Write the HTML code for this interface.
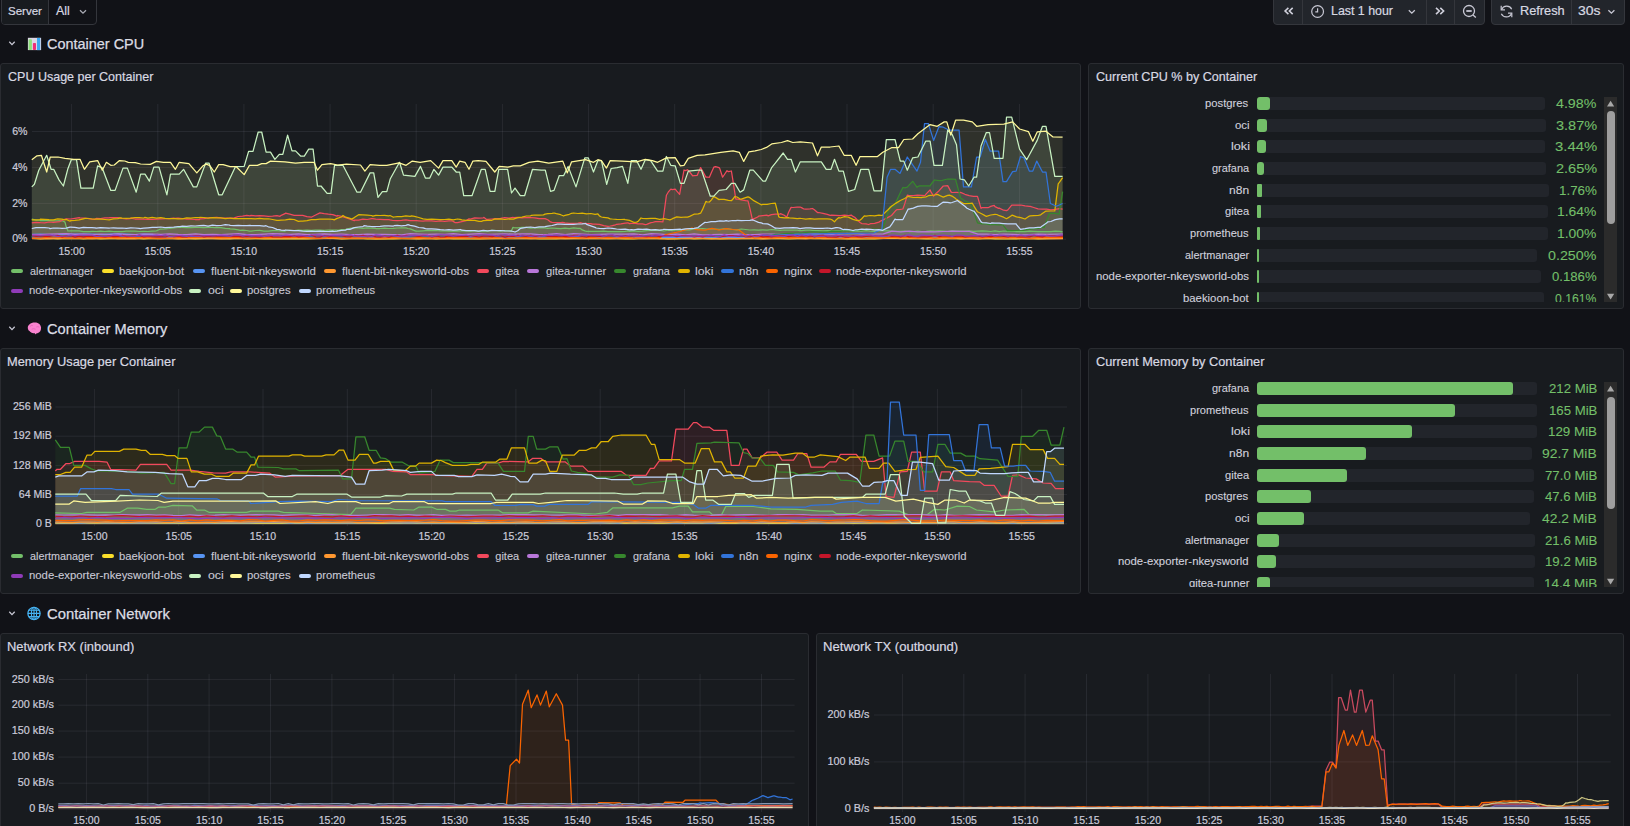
<!DOCTYPE html><html><head><meta charset="utf-8"><style>
*{box-sizing:border-box}
html,body{margin:0;padding:0;background:#111217;width:1630px;height:826px;overflow:hidden;font-family:"Liberation Sans", sans-serif;color:#ccccdc}
.abs{position:absolute}
.panel{position:absolute;background:#181b1f;border:1px solid #2a2c31;border-radius:3px}
.ptitle{position:absolute;left:7px;top:5.5px;font-size:12.85px;color:#d8d9e2;white-space:nowrap;-webkit-text-stroke:0.2px #d8d9e2}
.rowh{position:absolute;left:0;height:20px;font-size:14.7px;color:#dcdde4;white-space:nowrap;-webkit-text-stroke:0.2px #dcdde4}
svg{position:absolute;overflow:visible}
svg text{font-family:"Liberation Sans", sans-serif;stroke:#c8c8d4;stroke-width:0.2px}
.leg{position:absolute;left:11px;display:flex;align-items:center;font-size:10.9px;color:#c8c8d4;white-space:nowrap;-webkit-text-stroke:0.15px #c8c8d4}
.leg span.sw{display:inline-block;width:13px;height:4px;border-radius:2px;margin-right:6.5px}
.leg span.lb{margin-right:9px}
.bg{position:absolute}
.bg .row{position:absolute;left:0;height:14px}
.btn{position:absolute;border:1px solid #2f3137;background:#22252b}
</style></head><body><div class="abs" style="left:1px;top:-9px;width:96px;height:34px;border:1px solid #34363c;border-radius:4px;overflow:hidden;background:#111217"><div class="abs" style="left:0;top:0;width:47px;height:32px;background:#181b1f;border-right:1px solid #34363c"></div></div><div style="position:absolute;left:7.91px;top:5.20px;line-height:1;font-size:11.6px;color:#d8d9e2;white-space:nowrap;transform:scaleX(0.9939);transform-origin:0 0;-webkit-text-stroke:0.2px #d8d9e2">Server</div><div style="position:absolute;left:55.80px;top:5.20px;line-height:1;font-size:12.6px;color:#d8d9e2;white-space:nowrap;transform:scaleX(0.9857);transform-origin:0 0;-webkit-text-stroke:0.2px #d8d9e2">All</div><svg style="left:0;top:0" width="1630" height="30" viewBox="0 0 1630 30"><path d="M80,10.2 L83,13.2 L86,10.2" fill="none" stroke="#a9aab4" stroke-width="1.3"/></svg><div class="abs" style="left:1273px;top:-9px;width:212px;height:34px;border:1px solid #34363c;border-radius:4px;background:#22252b;overflow:hidden"><div class="abs" style="left:28px;top:0;width:1px;height:34px;background:#34363c"></div><div class="abs" style="left:152px;top:0;width:1px;height:34px;background:#34363c"></div><div class="abs" style="left:180px;top:0;width:1px;height:34px;background:#34363c"></div></div><div style="position:absolute;left:1330.62px;top:5.20px;line-height:1;font-size:12.6px;color:#d8d9e2;white-space:nowrap;transform:scaleX(0.9839);transform-origin:0 0;-webkit-text-stroke:0.2px #d8d9e2">Last 1 hour</div><div class="abs" style="left:1491px;top:-9px;width:134px;height:34px;border:1px solid #34363c;border-radius:4px;background:#22252b;overflow:hidden"><div class="abs" style="left:79px;top:0;width:1px;height:34px;background:#34363c"></div></div><div style="position:absolute;left:1519.59px;top:5.20px;line-height:1;font-size:12.6px;color:#d8d9e2;white-space:nowrap;transform:scaleX(1.0140);transform-origin:0 0;-webkit-text-stroke:0.2px #d8d9e2">Refresh</div><div style="position:absolute;left:1577.89px;top:5.20px;line-height:1;font-size:12.6px;color:#d8d9e2;white-space:nowrap;transform:scaleX(1.1053);transform-origin:0 0;-webkit-text-stroke:0.2px #d8d9e2">30s</div><svg style="left:0;top:0" width="1630" height="30" viewBox="0 0 1630 30"><path d="M1288.4,7.9 L1285.1,11 L1288.4,14.1 M1292.7,7.9 L1289.4,11 L1292.7,14.1" fill="none" stroke="#d0d0dc" stroke-width="1.6"/><circle cx="1317.6" cy="11.5" r="5.9" fill="none" stroke="#c8c8d4" stroke-width="1.2"/><path d="M1317.6,8.3 L1317.6,11.8 L1315.3,11.8" fill="none" stroke="#c8c8d4" stroke-width="1.2"/><path d="M1408.8,10.2 L1411.8,13.2 L1414.8,10.2" fill="none" stroke="#c8c8d4" stroke-width="1.3"/><path d="M1436,7.9 L1439.3,11 L1436,14.1 M1440.3,7.9 L1443.6,11 L1440.3,14.1" fill="none" stroke="#d0d0dc" stroke-width="1.6"/><circle cx="1469" cy="11" r="5.5" fill="none" stroke="#c8c8d4" stroke-width="1.3"/><path d="M1466.3,11 L1471.7,11" stroke="#c8c8d4" stroke-width="1.8"/><path d="M1473,15 L1475.8,17.6" stroke="#c8c8d4" stroke-width="1.3"/><path d="M1511.7,9.2 A5.6,5.6 0 0 0 1501.6,9.6 M1501.3,13.8 A5.6,5.6 0 0 0 1511.5,13.4" fill="none" stroke="#c8c8d4" stroke-width="1.2"/><path d="M1501.2,5.8 L1501.2,9.8 L1505,9.8 M1511.8,17.3 L1511.8,13.2 L1508,13.2" fill="none" stroke="#c8c8d4" stroke-width="1.2"/><path d="M1608.4,10.2 L1611.4,13.2 L1614.4,10.2" fill="none" stroke="#c8c8d4" stroke-width="1.3"/></svg><svg style="left:0;top:31px" width="60" height="24" viewBox="0 31 60 24"><path d="M9.3,41.8 L12,44.6 L14.7,41.8" fill="none" stroke="#c8c8d4" stroke-width="1.3"/><rect x="27.9" y="37.8" width="13.2" height="12.3" fill="#dcd6e6"/><rect x="28.6" y="39.3" width="3.3" height="10.8" rx="0.8" fill="#8ee07a"/><rect x="32.9" y="43" width="3.1" height="7.1" rx="0.8" fill="#ee2f78"/><rect x="37" y="37.9" width="3.2" height="12.2" fill="#3aa8f2"/></svg><div style="position:absolute;left:46.99px;top:36.90px;line-height:1;font-size:14.3px;color:#dcdde4;white-space:nowrap;transform:scaleX(1.0106);transform-origin:0 0;-webkit-text-stroke:0.25px #dcdde4">Container CPU</div><svg style="left:0;top:316px" width="60" height="24" viewBox="0 316 60 24"><path d="M9.3,326.8 L12,329.6 L14.7,326.8" fill="none" stroke="#c8c8d4" stroke-width="1.3"/><path d="M29.5,331 C27.2,329.5 27.3,325.6 29.6,324.2 C31.2,322.4 35.5,322.2 37.6,323 C40.5,324 41.6,327 40.9,329.6 C40.3,332.3 38.2,333.6 36.2,333.4 L35.6,334.6 L34.8,333.3 C33.3,333.4 31.8,333 30.9,332.2 C30.3,331.9 29.9,331.5 29.5,331 Z" fill="#f983cf"/><path d="M31.6,329.2 q2,-1 4,0 M36.3,327 q1.8,-0.8 3,0.2 M30,326.4 q1.2,-1.4 2.8,-0.8" fill="none" stroke="#e25cb6" stroke-width="0.7"/></svg><div style="position:absolute;left:46.98px;top:321.90px;line-height:1;font-size:14.3px;color:#dcdde4;white-space:nowrap;transform:scaleX(1.0239);transform-origin:0 0;-webkit-text-stroke:0.25px #dcdde4">Container Memory</div><svg style="left:0;top:601px" width="60" height="24" viewBox="0 601 60 24"><path d="M9.3,611.8 L12,614.6 L14.7,611.8" fill="none" stroke="#c8c8d4" stroke-width="1.3"/><circle cx="34" cy="613.4" r="6.1" fill="none" stroke="#45b2f2" stroke-width="1.3"/><ellipse cx="34" cy="613.4" rx="2.6" ry="6.1" fill="none" stroke="#45b2f2" stroke-width="1.1"/><path d="M34,607.3 L34,619.5 M28,610.2 L40,610.2 M27.9,613.4 L40.1,613.4 M28.4,616.6 L39.6,616.6" stroke="#45b2f2" stroke-width="1.1"/></svg><div style="position:absolute;left:46.96px;top:606.90px;line-height:1;font-size:14.3px;color:#dcdde4;white-space:nowrap;transform:scaleX(1.0385);transform-origin:0 0;-webkit-text-stroke:0.25px #dcdde4">Container Network</div><div class="panel" style="left:0px;top:63px;width:1081px;height:246px"></div><div style="position:absolute;left:8.30px;top:71.30px;line-height:1;font-size:12.6px;color:#d8d9e2;white-space:nowrap;transform:scaleX(0.9932);transform-origin:0 0;-webkit-text-stroke:0.2px #d8d9e2">CPU Usage per Container</div><div class="panel" style="left:1088px;top:63px;width:536px;height:246px"></div><div style="position:absolute;left:1096.30px;top:71.30px;line-height:1;font-size:12.6px;color:#d8d9e2;white-space:nowrap;transform:scaleX(0.9969);transform-origin:0 0;-webkit-text-stroke:0.2px #d8d9e2">Current CPU % by Container</div><div class="panel" style="left:0px;top:348px;width:1081px;height:246px"></div><div style="position:absolute;left:7.28px;top:356.30px;line-height:1;font-size:12.6px;color:#d8d9e2;white-space:nowrap;transform:scaleX(1.0195);transform-origin:0 0;-webkit-text-stroke:0.2px #d8d9e2">Memory Usage per Container</div><div class="panel" style="left:1088px;top:348px;width:536px;height:246px"></div><div style="position:absolute;left:1096.30px;top:356.30px;line-height:1;font-size:12.6px;color:#d8d9e2;white-space:nowrap;transform:scaleX(1.0157);transform-origin:0 0;-webkit-text-stroke:0.2px #d8d9e2">Current Memory by Container</div><div class="panel" style="left:0px;top:633px;width:809px;height:268px"></div><div style="position:absolute;left:7.27px;top:641.30px;line-height:1;font-size:12.6px;color:#d8d9e2;white-space:nowrap;transform:scaleX(1.0270);transform-origin:0 0;-webkit-text-stroke:0.2px #d8d9e2">Network RX (inbound)</div><div class="panel" style="left:816px;top:633px;width:808px;height:268px"></div><div style="position:absolute;left:823.26px;top:641.30px;line-height:1;font-size:12.6px;color:#d8d9e2;white-space:nowrap;transform:scaleX(1.0398);transform-origin:0 0;-webkit-text-stroke:0.2px #d8d9e2">Network TX (outbound)</div><svg style="left:0;top:0" width="1630" height="826" viewBox="0 0 1630 826"><line x1="71.6" y1="104" x2="71.6" y2="241.3" stroke="rgba(204,204,220,0.09)" stroke-width="1"/><line x1="157.8" y1="104" x2="157.8" y2="241.3" stroke="rgba(204,204,220,0.09)" stroke-width="1"/><line x1="243.9" y1="104" x2="243.9" y2="241.3" stroke="rgba(204,204,220,0.09)" stroke-width="1"/><line x1="330.1" y1="104" x2="330.1" y2="241.3" stroke="rgba(204,204,220,0.09)" stroke-width="1"/><line x1="416.2" y1="104" x2="416.2" y2="241.3" stroke="rgba(204,204,220,0.09)" stroke-width="1"/><line x1="502.4" y1="104" x2="502.4" y2="241.3" stroke="rgba(204,204,220,0.09)" stroke-width="1"/><line x1="588.6" y1="104" x2="588.6" y2="241.3" stroke="rgba(204,204,220,0.09)" stroke-width="1"/><line x1="674.7" y1="104" x2="674.7" y2="241.3" stroke="rgba(204,204,220,0.09)" stroke-width="1"/><line x1="760.9" y1="104" x2="760.9" y2="241.3" stroke="rgba(204,204,220,0.09)" stroke-width="1"/><line x1="847.0" y1="104" x2="847.0" y2="241.3" stroke="rgba(204,204,220,0.09)" stroke-width="1"/><line x1="933.2" y1="104" x2="933.2" y2="241.3" stroke="rgba(204,204,220,0.09)" stroke-width="1"/><line x1="1019.4" y1="104" x2="1019.4" y2="241.3" stroke="rgba(204,204,220,0.09)" stroke-width="1"/><line x1="32" y1="131.5" x2="1066" y2="131.5" stroke="rgba(204,204,220,0.09)" stroke-width="1"/><line x1="32" y1="167.4" x2="1066" y2="167.4" stroke="rgba(204,204,220,0.09)" stroke-width="1"/><line x1="32" y1="203.4" x2="1066" y2="203.4" stroke="rgba(204,204,220,0.09)" stroke-width="1"/><line x1="32" y1="239.2" x2="1066" y2="239.2" stroke="rgba(204,204,220,0.09)" stroke-width="1"/><path d="M31.8,239.3 L31.8,219.1 L36.1,220.1 L40.0,220.2 L40.4,220.7 L44.7,220.7 L49.0,220.6 L53.3,220.9 L57.6,220.9 L61.9,220.6 L63.0,221.0 L65.0,222.1 L66.2,226.8 L68.0,231.0 L70.5,230.8 L74.8,230.8 L79.1,230.8 L83.4,231.6 L87.7,231.6 L90.0,231.6 L92.0,231.4 L96.3,231.5 L100.6,231.2 L104.9,231.5 L109.2,231.1 L113.5,231.5 L117.8,231.5 L122.1,231.6 L126.4,231.2 L130.7,231.0 L135.0,231.2 L139.3,231.5 L143.6,231.3 L147.9,231.5 L152.2,231.2 L152.9,231.2 L156.5,230.8 L160.0,229.2 L160.8,229.1 L165.1,229.0 L169.4,228.5 L173.7,227.9 L178.0,227.5 L179.2,227.2 L182.3,227.5 L186.6,227.6 L190.9,227.6 L195.2,227.4 L199.5,227.3 L203.8,227.7 L208.1,227.3 L212.4,227.4 L215.0,227.6 L216.7,227.6 L221.0,227.7 L225.3,228.3 L229.6,228.6 L230.0,228.9 L233.9,229.2 L238.2,229.8 L240.0,230.4 L242.5,230.2 L246.8,230.5 L249.5,231.2 L251.1,231.2 L255.4,230.5 L259.7,230.4 L264.0,231.1 L268.3,231.1 L272.6,230.7 L276.9,230.6 L281.2,231.0 L285.0,231.2 L285.5,230.5 L289.8,230.3 L294.1,230.5 L298.4,230.1 L302.7,230.3 L307.0,230.1 L311.3,230.4 L315.6,230.2 L319.9,230.0 L324.2,230.3 L328.5,230.1 L332.8,230.1 L337.1,230.2 L337.7,230.4 L341.4,229.7 L345.7,229.4 L350.0,228.4 L351.7,228.0 L354.3,227.9 L358.6,228.0 L362.9,228.4 L367.2,227.9 L371.5,228.2 L375.8,228.5 L380.1,228.5 L384.4,228.2 L388.7,228.5 L393.0,228.3 L397.3,228.0 L401.6,227.8 L405.9,227.9 L408.0,228.5 L410.2,228.8 L414.5,230.6 L416.0,231.2 L418.8,231.2 L423.1,230.8 L427.4,230.4 L431.7,230.6 L436.0,230.5 L440.3,230.9 L444.6,231.0 L448.9,231.2 L453.2,231.0 L457.5,231.2 L461.8,230.9 L466.1,230.8 L470.4,231.1 L474.7,230.6 L479.0,231.1 L483.3,231.0 L487.6,231.1 L491.9,230.4 L496.2,230.5 L500.5,231.2 L504.8,230.5 L509.1,230.8 L511.3,230.9 L513.0,227.3 L513.4,227.7 L517.7,227.8 L522.0,227.4 L526.3,227.3 L530.6,228.2 L534.9,227.9 L539.2,227.8 L543.5,227.8 L545.0,227.8 L547.8,228.3 L552.1,228.0 L556.4,228.3 L560.7,228.6 L565.0,228.2 L569.3,228.6 L573.6,227.8 L577.9,228.4 L580.4,228.4 L582.2,229.9 L584.8,230.9 L586.5,231.3 L590.8,231.4 L595.1,231.4 L599.4,231.3 L603.7,231.1 L608.0,231.7 L612.3,231.6 L616.6,231.5 L620.9,231.7 L625.2,231.3 L627.8,230.9 L629.5,231.4 L633.8,230.8 L638.1,231.3 L642.4,231.1 L646.7,230.7 L651.0,230.5 L655.3,230.4 L659.6,230.4 L663.9,231.0 L668.2,230.2 L672.5,230.7 L676.8,230.0 L681.1,230.0 L685.4,229.6 L689.7,229.8 L694.0,228.9 L698.0,228.8 L702.6,228.5 L706.9,229.1 L711.2,228.8 L715.5,229.0 L719.8,229.3 L724.1,228.8 L728.4,228.8 L732.7,229.5 L737.0,229.8 L741.3,229.0 L745.6,229.5 L749.9,230.0 L754.2,229.9 L758.5,230.1 L762.8,229.8 L767.1,230.2 L771.4,229.5 L775.7,229.9 L780.0,230.3 L784.3,230.0 L788.6,230.1 L792.9,230.1 L797.2,230.2 L800.0,230.6 L801.5,230.7 L805.8,230.1 L810.1,230.2 L814.4,230.7 L818.7,230.7 L823.0,230.8 L827.3,230.7 L831.6,230.9 L835.9,230.9 L840.2,230.8 L844.5,230.5 L848.8,230.3 L853.1,231.1 L857.4,231.1 L861.7,231.2 L866.0,230.6 L870.3,231.1 L874.6,231.3 L878.9,230.7 L882.8,230.6 L883.2,230.7 L887.5,230.8 L891.8,231.2 L896.1,231.3 L900.4,231.3 L904.7,231.2 L909.0,231.5 L913.3,231.5 L917.6,231.0 L921.9,231.5 L926.2,231.3 L930.5,230.9 L934.8,231.2 L939.1,230.9 L943.4,231.1 L947.7,231.5 L952.0,230.8 L956.3,231.2 L960.6,231.2 L964.9,231.0 L969.2,230.8 L973.5,231.3 L977.8,231.1 L982.1,230.9 L986.4,231.2 L990.7,231.5 L995.0,230.9 L999.3,231.6 L1003.6,231.0 L1007.9,231.3 L1012.2,231.2 L1016.5,231.7 L1020.8,231.7 L1025.1,231.6 L1029.4,231.2 L1033.7,231.3 L1038.0,231.7 L1042.3,231.5 L1046.6,231.6 L1050.9,231.7 L1055.2,231.2 L1059.5,231.4 L1062.6,231.9 L1062.6,239.3 Z" fill="#73BF69" fill-opacity="0.1"/><path d="M32.0,239.3 L32.0,238.5 L40.6,239.0 L49.2,238.5 L57.8,238.8 L66.4,238.5 L75.0,238.5 L83.6,239.0 L92.2,238.5 L100.8,238.8 L109.4,238.7 L118.0,238.7 L126.6,238.7 L135.2,238.5 L143.8,238.9 L152.4,238.5 L161.0,238.5 L169.6,238.4 L178.2,238.6 L186.8,238.6 L195.4,238.9 L204.0,238.6 L212.6,238.5 L221.2,238.6 L229.8,239.0 L238.4,238.4 L247.0,238.8 L255.6,238.6 L264.2,238.8 L272.8,238.6 L281.4,238.8 L290.0,238.7 L298.6,238.8 L307.2,238.9 L315.8,238.7 L324.4,238.5 L333.0,238.4 L341.6,239.0 L350.2,238.7 L358.8,238.5 L367.4,239.0 L376.0,238.7 L384.6,238.8 L393.2,238.9 L401.8,238.6 L410.4,238.6 L419.0,238.9 L427.6,238.5 L436.2,238.9 L444.8,238.5 L453.4,238.8 L462.0,238.8 L470.6,239.0 L479.2,238.9 L487.8,238.7 L496.4,238.5 L505.0,238.5 L513.6,238.7 L522.2,238.7 L530.8,238.4 L539.4,238.9 L548.0,238.7 L556.6,238.8 L565.2,238.5 L573.8,238.5 L582.4,238.4 L591.0,238.6 L599.6,238.6 L608.2,238.7 L616.8,238.6 L625.4,238.9 L634.0,238.9 L642.6,238.5 L651.2,238.6 L659.8,238.5 L668.4,238.8 L677.0,239.0 L685.6,238.5 L694.2,238.9 L702.8,238.6 L711.4,238.4 L720.0,238.9 L728.6,238.6 L737.2,238.5 L745.8,238.7 L754.4,238.5 L763.0,238.6 L771.6,238.7 L780.2,238.7 L788.8,238.8 L797.4,238.6 L806.0,238.5 L814.6,238.5 L823.2,238.5 L831.8,238.7 L840.4,238.6 L849.0,238.9 L857.6,238.7 L866.2,238.8 L874.8,239.0 L883.4,238.4 L892.0,238.4 L900.6,238.5 L909.2,238.6 L917.8,238.7 L926.4,238.8 L935.0,238.6 L943.6,239.0 L952.2,238.4 L960.8,238.9 L969.4,238.5 L978.0,238.9 L986.6,238.4 L995.2,239.0 L1003.8,238.9 L1012.4,239.0 L1021.0,238.7 L1029.6,238.5 L1038.2,239.0 L1046.8,238.7 L1063.0,238.5 L1063.0,239.3 Z" fill="#FADE2A" fill-opacity="0.1"/><path d="M32.0,239.3 L32.0,234.4 L40.6,234.1 L49.2,234.6 L57.8,234.6 L66.4,234.2 L75.0,234.1 L83.6,234.2 L92.2,234.1 L100.8,234.6 L109.4,234.1 L118.0,233.9 L126.6,234.2 L135.2,234.5 L143.8,234.2 L152.4,234.4 L161.0,237.2 L169.6,237.7 L178.2,237.2 L186.8,237.7 L195.4,237.1 L204.0,237.5 L212.6,237.9 L221.2,237.5 L229.8,237.4 L238.4,237.9 L247.0,237.7 L255.6,237.3 L264.2,237.1 L272.8,237.8 L281.4,237.5 L290.0,237.8 L298.6,237.1 L307.2,237.6 L315.8,237.5 L324.4,237.8 L333.0,237.2 L341.6,237.5 L350.2,237.2 L358.8,237.7 L367.4,237.2 L376.0,237.5 L384.6,237.6 L393.2,237.8 L401.8,237.4 L410.4,237.7 L419.0,237.5 L427.6,237.6 L436.2,237.2 L444.8,237.3 L453.4,237.2 L462.0,237.3 L470.6,237.9 L479.2,237.6 L487.8,237.7 L496.4,237.6 L505.0,237.6 L513.6,237.9 L522.2,237.9 L530.8,237.2 L539.4,237.6 L548.0,237.5 L556.6,237.6 L565.2,237.2 L573.8,237.7 L582.4,237.8 L591.0,237.4 L599.6,237.2 L608.2,237.3 L616.8,237.4 L625.4,237.9 L634.0,237.7 L642.6,237.8 L651.2,237.6 L659.8,237.7 L668.4,237.5 L677.0,237.5 L685.6,237.4 L694.2,237.4 L702.8,237.1 L711.4,237.2 L720.0,237.2 L728.6,237.4 L737.2,237.4 L745.8,237.4 L754.4,237.1 L763.0,237.2 L771.6,237.5 L780.2,237.5 L788.8,237.7 L797.4,237.5 L806.0,237.2 L814.6,237.4 L823.2,237.3 L831.8,237.4 L840.4,237.1 L849.0,237.8 L857.6,237.6 L866.2,237.4 L874.8,237.2 L883.4,237.2 L892.0,237.1 L900.6,237.6 L909.2,237.1 L917.8,237.1 L926.4,237.7 L935.0,237.4 L943.6,237.5 L952.2,237.5 L960.8,237.3 L969.4,237.8 L978.0,237.6 L986.6,237.2 L995.2,237.7 L1003.8,237.5 L1012.4,237.5 L1021.0,237.1 L1029.6,237.8 L1038.2,237.9 L1046.8,237.1 L1055.4,237.3 L1055.4,239.3 Z" fill="#5794F2" fill-opacity="0.1"/><path d="M32.0,239.3 L32.0,238.1 L40.6,238.7 L49.2,238.6 L57.8,238.2 L66.4,238.4 L75.0,238.4 L83.6,238.5 L92.2,238.6 L100.8,238.1 L109.4,238.0 L118.0,238.7 L126.6,238.3 L135.2,238.6 L143.8,238.0 L152.4,238.4 L161.0,238.6 L169.6,238.2 L178.2,238.8 L186.8,238.7 L195.4,238.0 L204.0,238.0 L212.6,238.4 L221.2,238.8 L229.8,238.3 L238.4,238.2 L247.0,238.3 L255.6,238.0 L264.2,238.2 L272.8,238.4 L281.4,238.4 L290.0,238.2 L298.6,238.2 L307.2,238.2 L315.8,238.4 L324.4,238.2 L333.0,238.0 L341.6,238.7 L350.2,238.4 L358.8,238.5 L367.4,238.1 L376.0,238.8 L384.6,238.7 L393.2,238.1 L401.8,238.3 L410.4,238.6 L419.0,238.6 L427.6,238.7 L436.2,238.3 L444.8,238.7 L453.4,238.5 L462.0,238.2 L470.6,238.5 L479.2,238.7 L487.8,238.7 L496.4,238.4 L505.0,238.5 L513.6,238.0 L522.2,238.2 L530.8,238.6 L539.4,238.3 L548.0,238.1 L556.6,238.4 L565.2,238.6 L573.8,238.5 L582.4,238.3 L591.0,238.4 L599.6,238.4 L608.2,238.6 L616.8,238.4 L625.4,238.3 L634.0,238.4 L642.6,238.0 L651.2,238.0 L659.8,238.6 L668.4,238.8 L677.0,238.5 L685.6,238.3 L694.2,238.1 L702.8,238.4 L711.4,238.8 L720.0,238.6 L728.6,238.4 L737.2,238.7 L745.8,238.2 L754.4,238.4 L763.0,238.8 L771.6,238.5 L780.2,238.4 L788.8,238.2 L797.4,238.4 L806.0,238.8 L814.6,238.0 L823.2,238.6 L831.8,238.7 L840.4,238.7 L849.0,238.6 L857.6,238.6 L866.2,238.4 L874.8,238.4 L883.4,238.3 L892.0,238.0 L900.6,238.7 L909.2,238.5 L917.8,238.2 L926.4,238.4 L935.0,238.4 L943.6,238.3 L952.2,238.3 L960.8,238.4 L969.4,238.5 L978.0,238.5 L986.6,238.4 L995.2,238.0 L1003.8,238.2 L1012.4,238.1 L1021.0,238.5 L1029.6,238.7 L1038.2,238.6 L1046.8,238.6 L1063.0,238.7 L1063.0,239.3 Z" fill="#FF9830" fill-opacity="0.1"/><path d="M31.8,239.3 L31.8,222.9 L36.1,222.3 L40.4,222.7 L44.7,222.8 L49.0,222.0 L53.3,222.4 L57.6,221.9 L60.0,221.6 L61.9,220.2 L63.0,219.8 L66.2,218.8 L70.5,219.0 L74.8,218.3 L79.1,217.7 L80.0,217.9 L83.4,218.1 L87.7,218.4 L92.0,219.1 L95.0,219.3 L96.3,218.4 L100.6,218.7 L104.9,217.9 L109.2,217.8 L110.0,217.5 L113.5,217.5 L117.8,217.5 L122.1,218.5 L126.4,218.9 L130.0,218.7 L130.7,218.2 L135.0,219.0 L139.3,219.0 L143.6,219.2 L147.9,219.4 L152.2,219.4 L156.5,219.2 L160.0,218.9 L160.8,219.0 L165.1,218.7 L169.4,218.7 L173.7,218.2 L175.0,218.4 L178.0,218.2 L182.3,218.5 L186.6,219.1 L190.9,219.1 L195.2,219.5 L199.5,219.5 L200.0,218.9 L203.8,218.7 L208.1,218.0 L210.0,217.7 L212.4,217.5 L216.7,217.4 L221.0,217.8 L225.3,218.0 L229.6,218.0 L233.9,218.0 L235.0,217.6 L238.2,216.5 L242.5,216.2 L246.8,215.4 L250.0,215.9 L251.1,215.3 L255.4,215.9 L259.7,215.7 L264.0,215.9 L268.3,216.3 L272.6,216.2 L276.9,215.7 L280.0,216.3 L281.2,215.3 L285.0,213.7 L285.5,213.1 L289.8,214.2 L294.1,215.4 L298.4,215.3 L302.7,215.4 L307.0,216.6 L311.3,217.2 L315.6,215.0 L319.9,212.9 L324.2,213.6 L328.5,214.2 L332.8,214.6 L337.1,216.1 L337.7,215.5 L341.4,216.3 L345.7,217.7 L350.0,219.2 L354.3,220.7 L355.0,220.0 L358.6,220.1 L362.9,219.2 L367.2,219.5 L371.5,218.6 L372.8,218.7 L375.8,219.2 L380.1,219.3 L384.4,219.7 L388.7,219.6 L390.0,219.9 L393.0,220.5 L397.3,220.6 L401.6,220.4 L405.9,219.8 L410.2,220.6 L414.5,220.7 L416.7,220.7 L418.8,220.8 L423.1,221.1 L425.0,220.9 L427.4,220.9 L431.7,220.8 L436.0,221.3 L440.3,220.9 L444.6,221.4 L448.9,220.8 L451.8,220.8 L453.2,221.4 L455.3,222.7 L457.5,222.6 L461.8,221.6 L466.1,220.6 L469.0,218.9 L470.4,219.2 L474.7,217.8 L479.0,218.1 L483.3,217.8 L484.0,217.4 L487.0,219.8 L487.6,219.3 L491.9,219.0 L496.2,218.7 L500.5,218.4 L504.8,217.6 L509.1,218.2 L513.0,217.4 L513.4,217.6 L517.7,217.4 L522.0,217.9 L526.3,217.5 L530.6,217.5 L534.9,217.8 L539.2,218.7 L543.5,218.6 L545.0,218.6 L547.8,219.8 L550.5,221.9 L552.1,222.4 L556.4,222.7 L560.7,222.7 L562.8,222.4 L565.0,222.8 L569.3,223.4 L573.6,223.3 L577.9,223.0 L580.4,222.7 L582.2,223.1 L586.5,223.4 L590.8,223.6 L592.7,224.2 L595.1,224.2 L599.4,224.4 L603.7,225.7 L608.0,226.3 L610.2,226.0 L612.3,225.6 L615.5,224.8 L616.6,224.3 L620.9,223.9 L625.2,223.2 L627.8,222.8 L629.5,223.6 L633.8,223.2 L638.1,223.9 L642.4,223.9 L645.3,224.6 L646.7,224.3 L651.0,222.7 L652.4,222.5 L655.3,221.7 L659.6,221.7 L662.9,221.8 L663.9,214.0 L666.4,195.3 L668.2,192.2 L670.8,189.2 L672.5,189.7 L675.2,189.1 L676.8,191.1 L679.6,194.4 L681.1,186.0 L684.0,170.0 L685.4,170.6 L687.5,169.7 L689.7,172.0 L692.7,175.8 L694.0,175.7 L697.1,175.4 L698.3,172.8 L700.6,167.6 L702.6,171.0 L705.9,177.1 L706.9,177.0 L709.4,177.3 L711.2,172.9 L713.8,167.2 L715.5,166.6 L719.1,167.6 L719.8,168.6 L722.6,177.2 L724.1,175.0 L727.0,170.7 L728.4,171.6 L731.4,171.0 L732.7,179.1 L735.8,199.0 L737.0,199.0 L741.3,199.8 L745.6,200.7 L748.0,200.9 L749.9,208.3 L752.4,219.6 L754.2,218.6 L757.7,217.0 L758.5,216.2 L762.8,215.6 L767.1,215.2 L768.2,215.9 L771.4,214.6 L775.7,214.1 L780.0,214.1 L780.5,213.6 L784.3,215.3 L786.7,217.2 L788.6,212.2 L791.1,207.4 L792.9,207.5 L797.2,207.1 L800.0,207.0 L801.5,207.6 L803.8,209.0 L805.8,209.1 L810.1,208.8 L812.5,208.5 L814.4,209.7 L817.8,212.7 L818.7,212.5 L823.0,213.3 L827.3,214.4 L830.1,215.4 L831.6,215.2 L835.9,215.4 L840.2,215.6 L844.5,215.2 L848.8,215.7 L851.2,215.1 L853.1,216.4 L854.7,217.2 L857.4,220.0 L860.0,222.5 L861.7,223.6 L866.0,223.9 L868.7,224.5 L870.3,223.7 L874.6,223.3 L878.9,222.1 L881.0,220.8 L883.2,219.9 L887.5,217.6 L891.5,215.5 L896.1,210.2 L896.8,209.7 L900.4,209.4 L902.9,209.0 L904.7,203.9 L907.3,195.2 L909.0,195.7 L913.3,195.6 L917.6,195.1 L921.9,195.4 L924.9,195.6 L926.2,193.9 L930.1,189.9 L930.5,191.1 L933.6,196.1 L934.8,194.5 L939.1,190.7 L943.3,186.0 L947.7,185.6 L951.2,192.1 L952.0,192.5 L956.3,192.4 L960.0,192.6 L960.6,192.4 L964.9,194.3 L969.2,195.7 L970.5,195.8 L973.5,196.4 L977.5,196.3 L981.0,208.3 L982.1,207.6 L986.4,207.5 L988.1,207.7 L990.7,206.4 L994.2,205.4 L995.0,206.6 L998.6,208.4 L999.3,208.1 L1003.6,210.2 L1006.5,210.6 L1007.9,209.9 L1011.7,205.1 L1012.2,205.2 L1016.5,205.1 L1020.8,205.0 L1025.1,205.9 L1029.4,206.3 L1030.2,206.4 L1033.7,207.5 L1038.0,208.9 L1042.3,209.1 L1046.6,209.1 L1050.9,209.9 L1055.2,209.4 L1059.5,208.7 L1062.6,209.1 L1062.6,239.3 Z" fill="#F2495C" fill-opacity="0.1"/><path d="M32.0,239.3 L32.0,234.6 L40.6,234.6 L49.2,234.2 L57.8,233.9 L66.4,233.6 L75.0,234.4 L83.6,234.2 L92.2,234.5 L100.8,234.0 L109.4,234.5 L118.0,233.9 L126.6,234.6 L135.2,234.5 L143.8,234.1 L152.4,234.2 L161.0,234.4 L169.6,233.8 L178.2,234.3 L186.8,234.6 L195.4,233.9 L204.0,234.6 L212.6,234.4 L221.2,234.6 L229.8,234.0 L238.4,233.7 L247.0,234.6 L255.6,234.6 L264.2,234.1 L272.8,233.7 L281.4,233.8 L290.0,234.4 L298.6,233.9 L307.2,234.7 L315.8,234.3 L324.4,233.8 L333.0,234.4 L341.6,234.0 L350.2,234.7 L358.8,234.7 L367.4,234.2 L376.0,234.4 L384.6,234.4 L393.2,234.6 L401.8,234.8 L410.4,233.6 L419.0,234.0 L427.6,234.3 L436.2,234.0 L444.8,234.3 L453.4,233.7 L462.0,234.7 L470.6,234.2 L479.2,233.7 L487.8,234.4 L496.4,234.0 L505.0,233.8 L513.6,234.2 L522.2,233.8 L530.8,233.9 L539.4,234.6 L548.0,234.4 L556.6,233.6 L565.2,234.5 L573.8,233.6 L582.4,234.0 L591.0,234.7 L599.6,234.3 L608.2,234.0 L616.8,234.1 L625.4,234.1 L634.0,233.8 L642.6,234.8 L651.2,233.7 L659.8,234.1 L668.4,234.5 L677.0,234.1 L685.6,234.8 L694.2,233.9 L702.8,234.8 L711.4,234.7 L720.0,234.4 L728.6,234.7 L737.2,234.1 L745.8,234.6 L754.4,234.6 L763.0,234.2 L771.6,234.2 L780.2,234.4 L788.8,234.1 L797.4,233.7 L806.0,234.5 L814.6,233.9 L823.2,234.2 L831.8,234.5 L840.4,233.8 L849.0,233.6 L857.6,233.7 L866.2,234.3 L874.8,234.0 L883.4,233.9 L892.0,231.2 L900.6,231.9 L909.2,231.2 L917.8,231.9 L926.4,231.6 L935.0,231.8 L943.6,231.5 L952.2,231.1 L960.8,231.4 L969.4,231.4 L978.0,234.1 L986.6,234.0 L995.2,234.6 L1003.8,234.0 L1012.4,234.4 L1021.0,234.8 L1029.6,234.7 L1038.2,234.1 L1046.8,234.3 L1063.0,234.0 L1063.0,239.3 Z" fill="#B877D9" fill-opacity="0.1"/><path d="M31.8,239.3 L31.8,236.4 L36.1,236.1 L40.4,236.7 L44.7,236.6 L49.0,236.3 L53.3,236.4 L57.6,236.1 L61.9,236.1 L66.2,236.2 L70.5,236.5 L74.8,236.1 L79.1,236.7 L83.4,236.0 L87.7,236.1 L92.0,236.0 L96.3,236.6 L100.6,236.2 L104.9,236.3 L109.2,236.2 L113.5,236.5 L117.8,236.3 L122.1,236.1 L126.4,236.3 L130.7,236.2 L135.0,236.1 L139.3,236.6 L143.6,236.5 L147.9,236.5 L152.2,236.7 L156.5,236.3 L160.8,236.3 L165.1,236.3 L169.4,236.3 L173.7,236.5 L178.0,236.0 L182.3,236.4 L186.6,236.4 L190.9,236.3 L195.2,236.0 L199.5,236.6 L203.8,236.0 L208.1,236.5 L212.4,236.2 L216.7,236.1 L221.0,236.2 L225.3,236.1 L229.6,236.2 L233.9,236.6 L238.2,236.6 L242.5,236.3 L246.8,236.6 L251.1,236.4 L255.4,236.5 L259.7,236.8 L264.0,236.3 L268.3,236.8 L272.6,236.6 L276.9,236.6 L281.2,236.1 L285.5,236.2 L289.8,236.1 L294.1,236.4 L298.4,236.9 L300.0,236.8 L302.7,236.8 L307.0,236.2 L311.3,236.7 L315.6,236.7 L319.9,236.7 L324.2,236.7 L328.5,236.2 L332.8,236.2 L337.1,236.7 L341.4,236.6 L345.7,236.8 L350.0,236.4 L354.3,236.8 L358.6,236.2 L362.9,236.8 L367.2,236.7 L371.5,236.3 L375.8,236.1 L380.1,236.5 L384.4,236.6 L388.7,236.3 L393.0,236.1 L397.3,236.2 L401.6,236.7 L405.9,236.1 L410.2,236.7 L414.5,236.2 L418.8,236.1 L423.1,236.1 L427.4,236.8 L431.7,236.7 L436.0,236.2 L440.3,236.0 L444.6,236.5 L448.9,236.7 L453.2,236.0 L457.5,236.4 L461.8,236.6 L466.1,236.3 L470.4,236.4 L474.7,236.6 L479.0,236.1 L483.3,236.1 L487.6,236.4 L491.9,236.3 L496.2,236.3 L500.5,236.2 L504.8,236.6 L509.1,236.1 L513.4,236.4 L517.7,236.6 L522.0,236.2 L526.3,235.9 L530.6,236.0 L534.9,235.9 L539.2,236.0 L543.5,236.0 L547.8,236.1 L552.1,236.1 L556.4,236.2 L560.7,236.4 L565.0,236.4 L569.3,236.4 L573.6,236.1 L577.9,236.4 L582.2,236.3 L586.5,235.9 L590.8,236.2 L595.1,236.1 L599.4,236.3 L600.0,236.4 L603.7,236.0 L608.0,236.1 L612.3,236.1 L616.6,236.0 L620.9,235.8 L625.2,235.8 L629.5,236.6 L633.8,236.3 L638.1,236.1 L642.4,236.3 L646.7,236.0 L651.0,236.3 L655.3,236.5 L659.6,236.3 L663.9,236.1 L668.2,236.5 L672.5,236.4 L676.8,235.8 L681.1,236.0 L685.4,236.1 L689.7,235.9 L694.0,236.2 L698.3,235.8 L702.6,236.3 L706.9,236.4 L711.2,235.7 L715.5,236.2 L719.8,235.9 L724.1,236.2 L728.4,236.2 L732.7,236.4 L737.0,236.3 L741.3,235.9 L745.6,236.2 L749.9,235.7 L754.2,236.2 L758.5,235.9 L760.0,235.8 L762.8,235.6 L767.1,235.2 L771.4,235.3 L775.7,234.3 L780.0,234.1 L784.3,233.7 L788.6,233.3 L792.9,233.4 L795.0,233.1 L797.2,233.0 L801.5,233.0 L805.8,232.5 L810.1,232.0 L814.4,231.9 L818.7,232.0 L823.0,232.0 L827.3,232.0 L830.0,231.5 L831.6,231.2 L835.9,231.3 L840.2,231.4 L844.5,230.7 L848.8,231.0 L853.1,230.7 L857.4,230.3 L861.7,230.0 L866.0,229.5 L870.3,229.3 L874.6,229.0 L878.9,229.3 L882.8,229.2 L883.2,228.1 L887.5,213.8 L889.8,206.6 L891.8,206.1 L894.2,205.9 L896.1,201.7 L900.4,192.6 L902.9,187.4 L904.7,187.8 L907.3,187.2 L909.0,185.2 L912.6,181.3 L913.3,182.0 L917.0,187.4 L917.6,186.7 L919.6,185.9 L921.9,185.9 L926.2,185.8 L930.1,185.9 L930.5,185.0 L934.5,180.0 L939.1,180.7 L942.4,180.4 L943.4,180.0 L947.7,179.0 L952.0,179.0 L955.6,179.3 L956.3,182.2 L960.6,197.9 L964.9,200.7 L969.2,202.6 L970.5,203.7 L973.5,211.6 L977.5,222.9 L982.1,223.8 L986.4,223.8 L988.1,224.4 L990.7,224.6 L995.0,224.7 L999.3,225.0 L1003.0,224.9 L1003.6,225.9 L1007.4,230.6 L1007.9,230.3 L1012.2,230.6 L1016.5,230.5 L1020.8,229.8 L1023.2,230.3 L1025.1,229.6 L1029.4,229.4 L1033.7,228.6 L1038.0,228.4 L1042.3,227.1 L1044.2,227.6 L1046.6,220.7 L1049.5,213.3 L1050.9,213.3 L1055.2,213.4 L1059.1,214.1 L1059.5,211.4 L1062.6,191.6 L1062.6,239.3 Z" fill="#37872D" fill-opacity="0.1"/><path d="M31.8,239.3 L31.8,219.9 L36.1,219.8 L40.0,219.7 L40.4,219.2 L44.7,219.3 L49.0,219.7 L53.3,219.8 L57.6,218.9 L61.9,219.1 L65.0,219.8 L66.2,219.4 L70.0,221.2 L70.5,220.7 L74.8,220.3 L79.1,219.8 L83.4,218.8 L85.0,218.4 L87.7,218.5 L92.0,219.0 L96.3,219.2 L100.6,219.2 L104.9,219.5 L109.2,219.8 L110.0,219.6 L113.5,218.9 L117.8,218.6 L120.0,217.8 L122.1,218.2 L126.4,218.3 L130.7,218.2 L135.0,217.5 L139.3,217.6 L143.6,218.0 L145.0,217.3 L147.9,218.1 L152.2,217.4 L156.5,218.2 L160.8,217.6 L165.1,218.3 L169.4,218.6 L173.7,218.5 L175.0,218.6 L178.0,218.8 L182.3,218.8 L186.6,217.9 L190.9,218.1 L195.2,217.5 L199.5,217.7 L200.0,217.4 L203.8,217.5 L208.1,218.1 L212.4,217.7 L216.7,217.8 L221.0,217.8 L225.3,218.7 L229.6,218.2 L230.0,218.1 L233.9,218.6 L238.2,218.7 L242.5,218.7 L246.8,218.6 L251.1,218.6 L255.4,218.8 L259.7,218.4 L264.0,218.9 L268.3,218.8 L270.0,219.0 L272.6,219.5 L276.9,220.3 L279.0,220.4 L281.2,220.1 L285.5,219.8 L289.8,219.1 L294.1,219.5 L298.4,221.4 L300.8,221.2 L302.7,221.2 L307.0,220.6 L311.3,219.7 L315.6,219.7 L319.9,219.1 L324.2,219.2 L328.5,219.0 L332.8,219.4 L334.2,219.9 L337.1,218.4 L341.4,217.0 L343.0,215.5 L345.7,217.2 L350.0,218.4 L351.7,219.1 L354.3,217.6 L358.6,214.7 L362.9,214.9 L367.2,215.2 L371.5,215.5 L372.8,216.1 L375.8,215.4 L380.1,215.5 L384.4,215.4 L388.7,215.8 L390.0,215.5 L393.0,217.0 L394.0,217.0 L397.3,216.7 L401.6,216.6 L405.9,215.9 L410.2,216.3 L411.5,215.9 L414.5,216.4 L418.8,217.5 L423.1,218.9 L427.0,219.4 L427.4,219.3 L431.7,219.1 L436.0,219.3 L440.3,219.7 L444.6,219.5 L448.9,219.2 L453.2,219.8 L457.5,219.0 L460.0,219.3 L461.8,219.9 L466.1,220.4 L470.4,220.4 L474.7,220.3 L479.0,221.3 L481.5,221.4 L483.3,220.7 L487.6,220.4 L491.9,220.3 L495.0,218.9 L496.2,219.1 L500.5,218.9 L504.8,219.5 L509.1,218.9 L513.0,219.2 L513.4,219.1 L517.7,217.6 L522.0,217.1 L526.3,216.0 L530.6,215.8 L531.5,215.3 L534.9,215.0 L539.2,215.2 L543.5,214.9 L545.0,214.1 L547.8,213.7 L552.1,213.3 L554.0,213.0 L556.4,213.7 L560.7,214.7 L563.7,216.0 L565.0,215.3 L569.3,214.3 L571.6,213.3 L573.6,213.0 L577.9,213.5 L582.2,213.2 L586.5,213.8 L590.8,213.5 L595.1,214.4 L597.9,213.9 L599.4,215.9 L601.4,217.0 L603.7,217.3 L608.0,217.9 L610.2,218.8 L612.3,219.0 L616.6,219.3 L620.9,219.5 L624.3,219.3 L625.2,219.6 L629.5,220.4 L633.8,222.3 L636.6,222.1 L638.1,221.4 L641.0,218.0 L642.4,218.3 L646.7,218.7 L651.0,218.4 L655.3,218.4 L659.6,219.3 L662.9,218.8 L663.9,218.6 L668.2,219.5 L669.9,219.9 L672.5,218.7 L676.8,216.9 L681.1,217.4 L685.4,217.0 L687.5,217.2 L689.7,216.4 L694.0,214.2 L694.5,214.1 L698.3,213.9 L700.6,213.2 L702.6,209.4 L705.9,201.4 L706.9,201.8 L709.4,202.0 L711.2,200.1 L713.8,196.6 L715.5,197.4 L719.1,199.6 L719.8,199.3 L724.1,199.4 L728.4,200.4 L731.4,200.7 L732.7,199.3 L734.9,196.5 L737.0,197.0 L740.1,199.0 L741.3,199.2 L745.6,197.7 L748.0,196.9 L749.9,197.7 L754.2,200.9 L758.5,203.3 L761.2,204.8 L762.8,204.4 L767.1,204.3 L771.4,203.5 L775.3,203.1 L775.7,204.7 L778.8,216.9 L780.0,217.3 L784.3,217.9 L788.6,217.7 L789.3,217.9 L792.9,218.2 L797.2,218.7 L800.0,218.3 L801.5,218.5 L805.8,219.1 L810.1,218.6 L814.4,219.1 L818.7,218.9 L823.0,218.8 L827.3,218.9 L830.1,219.2 L831.6,219.5 L834.5,221.8 L835.9,220.1 L838.9,217.6 L840.2,218.0 L844.5,216.6 L847.6,217.0 L848.8,217.4 L852.0,218.9 L853.1,219.4 L857.4,220.7 L860.0,220.2 L861.7,218.7 L864.3,215.9 L866.0,216.2 L870.3,215.5 L874.6,215.9 L878.9,215.1 L882.8,215.5 L883.2,214.2 L887.5,210.2 L891.5,206.2 L896.1,203.1 L900.3,200.5 L904.7,198.5 L908.2,196.2 L909.0,196.7 L913.3,197.5 L917.6,197.3 L921.4,197.6 L921.9,197.4 L926.2,196.8 L928.4,195.7 L930.5,195.4 L934.8,195.0 L937.2,194.4 L939.1,195.2 L943.3,197.1 L947.7,195.4 L949.4,195.2 L952.0,196.1 L955.6,198.6 L956.3,199.3 L960.6,201.8 L963.5,203.5 L964.9,203.7 L969.2,203.5 L972.3,203.2 L973.5,205.3 L977.5,211.8 L982.1,214.0 L985.4,215.9 L986.4,216.4 L990.7,215.0 L995.0,214.3 L996.8,214.5 L999.3,215.7 L1003.6,217.2 L1006.5,218.7 L1007.9,217.9 L1011.7,215.4 L1012.2,215.2 L1016.5,216.8 L1020.8,217.7 L1025.0,219.0 L1029.4,216.1 L1030.2,215.9 L1033.7,215.6 L1038.0,215.5 L1040.7,214.8 L1042.3,213.6 L1046.0,211.1 L1046.6,211.1 L1050.9,211.0 L1054.8,210.8 L1055.2,207.8 L1058.2,183.8 L1059.5,182.2 L1062.6,177.7 L1062.6,239.3 Z" fill="#E0B400" fill-opacity="0.1"/><path d="M31.8,239.3 L31.8,236.8 L200.0,236.5 L400.0,236.9 L600.0,236.4 L760.0,236.0 L795.0,234.3 L830.1,233.7 L874.0,233.0 L881.9,229.0 L887.1,177.2 L890.6,169.3 L895.0,169.3 L900.0,173.4 L907.3,157.0 L917.0,171.1 L920.5,162.3 L924.5,123.7 L928.4,123.7 L933.6,140.4 L938.9,126.7 L943.3,127.2 L949.4,130.2 L959.1,130.2 L963.5,186.9 L971.4,186.9 L976.6,157.0 L980.1,157.0 L985.4,139.5 L990.2,151.2 L998.6,151.2 L1003.0,181.6 L1006.5,181.6 L1012.6,171.6 L1016.1,171.1 L1020.5,156.5 L1024.0,157.9 L1029.3,171.1 L1032.8,171.1 L1036.8,161.1 L1042.5,172.0 L1046.0,172.0 L1050.4,203.5 L1056.5,206.2 L1062.6,203.5 L1062.6,239.3 Z" fill="#3274D9" fill-opacity="0.1"/><path d="M32.0,239.3 L32.0,238.1 L40.6,238.0 L49.2,237.2 L57.8,237.2 L66.4,237.9 L75.0,237.8 L83.6,237.8 L92.2,237.4 L100.8,237.7 L109.4,237.7 L118.0,237.7 L126.6,237.3 L135.2,237.5 L143.8,237.5 L152.4,237.8 L161.0,238.1 L169.6,238.0 L178.2,237.6 L186.8,237.5 L195.4,237.4 L204.0,237.1 L212.6,237.1 L221.2,237.6 L229.8,237.4 L238.4,237.5 L247.0,238.0 L255.6,237.6 L264.2,237.7 L272.8,237.3 L281.4,237.1 L290.0,237.4 L298.6,237.2 L307.2,237.6 L315.8,238.1 L324.4,237.8 L333.0,237.3 L341.6,238.0 L350.2,237.9 L358.8,237.8 L367.4,238.0 L376.0,237.9 L384.6,237.9 L393.2,237.5 L401.8,238.1 L410.4,238.1 L419.0,237.3 L427.6,237.9 L436.2,237.8 L444.8,237.6 L453.4,237.6 L462.0,237.6 L470.6,238.0 L479.2,237.6 L487.8,237.9 L496.4,237.5 L505.0,238.0 L513.6,238.0 L522.2,237.6 L530.8,237.7 L539.4,238.0 L548.0,237.8 L556.6,237.6 L565.2,237.3 L573.8,237.4 L582.4,237.8 L591.0,237.3 L599.6,238.0 L608.2,237.4 L616.8,238.0 L625.4,237.4 L634.0,238.1 L642.6,237.8 L651.2,237.6 L659.8,237.6 L666.0,234.5 L680.0,231.5 L692.0,228.0 L697.0,229.6 L705.0,230.2 L712.0,228.3 L719.0,230.0 L726.0,228.6 L733.0,229.5 L739.0,230.0 L745.0,234.5 L752.0,237.0 L754.4,238.0 L763.0,237.3 L771.6,237.8 L780.2,237.2 L788.8,237.8 L797.4,237.4 L806.0,237.3 L814.6,238.0 L823.2,237.2 L831.8,237.6 L840.4,238.0 L849.0,237.3 L857.6,237.3 L866.2,238.0 L874.8,237.5 L883.4,237.8 L892.0,237.1 L900.6,237.5 L909.2,237.3 L917.8,237.8 L926.4,237.2 L935.0,238.1 L943.6,237.1 L952.2,237.8 L960.8,237.1 L969.4,237.4 L978.0,237.9 L986.6,237.3 L995.2,237.3 L1003.8,237.8 L1012.4,237.5 L1021.0,237.1 L1029.6,238.1 L1038.2,237.3 L1046.8,237.1 L1063.0,237.4 L1063.0,239.3 Z" fill="#FA6400" fill-opacity="0.1"/><path d="M32.0,239.3 L32.0,235.7 L36.3,236.3 L40.6,236.0 L44.9,236.4 L49.2,236.4 L53.5,235.4 L57.8,235.3 L62.1,236.8 L66.4,235.8 L70.7,235.7 L75.0,237.1 L79.3,236.1 L83.6,236.8 L87.9,236.2 L92.2,236.5 L96.5,235.6 L100.8,236.4 L105.1,236.9 L109.4,236.2 L113.7,236.6 L118.0,236.5 L122.3,235.4 L126.6,236.7 L130.9,236.4 L135.2,235.8 L139.5,235.4 L143.8,236.9 L148.1,236.2 L152.4,236.6 L156.7,236.9 L161.0,236.6 L165.3,237.0 L169.6,236.0 L173.9,236.7 L178.2,236.1 L182.5,237.0 L186.8,236.9 L191.1,235.5 L195.4,235.5 L199.7,235.7 L204.0,237.0 L208.3,236.1 L212.6,236.4 L216.9,235.8 L221.2,236.2 L225.5,236.0 L229.8,235.9 L234.1,236.4 L238.4,236.4 L242.7,236.9 L247.0,236.5 L251.3,237.0 L255.6,236.8 L259.9,237.1 L264.2,236.5 L268.5,235.6 L272.8,236.8 L277.1,237.0 L281.4,236.9 L285.7,236.3 L290.0,236.6 L294.3,235.7 L298.6,236.8 L302.9,236.3 L307.2,235.8 L311.5,235.4 L315.8,236.8 L320.1,237.1 L324.4,235.5 L328.7,236.7 L333.0,236.0 L337.3,235.6 L341.6,235.8 L345.9,236.7 L350.2,236.9 L354.5,235.4 L358.8,236.4 L363.1,235.4 L367.4,236.6 L371.7,235.9 L376.0,236.9 L380.3,237.1 L384.6,236.2 L388.9,237.1 L393.2,235.9 L397.5,235.4 L401.8,236.4 L406.1,235.4 L410.4,235.7 L414.7,236.0 L419.0,236.4 L423.3,235.6 L427.6,235.4 L431.9,236.9 L436.2,235.9 L440.5,237.0 L444.8,236.9 L449.1,236.0 L453.4,236.1 L457.7,236.2 L462.0,236.5 L466.3,236.4 L470.6,236.3 L474.9,236.4 L479.2,237.0 L483.5,236.2 L487.8,236.1 L492.1,236.6 L496.4,235.7 L500.7,235.8 L505.0,237.1 L509.3,236.2 L513.6,236.3 L517.9,235.3 L522.2,236.0 L526.5,236.3 L530.8,235.3 L535.1,236.4 L539.4,236.4 L543.7,235.4 L548.0,236.4 L552.3,236.1 L556.6,236.5 L560.9,235.9 L565.2,236.6 L569.5,236.6 L573.8,235.3 L578.1,235.4 L582.4,236.5 L586.7,237.0 L591.0,235.8 L595.3,236.1 L599.6,236.4 L603.9,235.9 L608.2,236.0 L612.5,235.9 L616.8,236.0 L621.1,236.4 L625.4,235.8 L629.7,236.0 L634.0,236.7 L638.3,235.3 L642.6,236.3 L646.9,236.6 L651.2,235.9 L655.5,235.7 L659.8,236.7 L664.1,235.7 L668.4,235.6 L672.7,236.1 L677.0,236.6 L681.3,235.5 L685.6,235.9 L689.9,235.9 L694.2,236.8 L698.5,236.1 L702.8,236.8 L707.1,235.6 L711.4,235.9 L715.7,236.5 L720.0,236.9 L724.3,236.1 L728.6,235.7 L732.9,235.5 L737.2,236.3 L741.5,235.6 L745.8,236.8 L750.1,236.8 L754.4,235.6 L758.7,235.8 L763.0,236.8 L767.3,236.5 L771.6,236.8 L775.9,235.9 L780.2,235.5 L784.5,235.8 L788.8,236.7 L793.1,235.8 L797.4,235.9 L801.7,236.1 L806.0,236.1 L810.3,236.0 L814.6,237.0 L818.9,235.6 L823.2,235.3 L827.5,237.0 L831.8,236.9 L836.1,237.1 L840.4,236.1 L844.7,237.0 L849.0,237.0 L853.3,235.7 L857.6,236.6 L861.9,236.8 L866.2,236.5 L870.5,236.2 L874.8,235.8 L879.1,235.9 L883.4,235.7 L887.7,235.4 L892.0,236.4 L896.3,235.8 L900.6,236.8 L904.9,235.4 L909.2,236.9 L913.5,236.5 L917.8,237.0 L922.1,236.9 L926.4,236.9 L930.7,236.3 L935.0,235.3 L939.3,236.6 L943.6,235.6 L947.9,235.8 L952.2,236.5 L956.5,236.2 L960.8,236.0 L965.1,237.0 L969.4,236.4 L973.7,235.9 L978.0,235.8 L982.3,236.9 L986.6,236.2 L990.9,236.7 L995.2,235.9 L999.5,235.7 L1003.8,236.3 L1008.1,236.8 L1012.4,235.6 L1016.7,236.7 L1021.0,237.0 L1025.3,236.8 L1029.6,236.8 L1033.9,235.3 L1038.2,236.4 L1042.5,236.9 L1046.8,235.4 L1051.1,235.8 L1055.4,235.8 L1063.0,236.2 L1063.0,239.3 Z" fill="#C4162A" fill-opacity="0.1"/><path d="M32.0,239.3 L32.0,235.2 L36.3,235.0 L40.6,235.4 L44.9,235.0 L49.2,234.9 L53.5,235.4 L57.8,236.3 L62.1,236.1 L66.4,236.0 L70.7,235.2 L75.0,235.7 L79.3,235.2 L83.6,235.1 L87.9,235.0 L92.2,235.1 L96.5,236.3 L100.8,236.1 L105.1,236.1 L109.4,236.1 L113.7,235.1 L118.0,235.3 L122.3,235.8 L126.6,236.0 L130.9,236.2 L135.2,236.2 L139.5,234.9 L143.8,235.8 L148.1,235.9 L152.4,235.6 L156.7,235.1 L161.0,235.6 L165.3,234.9 L169.6,236.3 L173.9,236.2 L178.2,235.7 L182.5,235.3 L186.8,236.3 L191.1,235.7 L195.4,236.2 L199.7,236.2 L204.0,235.6 L208.3,235.5 L212.6,235.8 L216.9,235.5 L221.2,235.1 L225.5,235.3 L229.8,236.1 L234.1,234.9 L238.4,234.9 L242.7,235.8 L247.0,235.2 L251.3,235.7 L255.6,235.6 L259.9,235.3 L264.2,236.4 L268.5,235.1 L272.8,235.5 L277.1,235.1 L281.4,235.8 L285.7,235.2 L290.0,235.4 L294.3,236.0 L298.6,235.3 L302.9,235.7 L307.2,236.2 L311.5,235.0 L315.8,234.9 L320.1,235.2 L324.4,236.0 L328.7,235.8 L333.0,235.2 L337.3,235.3 L341.6,235.1 L345.9,235.5 L350.2,234.9 L354.5,235.9 L358.8,236.2 L363.1,236.3 L367.4,236.0 L371.7,236.3 L376.0,234.8 L380.3,235.3 L384.6,236.3 L388.9,236.0 L393.2,235.5 L397.5,236.3 L401.8,235.8 L406.1,236.1 L410.4,235.3 L414.7,235.1 L419.0,235.5 L423.3,235.0 L427.6,235.4 L431.9,236.3 L436.2,235.3 L440.5,234.8 L444.8,234.9 L449.1,235.1 L453.4,236.1 L457.7,235.4 L462.0,235.3 L466.3,235.0 L470.6,236.4 L474.9,235.5 L479.2,235.1 L483.5,234.9 L487.8,234.9 L492.1,235.1 L496.4,235.9 L500.7,235.0 L505.0,234.9 L509.3,235.6 L513.6,235.2 L517.9,236.4 L522.2,235.0 L526.5,235.6 L530.8,236.0 L535.1,235.5 L539.4,236.4 L543.7,235.6 L548.0,235.2 L552.3,235.5 L556.6,234.9 L560.9,235.5 L565.2,235.2 L569.5,236.2 L573.8,236.1 L578.1,235.6 L582.4,234.9 L586.7,235.2 L591.0,235.2 L595.3,235.1 L599.6,235.2 L603.9,236.2 L608.2,235.0 L612.5,234.9 L616.8,236.3 L621.1,235.7 L625.4,236.4 L629.7,235.4 L634.0,236.2 L638.3,235.8 L642.6,236.1 L646.9,236.0 L651.2,235.6 L655.5,234.9 L659.8,235.1 L664.1,236.2 L668.4,236.2 L672.7,236.3 L677.0,235.3 L681.3,235.9 L685.6,236.1 L689.9,235.8 L694.2,236.1 L698.5,235.6 L702.8,235.8 L707.1,235.9 L711.4,235.2 L715.7,236.3 L720.0,236.3 L724.3,234.9 L728.6,236.4 L732.9,236.3 L737.2,235.9 L741.5,234.9 L745.8,236.2 L750.1,235.0 L754.4,236.3 L758.7,235.9 L763.0,234.9 L767.3,235.1 L771.6,235.8 L775.9,235.7 L780.2,236.0 L784.5,236.3 L788.8,235.1 L793.1,234.8 L797.4,236.3 L801.7,234.8 L806.0,236.2 L810.3,235.0 L814.6,236.1 L818.9,236.1 L823.2,236.2 L827.5,235.7 L831.8,236.2 L836.1,235.1 L840.4,235.9 L844.7,235.3 L849.0,236.2 L853.3,236.0 L857.6,235.6 L861.9,235.6 L866.2,234.8 L870.5,234.9 L874.8,235.8 L879.1,235.6 L883.4,236.2 L887.7,235.8 L892.0,235.0 L896.3,235.4 L900.6,236.0 L904.9,235.6 L909.2,234.8 L913.5,236.1 L917.8,236.1 L922.1,234.9 L926.4,235.7 L930.7,235.4 L935.0,236.1 L939.3,235.3 L943.6,235.2 L947.9,235.6 L952.2,236.3 L956.5,235.0 L960.8,235.0 L965.1,235.8 L969.4,236.2 L973.7,235.6 L978.0,235.5 L982.3,236.2 L986.6,236.0 L990.9,234.9 L995.2,236.2 L999.5,235.1 L1003.8,235.3 L1008.1,236.1 L1012.4,235.5 L1016.7,236.1 L1021.0,235.1 L1025.3,236.2 L1029.6,235.1 L1033.9,235.0 L1038.2,235.6 L1042.5,235.3 L1046.8,235.7 L1051.1,236.2 L1055.4,235.9 L1063.0,234.8 L1063.0,239.3 Z" fill="#8F3BB8" fill-opacity="0.1"/><path d="M31.8,239.3 L31.8,186.9 L34.4,184.3 L38.8,170.2 L46.7,155.3 L51.1,169.3 L53.7,169.3 L59.0,179.9 L63.4,186.0 L67.7,169.3 L71.3,159.7 L76.5,159.7 L80.9,188.1 L93.2,188.1 L97.6,165.8 L102.0,167.6 L110.8,190.4 L115.1,190.4 L123.0,168.1 L127.4,168.1 L136.2,192.2 L140.6,174.1 L145.0,174.1 L149.4,181.1 L153.8,167.1 L159.0,167.1 L166.9,194.8 L170.5,174.1 L179.2,174.1 L183.6,169.3 L193.3,186.9 L196.8,186.9 L205.6,163.2 L209.1,163.2 L218.7,194.8 L222.2,194.8 L235.4,166.7 L244.2,166.4 L248.6,151.3 L253.0,151.3 L258.2,132.0 L261.7,132.0 L266.1,152.1 L270.5,152.1 L274.9,159.3 L279.3,154.4 L282.8,154.4 L287.6,135.1 L292.0,150.9 L295.5,150.9 L300.8,156.2 L304.3,156.2 L308.7,149.2 L313.1,149.2 L317.5,186.0 L321.0,186.0 L327.1,193.4 L331.0,193.4 L334.5,165.3 L342.9,165.3 L357.0,192.2 L360.5,192.2 L370.1,172.9 L373.7,172.9 L378.0,197.4 L382.4,191.6 L386.8,191.6 L390.3,178.7 L399.5,162.3 L403.5,175.1 L414.9,176.4 L420.5,166.4 L425.4,178.1 L429.8,178.1 L433.9,169.3 L438.6,175.1 L443.0,167.1 L451.8,167.1 L456.2,172.0 L459.7,172.0 L463.7,195.7 L472.0,195.7 L481.3,169.3 L485.2,169.3 L490.1,191.3 L494.8,191.3 L498.8,169.3 L507.6,169.3 L511.5,193.0 L515.0,188.1 L520.3,195.7 L524.6,195.7 L532.5,169.3 L541.3,170.2 L545.3,170.2 L550.5,191.3 L554.0,190.4 L559.3,175.5 L563.7,175.5 L568.1,166.4 L576.0,186.9 L584.8,157.9 L588.3,157.9 L593.5,172.0 L597.9,160.6 L601.4,160.6 L606.7,184.3 L611.1,168.5 L617.2,167.6 L622.5,166.4 L627.8,183.4 L631.3,160.6 L636.6,160.6 L641.0,169.3 L645.3,159.7 L650.6,160.6 L657.6,171.1 L662.9,171.1 L666.4,156.5 L670.8,165.3 L675.2,165.8 L680.4,183.4 L684.0,183.4 L688.3,171.1 L698.0,170.2 L701.5,170.2 L710.3,196.2 L713.8,196.2 L719.1,190.4 L726.1,189.5 L731.4,183.4 L734.9,183.4 L740.1,192.2 L743.7,189.9 L749.8,170.2 L753.3,170.2 L763.0,181.1 L765.6,181.1 L771.7,167.6 L775.3,163.2 L783.2,153.0 L787.5,159.3 L791.1,159.3 L795.4,172.0 L800.3,161.8 L821.3,161.8 L826.2,169.3 L831.0,169.3 L834.5,159.3 L838.9,171.1 L843.3,171.1 L848.5,191.3 L854.7,189.5 L860.8,169.3 L868.7,169.3 L874.0,190.9 L881.3,190.9 L886.3,139.5 L895.0,139.5 L900.3,161.1 L903.8,161.1 L907.3,170.2 L912.6,157.9 L917.9,157.0 L925.7,141.2 L930.1,141.2 L934.0,165.3 L942.4,165.3 L947.7,130.2 L952.1,134.2 L956.5,144.8 L960.0,179.0 L964.4,179.9 L968.7,186.0 L974.0,177.2 L976.6,177.2 L981.0,146.0 L986.3,132.5 L989.5,132.5 L994.2,158.3 L1003.0,158.3 L1006.5,117.2 L1011.7,117.2 L1019.6,149.1 L1026.7,159.7 L1037.2,140.4 L1042.5,126.3 L1046.0,126.3 L1054.8,176.3 L1062.6,176.3 L1062.6,239.3 Z" fill="#C8F2C2" fill-opacity="0.1"/><path d="M31.8,239.3 L31.8,159.7 L37.0,155.8 L41.4,155.3 L46.7,172.0 L50.2,157.0 L58.0,157.0 L65.0,158.3 L73.9,159.3 L80.0,159.3 L84.4,169.3 L89.7,161.8 L97.6,160.6 L102.3,170.2 L106.4,162.3 L110.8,165.3 L114.3,165.0 L119.5,160.6 L124.8,161.0 L128.3,162.3 L135.3,162.7 L140.6,164.0 L150.3,164.4 L156.4,161.4 L163.4,162.3 L170.5,162.3 L175.4,169.3 L179.2,162.3 L188.9,163.6 L196.8,172.9 L202.9,165.8 L206.4,164.1 L210.0,165.8 L214.3,172.0 L218.7,164.6 L223.1,164.6 L230.1,166.7 L236.3,166.7 L244.2,174.6 L249.5,165.3 L257.4,165.3 L261.7,163.6 L266.1,163.6 L270.5,161.1 L285.0,161.8 L295.5,163.2 L304.3,162.3 L314.0,162.3 L317.5,170.2 L321.9,164.6 L330.6,163.6 L337.7,165.0 L346.4,164.1 L360.5,165.0 L364.9,171.1 L370.1,164.6 L379.8,165.3 L386.8,165.3 L399.1,162.9 L406.1,165.3 L412.3,161.1 L420.2,162.3 L430.7,160.6 L438.6,168.1 L443.0,160.6 L451.8,160.6 L456.2,167.1 L459.7,161.1 L465.0,162.3 L469.0,169.3 L472.9,161.1 L478.1,160.6 L486.0,161.4 L494.8,172.0 L499.2,166.4 L508.0,167.1 L513.2,165.8 L520.3,165.8 L529.0,162.3 L537.8,161.1 L548.8,163.2 L562.8,161.1 L567.2,172.9 L571.6,161.8 L585.6,159.7 L593.5,162.3 L597.9,159.7 L601.4,160.6 L606.4,168.1 L610.2,160.6 L622.5,161.1 L636.6,161.8 L645.3,159.3 L652.4,160.6 L657.6,162.3 L666.4,157.9 L675.2,157.6 L680.4,165.8 L684.0,165.3 L688.3,158.3 L697.1,155.3 L705.0,154.8 L720.8,152.3 L733.1,150.9 L739.3,152.3 L743.7,161.4 L748.9,151.8 L755.1,150.9 L761.2,149.5 L766.5,147.4 L771.7,143.9 L781.4,142.5 L787.5,140.7 L792.8,142.5 L800.3,141.8 L812.5,143.0 L817.5,155.8 L821.3,147.0 L830.1,147.0 L838.9,146.0 L844.1,155.3 L851.2,155.3 L856.1,165.3 L860.0,156.5 L877.5,156.5 L882.8,152.3 L891.5,147.7 L898.5,147.7 L903.8,139.5 L912.6,139.0 L917.9,133.7 L930.1,124.6 L937.2,126.3 L944.2,121.9 L946.8,121.9 L950.8,135.1 L955.6,120.2 L963.5,120.2 L972.3,121.9 L976.6,126.3 L988.1,124.6 L1003.8,124.2 L1012.6,121.9 L1019.6,129.0 L1028.4,131.6 L1032.8,141.2 L1037.2,131.9 L1046.0,131.2 L1053.0,136.9 L1062.6,137.2 L1062.6,239.3 Z" fill="#FFF899" fill-opacity="0.1"/><path d="M31.8,239.3 L31.8,228.5 L36.1,227.6 L40.0,227.5 L40.4,227.6 L44.7,227.6 L49.0,228.0 L50.0,228.6 L53.3,228.0 L57.6,228.0 L61.9,228.3 L66.2,228.1 L70.0,227.1 L70.5,227.1 L74.8,227.4 L79.1,228.1 L83.4,227.4 L87.7,227.7 L92.0,227.7 L95.0,227.8 L96.3,228.2 L100.6,227.7 L104.9,227.8 L109.2,228.1 L110.0,228.0 L113.5,227.8 L117.8,228.2 L122.1,228.0 L126.4,228.3 L130.7,227.8 L135.0,228.0 L139.3,228.3 L140.0,228.6 L143.6,228.2 L147.9,227.8 L152.2,227.4 L156.5,227.3 L160.8,227.0 L165.1,227.6 L169.4,227.3 L173.7,227.2 L178.0,226.6 L180.0,226.7 L182.3,226.2 L186.6,226.3 L190.9,225.8 L195.2,226.0 L199.5,225.7 L203.8,225.4 L208.1,226.1 L212.4,225.1 L216.7,225.7 L221.0,225.5 L225.3,224.7 L229.6,225.0 L230.0,225.5 L233.9,225.6 L238.2,225.3 L242.5,225.6 L246.8,225.6 L250.0,225.3 L251.1,225.6 L255.4,225.7 L259.7,225.6 L264.0,226.1 L266.0,225.7 L268.3,226.8 L272.6,227.5 L276.9,229.3 L279.0,229.5 L281.2,230.1 L285.0,230.3 L285.5,230.0 L289.8,230.3 L294.1,230.7 L298.4,230.7 L302.6,231.2 L307.0,231.4 L311.3,231.2 L315.6,231.3 L319.9,231.1 L324.2,231.4 L328.5,231.5 L332.8,231.1 L334.0,231.5 L337.1,231.2 L341.4,230.3 L345.7,230.2 L346.5,229.4 L350.0,229.3 L354.3,227.7 L358.6,227.0 L362.9,226.6 L364.0,225.6 L367.2,226.2 L371.5,226.5 L375.8,226.5 L380.1,226.3 L384.4,225.9 L388.7,225.9 L393.0,226.2 L394.0,225.7 L397.3,225.4 L401.6,225.9 L405.9,225.3 L408.0,224.7 L410.2,225.4 L414.5,226.1 L418.8,227.5 L423.1,227.8 L425.5,228.7 L427.4,228.9 L431.7,228.8 L436.0,229.1 L440.3,229.7 L443.0,229.8 L444.6,230.0 L448.9,229.7 L453.2,230.2 L457.5,229.8 L460.6,229.5 L461.8,230.2 L466.1,230.6 L470.4,230.6 L474.7,230.7 L478.0,231.2 L479.0,231.2 L483.3,230.3 L487.6,230.8 L491.9,230.3 L496.2,230.6 L500.5,230.5 L504.8,230.8 L509.1,231.0 L511.3,231.2 L513.4,231.5 L515.0,232.0 L517.7,230.8 L520.3,228.5 L522.0,228.1 L526.3,227.4 L530.6,227.0 L534.9,227.6 L539.2,226.9 L543.5,226.9 L545.0,226.7 L547.8,226.2 L552.1,225.5 L556.4,224.3 L557.6,224.0 L560.7,224.2 L565.0,224.4 L569.3,224.4 L573.6,224.3 L577.9,224.0 L582.2,223.8 L585.6,223.5 L586.5,224.3 L590.8,225.9 L595.1,227.4 L596.2,228.0 L599.4,228.4 L603.7,228.6 L608.0,228.0 L612.3,228.4 L616.6,229.0 L620.9,229.3 L625.2,229.1 L629.5,229.9 L631.3,229.6 L633.8,229.9 L638.1,229.2 L642.4,229.4 L646.7,229.1 L651.0,229.9 L655.3,229.6 L659.6,230.1 L662.9,229.7 L663.9,229.4 L668.2,229.5 L672.5,229.5 L676.8,229.3 L680.4,229.2 L681.1,229.7 L685.4,228.9 L689.7,228.6 L694.0,228.4 L698.0,227.6 L702.6,224.1 L705.0,222.3 L706.9,222.5 L711.2,221.6 L715.5,221.6 L719.8,220.9 L724.1,221.1 L726.1,220.6 L728.4,221.2 L732.7,220.5 L736.6,220.5 L737.0,220.3 L741.3,220.6 L745.6,220.5 L749.9,220.4 L752.4,219.8 L754.2,220.5 L758.5,222.4 L761.2,222.8 L762.8,223.6 L767.1,223.8 L768.2,224.1 L771.4,225.8 L775.3,228.3 L775.7,228.0 L780.0,228.3 L784.3,227.9 L788.6,227.8 L792.9,227.7 L797.2,227.9 L800.0,228.6 L801.5,228.4 L805.8,227.8 L810.1,227.8 L814.4,228.3 L818.7,228.4 L823.0,228.3 L827.3,228.0 L830.1,228.3 L831.6,228.6 L835.9,227.6 L837.1,227.5 L840.2,228.1 L843.3,229.7 L844.5,229.3 L848.8,229.6 L853.1,230.5 L855.5,229.9 L857.4,229.8 L861.7,229.2 L865.2,229.4 L866.0,229.2 L870.3,229.4 L874.6,229.8 L878.9,229.7 L882.8,230.3 L883.2,230.0 L887.5,227.9 L889.8,226.9 L891.8,224.2 L895.0,219.2 L896.1,219.6 L900.4,219.5 L902.9,219.5 L904.7,216.0 L908.2,209.0 L909.0,209.2 L913.3,208.1 L917.6,206.4 L921.9,205.9 L926.2,205.8 L930.5,206.1 L934.8,206.3 L937.2,206.4 L939.1,204.9 L943.3,202.1 L947.7,202.3 L950.3,202.8 L952.0,202.5 L956.3,201.0 L957.3,200.5 L960.6,203.1 L964.9,206.2 L967.0,208.2 L969.2,209.3 L973.5,211.2 L974.0,211.1 L977.8,216.4 L981.0,221.7 L982.1,222.6 L986.4,222.8 L990.7,223.5 L991.6,222.9 L995.0,223.1 L999.3,223.1 L1003.0,223.7 L1003.6,223.6 L1007.9,223.9 L1012.2,223.8 L1016.1,223.8 L1016.5,224.6 L1020.5,229.4 L1025.1,228.7 L1029.4,227.8 L1033.7,227.8 L1038.0,227.3 L1040.7,227.3 L1042.3,225.9 L1046.6,223.1 L1047.7,221.8 L1050.9,221.5 L1055.2,219.7 L1059.5,218.9 L1062.6,218.8 L1062.6,239.3 Z" fill="#C0D8FF" fill-opacity="0.1"/><path d="M31.8,219.1 L36.1,220.1 L40.0,220.2 L40.4,220.7 L44.7,220.7 L49.0,220.6 L53.3,220.9 L57.6,220.9 L61.9,220.6 L63.0,221.0 L65.0,222.1 L66.2,226.8 L68.0,231.0 L70.5,230.8 L74.8,230.8 L79.1,230.8 L83.4,231.6 L87.7,231.6 L90.0,231.6 L92.0,231.4 L96.3,231.5 L100.6,231.2 L104.9,231.5 L109.2,231.1 L113.5,231.5 L117.8,231.5 L122.1,231.6 L126.4,231.2 L130.7,231.0 L135.0,231.2 L139.3,231.5 L143.6,231.3 L147.9,231.5 L152.2,231.2 L152.9,231.2 L156.5,230.8 L160.0,229.2 L160.8,229.1 L165.1,229.0 L169.4,228.5 L173.7,227.9 L178.0,227.5 L179.2,227.2 L182.3,227.5 L186.6,227.6 L190.9,227.6 L195.2,227.4 L199.5,227.3 L203.8,227.7 L208.1,227.3 L212.4,227.4 L215.0,227.6 L216.7,227.6 L221.0,227.7 L225.3,228.3 L229.6,228.6 L230.0,228.9 L233.9,229.2 L238.2,229.8 L240.0,230.4 L242.5,230.2 L246.8,230.5 L249.5,231.2 L251.1,231.2 L255.4,230.5 L259.7,230.4 L264.0,231.1 L268.3,231.1 L272.6,230.7 L276.9,230.6 L281.2,231.0 L285.0,231.2 L285.5,230.5 L289.8,230.3 L294.1,230.5 L298.4,230.1 L302.7,230.3 L307.0,230.1 L311.3,230.4 L315.6,230.2 L319.9,230.0 L324.2,230.3 L328.5,230.1 L332.8,230.1 L337.1,230.2 L337.7,230.4 L341.4,229.7 L345.7,229.4 L350.0,228.4 L351.7,228.0 L354.3,227.9 L358.6,228.0 L362.9,228.4 L367.2,227.9 L371.5,228.2 L375.8,228.5 L380.1,228.5 L384.4,228.2 L388.7,228.5 L393.0,228.3 L397.3,228.0 L401.6,227.8 L405.9,227.9 L408.0,228.5 L410.2,228.8 L414.5,230.6 L416.0,231.2 L418.8,231.2 L423.1,230.8 L427.4,230.4 L431.7,230.6 L436.0,230.5 L440.3,230.9 L444.6,231.0 L448.9,231.2 L453.2,231.0 L457.5,231.2 L461.8,230.9 L466.1,230.8 L470.4,231.1 L474.7,230.6 L479.0,231.1 L483.3,231.0 L487.6,231.1 L491.9,230.4 L496.2,230.5 L500.5,231.2 L504.8,230.5 L509.1,230.8 L511.3,230.9 L513.0,227.3 L513.4,227.7 L517.7,227.8 L522.0,227.4 L526.3,227.3 L530.6,228.2 L534.9,227.9 L539.2,227.8 L543.5,227.8 L545.0,227.8 L547.8,228.3 L552.1,228.0 L556.4,228.3 L560.7,228.6 L565.0,228.2 L569.3,228.6 L573.6,227.8 L577.9,228.4 L580.4,228.4 L582.2,229.9 L584.8,230.9 L586.5,231.3 L590.8,231.4 L595.1,231.4 L599.4,231.3 L603.7,231.1 L608.0,231.7 L612.3,231.6 L616.6,231.5 L620.9,231.7 L625.2,231.3 L627.8,230.9 L629.5,231.4 L633.8,230.8 L638.1,231.3 L642.4,231.1 L646.7,230.7 L651.0,230.5 L655.3,230.4 L659.6,230.4 L663.9,231.0 L668.2,230.2 L672.5,230.7 L676.8,230.0 L681.1,230.0 L685.4,229.6 L689.7,229.8 L694.0,228.9 L698.0,228.8 L702.6,228.5 L706.9,229.1 L711.2,228.8 L715.5,229.0 L719.8,229.3 L724.1,228.8 L728.4,228.8 L732.7,229.5 L737.0,229.8 L741.3,229.0 L745.6,229.5 L749.9,230.0 L754.2,229.9 L758.5,230.1 L762.8,229.8 L767.1,230.2 L771.4,229.5 L775.7,229.9 L780.0,230.3 L784.3,230.0 L788.6,230.1 L792.9,230.1 L797.2,230.2 L800.0,230.6 L801.5,230.7 L805.8,230.1 L810.1,230.2 L814.4,230.7 L818.7,230.7 L823.0,230.8 L827.3,230.7 L831.6,230.9 L835.9,230.9 L840.2,230.8 L844.5,230.5 L848.8,230.3 L853.1,231.1 L857.4,231.1 L861.7,231.2 L866.0,230.6 L870.3,231.1 L874.6,231.3 L878.9,230.7 L882.8,230.6 L883.2,230.7 L887.5,230.8 L891.8,231.2 L896.1,231.3 L900.4,231.3 L904.7,231.2 L909.0,231.5 L913.3,231.5 L917.6,231.0 L921.9,231.5 L926.2,231.3 L930.5,230.9 L934.8,231.2 L939.1,230.9 L943.4,231.1 L947.7,231.5 L952.0,230.8 L956.3,231.2 L960.6,231.2 L964.9,231.0 L969.2,230.8 L973.5,231.3 L977.8,231.1 L982.1,230.9 L986.4,231.2 L990.7,231.5 L995.0,230.9 L999.3,231.6 L1003.6,231.0 L1007.9,231.3 L1012.2,231.2 L1016.5,231.7 L1020.8,231.7 L1025.1,231.6 L1029.4,231.2 L1033.7,231.3 L1038.0,231.7 L1042.3,231.5 L1046.6,231.6 L1050.9,231.7 L1055.2,231.2 L1059.5,231.4 L1062.6,231.9" fill="none" stroke="#73BF69" stroke-width="1.25" stroke-linejoin="round"/><path d="M32.0,238.5 L40.6,239.0 L49.2,238.5 L57.8,238.8 L66.4,238.5 L75.0,238.5 L83.6,239.0 L92.2,238.5 L100.8,238.8 L109.4,238.7 L118.0,238.7 L126.6,238.7 L135.2,238.5 L143.8,238.9 L152.4,238.5 L161.0,238.5 L169.6,238.4 L178.2,238.6 L186.8,238.6 L195.4,238.9 L204.0,238.6 L212.6,238.5 L221.2,238.6 L229.8,239.0 L238.4,238.4 L247.0,238.8 L255.6,238.6 L264.2,238.8 L272.8,238.6 L281.4,238.8 L290.0,238.7 L298.6,238.8 L307.2,238.9 L315.8,238.7 L324.4,238.5 L333.0,238.4 L341.6,239.0 L350.2,238.7 L358.8,238.5 L367.4,239.0 L376.0,238.7 L384.6,238.8 L393.2,238.9 L401.8,238.6 L410.4,238.6 L419.0,238.9 L427.6,238.5 L436.2,238.9 L444.8,238.5 L453.4,238.8 L462.0,238.8 L470.6,239.0 L479.2,238.9 L487.8,238.7 L496.4,238.5 L505.0,238.5 L513.6,238.7 L522.2,238.7 L530.8,238.4 L539.4,238.9 L548.0,238.7 L556.6,238.8 L565.2,238.5 L573.8,238.5 L582.4,238.4 L591.0,238.6 L599.6,238.6 L608.2,238.7 L616.8,238.6 L625.4,238.9 L634.0,238.9 L642.6,238.5 L651.2,238.6 L659.8,238.5 L668.4,238.8 L677.0,239.0 L685.6,238.5 L694.2,238.9 L702.8,238.6 L711.4,238.4 L720.0,238.9 L728.6,238.6 L737.2,238.5 L745.8,238.7 L754.4,238.5 L763.0,238.6 L771.6,238.7 L780.2,238.7 L788.8,238.8 L797.4,238.6 L806.0,238.5 L814.6,238.5 L823.2,238.5 L831.8,238.7 L840.4,238.6 L849.0,238.9 L857.6,238.7 L866.2,238.8 L874.8,239.0 L883.4,238.4 L892.0,238.4 L900.6,238.5 L909.2,238.6 L917.8,238.7 L926.4,238.8 L935.0,238.6 L943.6,239.0 L952.2,238.4 L960.8,238.9 L969.4,238.5 L978.0,238.9 L986.6,238.4 L995.2,239.0 L1003.8,238.9 L1012.4,239.0 L1021.0,238.7 L1029.6,238.5 L1038.2,239.0 L1046.8,238.7 L1063.0,238.5" fill="none" stroke="#FADE2A" stroke-width="1.25" stroke-linejoin="round"/><path d="M32.0,234.4 L40.6,234.1 L49.2,234.6 L57.8,234.6 L66.4,234.2 L75.0,234.1 L83.6,234.2 L92.2,234.1 L100.8,234.6 L109.4,234.1 L118.0,233.9 L126.6,234.2 L135.2,234.5 L143.8,234.2 L152.4,234.4 L161.0,237.2 L169.6,237.7 L178.2,237.2 L186.8,237.7 L195.4,237.1 L204.0,237.5 L212.6,237.9 L221.2,237.5 L229.8,237.4 L238.4,237.9 L247.0,237.7 L255.6,237.3 L264.2,237.1 L272.8,237.8 L281.4,237.5 L290.0,237.8 L298.6,237.1 L307.2,237.6 L315.8,237.5 L324.4,237.8 L333.0,237.2 L341.6,237.5 L350.2,237.2 L358.8,237.7 L367.4,237.2 L376.0,237.5 L384.6,237.6 L393.2,237.8 L401.8,237.4 L410.4,237.7 L419.0,237.5 L427.6,237.6 L436.2,237.2 L444.8,237.3 L453.4,237.2 L462.0,237.3 L470.6,237.9 L479.2,237.6 L487.8,237.7 L496.4,237.6 L505.0,237.6 L513.6,237.9 L522.2,237.9 L530.8,237.2 L539.4,237.6 L548.0,237.5 L556.6,237.6 L565.2,237.2 L573.8,237.7 L582.4,237.8 L591.0,237.4 L599.6,237.2 L608.2,237.3 L616.8,237.4 L625.4,237.9 L634.0,237.7 L642.6,237.8 L651.2,237.6 L659.8,237.7 L668.4,237.5 L677.0,237.5 L685.6,237.4 L694.2,237.4 L702.8,237.1 L711.4,237.2 L720.0,237.2 L728.6,237.4 L737.2,237.4 L745.8,237.4 L754.4,237.1 L763.0,237.2 L771.6,237.5 L780.2,237.5 L788.8,237.7 L797.4,237.5 L806.0,237.2 L814.6,237.4 L823.2,237.3 L831.8,237.4 L840.4,237.1 L849.0,237.8 L857.6,237.6 L866.2,237.4 L874.8,237.2 L883.4,237.2 L892.0,237.1 L900.6,237.6 L909.2,237.1 L917.8,237.1 L926.4,237.7 L935.0,237.4 L943.6,237.5 L952.2,237.5 L960.8,237.3 L969.4,237.8 L978.0,237.6 L986.6,237.2 L995.2,237.7 L1003.8,237.5 L1012.4,237.5 L1021.0,237.1 L1029.6,237.8 L1038.2,237.9 L1046.8,237.1 L1055.4,237.3" fill="none" stroke="#5794F2" stroke-width="1.25" stroke-linejoin="round"/><path d="M32.0,238.1 L40.6,238.7 L49.2,238.6 L57.8,238.2 L66.4,238.4 L75.0,238.4 L83.6,238.5 L92.2,238.6 L100.8,238.1 L109.4,238.0 L118.0,238.7 L126.6,238.3 L135.2,238.6 L143.8,238.0 L152.4,238.4 L161.0,238.6 L169.6,238.2 L178.2,238.8 L186.8,238.7 L195.4,238.0 L204.0,238.0 L212.6,238.4 L221.2,238.8 L229.8,238.3 L238.4,238.2 L247.0,238.3 L255.6,238.0 L264.2,238.2 L272.8,238.4 L281.4,238.4 L290.0,238.2 L298.6,238.2 L307.2,238.2 L315.8,238.4 L324.4,238.2 L333.0,238.0 L341.6,238.7 L350.2,238.4 L358.8,238.5 L367.4,238.1 L376.0,238.8 L384.6,238.7 L393.2,238.1 L401.8,238.3 L410.4,238.6 L419.0,238.6 L427.6,238.7 L436.2,238.3 L444.8,238.7 L453.4,238.5 L462.0,238.2 L470.6,238.5 L479.2,238.7 L487.8,238.7 L496.4,238.4 L505.0,238.5 L513.6,238.0 L522.2,238.2 L530.8,238.6 L539.4,238.3 L548.0,238.1 L556.6,238.4 L565.2,238.6 L573.8,238.5 L582.4,238.3 L591.0,238.4 L599.6,238.4 L608.2,238.6 L616.8,238.4 L625.4,238.3 L634.0,238.4 L642.6,238.0 L651.2,238.0 L659.8,238.6 L668.4,238.8 L677.0,238.5 L685.6,238.3 L694.2,238.1 L702.8,238.4 L711.4,238.8 L720.0,238.6 L728.6,238.4 L737.2,238.7 L745.8,238.2 L754.4,238.4 L763.0,238.8 L771.6,238.5 L780.2,238.4 L788.8,238.2 L797.4,238.4 L806.0,238.8 L814.6,238.0 L823.2,238.6 L831.8,238.7 L840.4,238.7 L849.0,238.6 L857.6,238.6 L866.2,238.4 L874.8,238.4 L883.4,238.3 L892.0,238.0 L900.6,238.7 L909.2,238.5 L917.8,238.2 L926.4,238.4 L935.0,238.4 L943.6,238.3 L952.2,238.3 L960.8,238.4 L969.4,238.5 L978.0,238.5 L986.6,238.4 L995.2,238.0 L1003.8,238.2 L1012.4,238.1 L1021.0,238.5 L1029.6,238.7 L1038.2,238.6 L1046.8,238.6 L1063.0,238.7" fill="none" stroke="#FF9830" stroke-width="1.25" stroke-linejoin="round"/><path d="M31.8,222.9 L36.1,222.3 L40.4,222.7 L44.7,222.8 L49.0,222.0 L53.3,222.4 L57.6,221.9 L60.0,221.6 L61.9,220.2 L63.0,219.8 L66.2,218.8 L70.5,219.0 L74.8,218.3 L79.1,217.7 L80.0,217.9 L83.4,218.1 L87.7,218.4 L92.0,219.1 L95.0,219.3 L96.3,218.4 L100.6,218.7 L104.9,217.9 L109.2,217.8 L110.0,217.5 L113.5,217.5 L117.8,217.5 L122.1,218.5 L126.4,218.9 L130.0,218.7 L130.7,218.2 L135.0,219.0 L139.3,219.0 L143.6,219.2 L147.9,219.4 L152.2,219.4 L156.5,219.2 L160.0,218.9 L160.8,219.0 L165.1,218.7 L169.4,218.7 L173.7,218.2 L175.0,218.4 L178.0,218.2 L182.3,218.5 L186.6,219.1 L190.9,219.1 L195.2,219.5 L199.5,219.5 L200.0,218.9 L203.8,218.7 L208.1,218.0 L210.0,217.7 L212.4,217.5 L216.7,217.4 L221.0,217.8 L225.3,218.0 L229.6,218.0 L233.9,218.0 L235.0,217.6 L238.2,216.5 L242.5,216.2 L246.8,215.4 L250.0,215.9 L251.1,215.3 L255.4,215.9 L259.7,215.7 L264.0,215.9 L268.3,216.3 L272.6,216.2 L276.9,215.7 L280.0,216.3 L281.2,215.3 L285.0,213.7 L285.5,213.1 L289.8,214.2 L294.1,215.4 L298.4,215.3 L302.7,215.4 L307.0,216.6 L311.3,217.2 L315.6,215.0 L319.9,212.9 L324.2,213.6 L328.5,214.2 L332.8,214.6 L337.1,216.1 L337.7,215.5 L341.4,216.3 L345.7,217.7 L350.0,219.2 L354.3,220.7 L355.0,220.0 L358.6,220.1 L362.9,219.2 L367.2,219.5 L371.5,218.6 L372.8,218.7 L375.8,219.2 L380.1,219.3 L384.4,219.7 L388.7,219.6 L390.0,219.9 L393.0,220.5 L397.3,220.6 L401.6,220.4 L405.9,219.8 L410.2,220.6 L414.5,220.7 L416.7,220.7 L418.8,220.8 L423.1,221.1 L425.0,220.9 L427.4,220.9 L431.7,220.8 L436.0,221.3 L440.3,220.9 L444.6,221.4 L448.9,220.8 L451.8,220.8 L453.2,221.4 L455.3,222.7 L457.5,222.6 L461.8,221.6 L466.1,220.6 L469.0,218.9 L470.4,219.2 L474.7,217.8 L479.0,218.1 L483.3,217.8 L484.0,217.4 L487.0,219.8 L487.6,219.3 L491.9,219.0 L496.2,218.7 L500.5,218.4 L504.8,217.6 L509.1,218.2 L513.0,217.4 L513.4,217.6 L517.7,217.4 L522.0,217.9 L526.3,217.5 L530.6,217.5 L534.9,217.8 L539.2,218.7 L543.5,218.6 L545.0,218.6 L547.8,219.8 L550.5,221.9 L552.1,222.4 L556.4,222.7 L560.7,222.7 L562.8,222.4 L565.0,222.8 L569.3,223.4 L573.6,223.3 L577.9,223.0 L580.4,222.7 L582.2,223.1 L586.5,223.4 L590.8,223.6 L592.7,224.2 L595.1,224.2 L599.4,224.4 L603.7,225.7 L608.0,226.3 L610.2,226.0 L612.3,225.6 L615.5,224.8 L616.6,224.3 L620.9,223.9 L625.2,223.2 L627.8,222.8 L629.5,223.6 L633.8,223.2 L638.1,223.9 L642.4,223.9 L645.3,224.6 L646.7,224.3 L651.0,222.7 L652.4,222.5 L655.3,221.7 L659.6,221.7 L662.9,221.8 L663.9,214.0 L666.4,195.3 L668.2,192.2 L670.8,189.2 L672.5,189.7 L675.2,189.1 L676.8,191.1 L679.6,194.4 L681.1,186.0 L684.0,170.0 L685.4,170.6 L687.5,169.7 L689.7,172.0 L692.7,175.8 L694.0,175.7 L697.1,175.4 L698.3,172.8 L700.6,167.6 L702.6,171.0 L705.9,177.1 L706.9,177.0 L709.4,177.3 L711.2,172.9 L713.8,167.2 L715.5,166.6 L719.1,167.6 L719.8,168.6 L722.6,177.2 L724.1,175.0 L727.0,170.7 L728.4,171.6 L731.4,171.0 L732.7,179.1 L735.8,199.0 L737.0,199.0 L741.3,199.8 L745.6,200.7 L748.0,200.9 L749.9,208.3 L752.4,219.6 L754.2,218.6 L757.7,217.0 L758.5,216.2 L762.8,215.6 L767.1,215.2 L768.2,215.9 L771.4,214.6 L775.7,214.1 L780.0,214.1 L780.5,213.6 L784.3,215.3 L786.7,217.2 L788.6,212.2 L791.1,207.4 L792.9,207.5 L797.2,207.1 L800.0,207.0 L801.5,207.6 L803.8,209.0 L805.8,209.1 L810.1,208.8 L812.5,208.5 L814.4,209.7 L817.8,212.7 L818.7,212.5 L823.0,213.3 L827.3,214.4 L830.1,215.4 L831.6,215.2 L835.9,215.4 L840.2,215.6 L844.5,215.2 L848.8,215.7 L851.2,215.1 L853.1,216.4 L854.7,217.2 L857.4,220.0 L860.0,222.5 L861.7,223.6 L866.0,223.9 L868.7,224.5 L870.3,223.7 L874.6,223.3 L878.9,222.1 L881.0,220.8 L883.2,219.9 L887.5,217.6 L891.5,215.5 L896.1,210.2 L896.8,209.7 L900.4,209.4 L902.9,209.0 L904.7,203.9 L907.3,195.2 L909.0,195.7 L913.3,195.6 L917.6,195.1 L921.9,195.4 L924.9,195.6 L926.2,193.9 L930.1,189.9 L930.5,191.1 L933.6,196.1 L934.8,194.5 L939.1,190.7 L943.3,186.0 L947.7,185.6 L951.2,192.1 L952.0,192.5 L956.3,192.4 L960.0,192.6 L960.6,192.4 L964.9,194.3 L969.2,195.7 L970.5,195.8 L973.5,196.4 L977.5,196.3 L981.0,208.3 L982.1,207.6 L986.4,207.5 L988.1,207.7 L990.7,206.4 L994.2,205.4 L995.0,206.6 L998.6,208.4 L999.3,208.1 L1003.6,210.2 L1006.5,210.6 L1007.9,209.9 L1011.7,205.1 L1012.2,205.2 L1016.5,205.1 L1020.8,205.0 L1025.1,205.9 L1029.4,206.3 L1030.2,206.4 L1033.7,207.5 L1038.0,208.9 L1042.3,209.1 L1046.6,209.1 L1050.9,209.9 L1055.2,209.4 L1059.5,208.7 L1062.6,209.1" fill="none" stroke="#F2495C" stroke-width="1.25" stroke-linejoin="round"/><path d="M32.0,234.6 L40.6,234.6 L49.2,234.2 L57.8,233.9 L66.4,233.6 L75.0,234.4 L83.6,234.2 L92.2,234.5 L100.8,234.0 L109.4,234.5 L118.0,233.9 L126.6,234.6 L135.2,234.5 L143.8,234.1 L152.4,234.2 L161.0,234.4 L169.6,233.8 L178.2,234.3 L186.8,234.6 L195.4,233.9 L204.0,234.6 L212.6,234.4 L221.2,234.6 L229.8,234.0 L238.4,233.7 L247.0,234.6 L255.6,234.6 L264.2,234.1 L272.8,233.7 L281.4,233.8 L290.0,234.4 L298.6,233.9 L307.2,234.7 L315.8,234.3 L324.4,233.8 L333.0,234.4 L341.6,234.0 L350.2,234.7 L358.8,234.7 L367.4,234.2 L376.0,234.4 L384.6,234.4 L393.2,234.6 L401.8,234.8 L410.4,233.6 L419.0,234.0 L427.6,234.3 L436.2,234.0 L444.8,234.3 L453.4,233.7 L462.0,234.7 L470.6,234.2 L479.2,233.7 L487.8,234.4 L496.4,234.0 L505.0,233.8 L513.6,234.2 L522.2,233.8 L530.8,233.9 L539.4,234.6 L548.0,234.4 L556.6,233.6 L565.2,234.5 L573.8,233.6 L582.4,234.0 L591.0,234.7 L599.6,234.3 L608.2,234.0 L616.8,234.1 L625.4,234.1 L634.0,233.8 L642.6,234.8 L651.2,233.7 L659.8,234.1 L668.4,234.5 L677.0,234.1 L685.6,234.8 L694.2,233.9 L702.8,234.8 L711.4,234.7 L720.0,234.4 L728.6,234.7 L737.2,234.1 L745.8,234.6 L754.4,234.6 L763.0,234.2 L771.6,234.2 L780.2,234.4 L788.8,234.1 L797.4,233.7 L806.0,234.5 L814.6,233.9 L823.2,234.2 L831.8,234.5 L840.4,233.8 L849.0,233.6 L857.6,233.7 L866.2,234.3 L874.8,234.0 L883.4,233.9 L892.0,231.2 L900.6,231.9 L909.2,231.2 L917.8,231.9 L926.4,231.6 L935.0,231.8 L943.6,231.5 L952.2,231.1 L960.8,231.4 L969.4,231.4 L978.0,234.1 L986.6,234.0 L995.2,234.6 L1003.8,234.0 L1012.4,234.4 L1021.0,234.8 L1029.6,234.7 L1038.2,234.1 L1046.8,234.3 L1063.0,234.0" fill="none" stroke="#B877D9" stroke-width="1.25" stroke-linejoin="round"/><path d="M31.8,236.4 L36.1,236.1 L40.4,236.7 L44.7,236.6 L49.0,236.3 L53.3,236.4 L57.6,236.1 L61.9,236.1 L66.2,236.2 L70.5,236.5 L74.8,236.1 L79.1,236.7 L83.4,236.0 L87.7,236.1 L92.0,236.0 L96.3,236.6 L100.6,236.2 L104.9,236.3 L109.2,236.2 L113.5,236.5 L117.8,236.3 L122.1,236.1 L126.4,236.3 L130.7,236.2 L135.0,236.1 L139.3,236.6 L143.6,236.5 L147.9,236.5 L152.2,236.7 L156.5,236.3 L160.8,236.3 L165.1,236.3 L169.4,236.3 L173.7,236.5 L178.0,236.0 L182.3,236.4 L186.6,236.4 L190.9,236.3 L195.2,236.0 L199.5,236.6 L203.8,236.0 L208.1,236.5 L212.4,236.2 L216.7,236.1 L221.0,236.2 L225.3,236.1 L229.6,236.2 L233.9,236.6 L238.2,236.6 L242.5,236.3 L246.8,236.6 L251.1,236.4 L255.4,236.5 L259.7,236.8 L264.0,236.3 L268.3,236.8 L272.6,236.6 L276.9,236.6 L281.2,236.1 L285.5,236.2 L289.8,236.1 L294.1,236.4 L298.4,236.9 L300.0,236.8 L302.7,236.8 L307.0,236.2 L311.3,236.7 L315.6,236.7 L319.9,236.7 L324.2,236.7 L328.5,236.2 L332.8,236.2 L337.1,236.7 L341.4,236.6 L345.7,236.8 L350.0,236.4 L354.3,236.8 L358.6,236.2 L362.9,236.8 L367.2,236.7 L371.5,236.3 L375.8,236.1 L380.1,236.5 L384.4,236.6 L388.7,236.3 L393.0,236.1 L397.3,236.2 L401.6,236.7 L405.9,236.1 L410.2,236.7 L414.5,236.2 L418.8,236.1 L423.1,236.1 L427.4,236.8 L431.7,236.7 L436.0,236.2 L440.3,236.0 L444.6,236.5 L448.9,236.7 L453.2,236.0 L457.5,236.4 L461.8,236.6 L466.1,236.3 L470.4,236.4 L474.7,236.6 L479.0,236.1 L483.3,236.1 L487.6,236.4 L491.9,236.3 L496.2,236.3 L500.5,236.2 L504.8,236.6 L509.1,236.1 L513.4,236.4 L517.7,236.6 L522.0,236.2 L526.3,235.9 L530.6,236.0 L534.9,235.9 L539.2,236.0 L543.5,236.0 L547.8,236.1 L552.1,236.1 L556.4,236.2 L560.7,236.4 L565.0,236.4 L569.3,236.4 L573.6,236.1 L577.9,236.4 L582.2,236.3 L586.5,235.9 L590.8,236.2 L595.1,236.1 L599.4,236.3 L600.0,236.4 L603.7,236.0 L608.0,236.1 L612.3,236.1 L616.6,236.0 L620.9,235.8 L625.2,235.8 L629.5,236.6 L633.8,236.3 L638.1,236.1 L642.4,236.3 L646.7,236.0 L651.0,236.3 L655.3,236.5 L659.6,236.3 L663.9,236.1 L668.2,236.5 L672.5,236.4 L676.8,235.8 L681.1,236.0 L685.4,236.1 L689.7,235.9 L694.0,236.2 L698.3,235.8 L702.6,236.3 L706.9,236.4 L711.2,235.7 L715.5,236.2 L719.8,235.9 L724.1,236.2 L728.4,236.2 L732.7,236.4 L737.0,236.3 L741.3,235.9 L745.6,236.2 L749.9,235.7 L754.2,236.2 L758.5,235.9 L760.0,235.8 L762.8,235.6 L767.1,235.2 L771.4,235.3 L775.7,234.3 L780.0,234.1 L784.3,233.7 L788.6,233.3 L792.9,233.4 L795.0,233.1 L797.2,233.0 L801.5,233.0 L805.8,232.5 L810.1,232.0 L814.4,231.9 L818.7,232.0 L823.0,232.0 L827.3,232.0 L830.0,231.5 L831.6,231.2 L835.9,231.3 L840.2,231.4 L844.5,230.7 L848.8,231.0 L853.1,230.7 L857.4,230.3 L861.7,230.0 L866.0,229.5 L870.3,229.3 L874.6,229.0 L878.9,229.3 L882.8,229.2 L883.2,228.1 L887.5,213.8 L889.8,206.6 L891.8,206.1 L894.2,205.9 L896.1,201.7 L900.4,192.6 L902.9,187.4 L904.7,187.8 L907.3,187.2 L909.0,185.2 L912.6,181.3 L913.3,182.0 L917.0,187.4 L917.6,186.7 L919.6,185.9 L921.9,185.9 L926.2,185.8 L930.1,185.9 L930.5,185.0 L934.5,180.0 L939.1,180.7 L942.4,180.4 L943.4,180.0 L947.7,179.0 L952.0,179.0 L955.6,179.3 L956.3,182.2 L960.6,197.9 L964.9,200.7 L969.2,202.6 L970.5,203.7 L973.5,211.6 L977.5,222.9 L982.1,223.8 L986.4,223.8 L988.1,224.4 L990.7,224.6 L995.0,224.7 L999.3,225.0 L1003.0,224.9 L1003.6,225.9 L1007.4,230.6 L1007.9,230.3 L1012.2,230.6 L1016.5,230.5 L1020.8,229.8 L1023.2,230.3 L1025.1,229.6 L1029.4,229.4 L1033.7,228.6 L1038.0,228.4 L1042.3,227.1 L1044.2,227.6 L1046.6,220.7 L1049.5,213.3 L1050.9,213.3 L1055.2,213.4 L1059.1,214.1 L1059.5,211.4 L1062.6,191.6" fill="none" stroke="#37872D" stroke-width="1.25" stroke-linejoin="round"/><path d="M31.8,219.9 L36.1,219.8 L40.0,219.7 L40.4,219.2 L44.7,219.3 L49.0,219.7 L53.3,219.8 L57.6,218.9 L61.9,219.1 L65.0,219.8 L66.2,219.4 L70.0,221.2 L70.5,220.7 L74.8,220.3 L79.1,219.8 L83.4,218.8 L85.0,218.4 L87.7,218.5 L92.0,219.0 L96.3,219.2 L100.6,219.2 L104.9,219.5 L109.2,219.8 L110.0,219.6 L113.5,218.9 L117.8,218.6 L120.0,217.8 L122.1,218.2 L126.4,218.3 L130.7,218.2 L135.0,217.5 L139.3,217.6 L143.6,218.0 L145.0,217.3 L147.9,218.1 L152.2,217.4 L156.5,218.2 L160.8,217.6 L165.1,218.3 L169.4,218.6 L173.7,218.5 L175.0,218.6 L178.0,218.8 L182.3,218.8 L186.6,217.9 L190.9,218.1 L195.2,217.5 L199.5,217.7 L200.0,217.4 L203.8,217.5 L208.1,218.1 L212.4,217.7 L216.7,217.8 L221.0,217.8 L225.3,218.7 L229.6,218.2 L230.0,218.1 L233.9,218.6 L238.2,218.7 L242.5,218.7 L246.8,218.6 L251.1,218.6 L255.4,218.8 L259.7,218.4 L264.0,218.9 L268.3,218.8 L270.0,219.0 L272.6,219.5 L276.9,220.3 L279.0,220.4 L281.2,220.1 L285.5,219.8 L289.8,219.1 L294.1,219.5 L298.4,221.4 L300.8,221.2 L302.7,221.2 L307.0,220.6 L311.3,219.7 L315.6,219.7 L319.9,219.1 L324.2,219.2 L328.5,219.0 L332.8,219.4 L334.2,219.9 L337.1,218.4 L341.4,217.0 L343.0,215.5 L345.7,217.2 L350.0,218.4 L351.7,219.1 L354.3,217.6 L358.6,214.7 L362.9,214.9 L367.2,215.2 L371.5,215.5 L372.8,216.1 L375.8,215.4 L380.1,215.5 L384.4,215.4 L388.7,215.8 L390.0,215.5 L393.0,217.0 L394.0,217.0 L397.3,216.7 L401.6,216.6 L405.9,215.9 L410.2,216.3 L411.5,215.9 L414.5,216.4 L418.8,217.5 L423.1,218.9 L427.0,219.4 L427.4,219.3 L431.7,219.1 L436.0,219.3 L440.3,219.7 L444.6,219.5 L448.9,219.2 L453.2,219.8 L457.5,219.0 L460.0,219.3 L461.8,219.9 L466.1,220.4 L470.4,220.4 L474.7,220.3 L479.0,221.3 L481.5,221.4 L483.3,220.7 L487.6,220.4 L491.9,220.3 L495.0,218.9 L496.2,219.1 L500.5,218.9 L504.8,219.5 L509.1,218.9 L513.0,219.2 L513.4,219.1 L517.7,217.6 L522.0,217.1 L526.3,216.0 L530.6,215.8 L531.5,215.3 L534.9,215.0 L539.2,215.2 L543.5,214.9 L545.0,214.1 L547.8,213.7 L552.1,213.3 L554.0,213.0 L556.4,213.7 L560.7,214.7 L563.7,216.0 L565.0,215.3 L569.3,214.3 L571.6,213.3 L573.6,213.0 L577.9,213.5 L582.2,213.2 L586.5,213.8 L590.8,213.5 L595.1,214.4 L597.9,213.9 L599.4,215.9 L601.4,217.0 L603.7,217.3 L608.0,217.9 L610.2,218.8 L612.3,219.0 L616.6,219.3 L620.9,219.5 L624.3,219.3 L625.2,219.6 L629.5,220.4 L633.8,222.3 L636.6,222.1 L638.1,221.4 L641.0,218.0 L642.4,218.3 L646.7,218.7 L651.0,218.4 L655.3,218.4 L659.6,219.3 L662.9,218.8 L663.9,218.6 L668.2,219.5 L669.9,219.9 L672.5,218.7 L676.8,216.9 L681.1,217.4 L685.4,217.0 L687.5,217.2 L689.7,216.4 L694.0,214.2 L694.5,214.1 L698.3,213.9 L700.6,213.2 L702.6,209.4 L705.9,201.4 L706.9,201.8 L709.4,202.0 L711.2,200.1 L713.8,196.6 L715.5,197.4 L719.1,199.6 L719.8,199.3 L724.1,199.4 L728.4,200.4 L731.4,200.7 L732.7,199.3 L734.9,196.5 L737.0,197.0 L740.1,199.0 L741.3,199.2 L745.6,197.7 L748.0,196.9 L749.9,197.7 L754.2,200.9 L758.5,203.3 L761.2,204.8 L762.8,204.4 L767.1,204.3 L771.4,203.5 L775.3,203.1 L775.7,204.7 L778.8,216.9 L780.0,217.3 L784.3,217.9 L788.6,217.7 L789.3,217.9 L792.9,218.2 L797.2,218.7 L800.0,218.3 L801.5,218.5 L805.8,219.1 L810.1,218.6 L814.4,219.1 L818.7,218.9 L823.0,218.8 L827.3,218.9 L830.1,219.2 L831.6,219.5 L834.5,221.8 L835.9,220.1 L838.9,217.6 L840.2,218.0 L844.5,216.6 L847.6,217.0 L848.8,217.4 L852.0,218.9 L853.1,219.4 L857.4,220.7 L860.0,220.2 L861.7,218.7 L864.3,215.9 L866.0,216.2 L870.3,215.5 L874.6,215.9 L878.9,215.1 L882.8,215.5 L883.2,214.2 L887.5,210.2 L891.5,206.2 L896.1,203.1 L900.3,200.5 L904.7,198.5 L908.2,196.2 L909.0,196.7 L913.3,197.5 L917.6,197.3 L921.4,197.6 L921.9,197.4 L926.2,196.8 L928.4,195.7 L930.5,195.4 L934.8,195.0 L937.2,194.4 L939.1,195.2 L943.3,197.1 L947.7,195.4 L949.4,195.2 L952.0,196.1 L955.6,198.6 L956.3,199.3 L960.6,201.8 L963.5,203.5 L964.9,203.7 L969.2,203.5 L972.3,203.2 L973.5,205.3 L977.5,211.8 L982.1,214.0 L985.4,215.9 L986.4,216.4 L990.7,215.0 L995.0,214.3 L996.8,214.5 L999.3,215.7 L1003.6,217.2 L1006.5,218.7 L1007.9,217.9 L1011.7,215.4 L1012.2,215.2 L1016.5,216.8 L1020.8,217.7 L1025.0,219.0 L1029.4,216.1 L1030.2,215.9 L1033.7,215.6 L1038.0,215.5 L1040.7,214.8 L1042.3,213.6 L1046.0,211.1 L1046.6,211.1 L1050.9,211.0 L1054.8,210.8 L1055.2,207.8 L1058.2,183.8 L1059.5,182.2 L1062.6,177.7" fill="none" stroke="#E0B400" stroke-width="1.25" stroke-linejoin="round"/><path d="M31.8,236.8 L200.0,236.5 L400.0,236.9 L600.0,236.4 L760.0,236.0 L795.0,234.3 L830.1,233.7 L874.0,233.0 L881.9,229.0 L887.1,177.2 L890.6,169.3 L895.0,169.3 L900.0,173.4 L907.3,157.0 L917.0,171.1 L920.5,162.3 L924.5,123.7 L928.4,123.7 L933.6,140.4 L938.9,126.7 L943.3,127.2 L949.4,130.2 L959.1,130.2 L963.5,186.9 L971.4,186.9 L976.6,157.0 L980.1,157.0 L985.4,139.5 L990.2,151.2 L998.6,151.2 L1003.0,181.6 L1006.5,181.6 L1012.6,171.6 L1016.1,171.1 L1020.5,156.5 L1024.0,157.9 L1029.3,171.1 L1032.8,171.1 L1036.8,161.1 L1042.5,172.0 L1046.0,172.0 L1050.4,203.5 L1056.5,206.2 L1062.6,203.5" fill="none" stroke="#3274D9" stroke-width="1.25" stroke-linejoin="round"/><path d="M32.0,238.1 L40.6,238.0 L49.2,237.2 L57.8,237.2 L66.4,237.9 L75.0,237.8 L83.6,237.8 L92.2,237.4 L100.8,237.7 L109.4,237.7 L118.0,237.7 L126.6,237.3 L135.2,237.5 L143.8,237.5 L152.4,237.8 L161.0,238.1 L169.6,238.0 L178.2,237.6 L186.8,237.5 L195.4,237.4 L204.0,237.1 L212.6,237.1 L221.2,237.6 L229.8,237.4 L238.4,237.5 L247.0,238.0 L255.6,237.6 L264.2,237.7 L272.8,237.3 L281.4,237.1 L290.0,237.4 L298.6,237.2 L307.2,237.6 L315.8,238.1 L324.4,237.8 L333.0,237.3 L341.6,238.0 L350.2,237.9 L358.8,237.8 L367.4,238.0 L376.0,237.9 L384.6,237.9 L393.2,237.5 L401.8,238.1 L410.4,238.1 L419.0,237.3 L427.6,237.9 L436.2,237.8 L444.8,237.6 L453.4,237.6 L462.0,237.6 L470.6,238.0 L479.2,237.6 L487.8,237.9 L496.4,237.5 L505.0,238.0 L513.6,238.0 L522.2,237.6 L530.8,237.7 L539.4,238.0 L548.0,237.8 L556.6,237.6 L565.2,237.3 L573.8,237.4 L582.4,237.8 L591.0,237.3 L599.6,238.0 L608.2,237.4 L616.8,238.0 L625.4,237.4 L634.0,238.1 L642.6,237.8 L651.2,237.6 L659.8,237.6 L666.0,234.5 L680.0,231.5 L692.0,228.0 L697.0,229.6 L705.0,230.2 L712.0,228.3 L719.0,230.0 L726.0,228.6 L733.0,229.5 L739.0,230.0 L745.0,234.5 L752.0,237.0 L754.4,238.0 L763.0,237.3 L771.6,237.8 L780.2,237.2 L788.8,237.8 L797.4,237.4 L806.0,237.3 L814.6,238.0 L823.2,237.2 L831.8,237.6 L840.4,238.0 L849.0,237.3 L857.6,237.3 L866.2,238.0 L874.8,237.5 L883.4,237.8 L892.0,237.1 L900.6,237.5 L909.2,237.3 L917.8,237.8 L926.4,237.2 L935.0,238.1 L943.6,237.1 L952.2,237.8 L960.8,237.1 L969.4,237.4 L978.0,237.9 L986.6,237.3 L995.2,237.3 L1003.8,237.8 L1012.4,237.5 L1021.0,237.1 L1029.6,238.1 L1038.2,237.3 L1046.8,237.1 L1063.0,237.4" fill="none" stroke="#FA6400" stroke-width="1.25" stroke-linejoin="round"/><path d="M32.0,235.7 L36.3,236.3 L40.6,236.0 L44.9,236.4 L49.2,236.4 L53.5,235.4 L57.8,235.3 L62.1,236.8 L66.4,235.8 L70.7,235.7 L75.0,237.1 L79.3,236.1 L83.6,236.8 L87.9,236.2 L92.2,236.5 L96.5,235.6 L100.8,236.4 L105.1,236.9 L109.4,236.2 L113.7,236.6 L118.0,236.5 L122.3,235.4 L126.6,236.7 L130.9,236.4 L135.2,235.8 L139.5,235.4 L143.8,236.9 L148.1,236.2 L152.4,236.6 L156.7,236.9 L161.0,236.6 L165.3,237.0 L169.6,236.0 L173.9,236.7 L178.2,236.1 L182.5,237.0 L186.8,236.9 L191.1,235.5 L195.4,235.5 L199.7,235.7 L204.0,237.0 L208.3,236.1 L212.6,236.4 L216.9,235.8 L221.2,236.2 L225.5,236.0 L229.8,235.9 L234.1,236.4 L238.4,236.4 L242.7,236.9 L247.0,236.5 L251.3,237.0 L255.6,236.8 L259.9,237.1 L264.2,236.5 L268.5,235.6 L272.8,236.8 L277.1,237.0 L281.4,236.9 L285.7,236.3 L290.0,236.6 L294.3,235.7 L298.6,236.8 L302.9,236.3 L307.2,235.8 L311.5,235.4 L315.8,236.8 L320.1,237.1 L324.4,235.5 L328.7,236.7 L333.0,236.0 L337.3,235.6 L341.6,235.8 L345.9,236.7 L350.2,236.9 L354.5,235.4 L358.8,236.4 L363.1,235.4 L367.4,236.6 L371.7,235.9 L376.0,236.9 L380.3,237.1 L384.6,236.2 L388.9,237.1 L393.2,235.9 L397.5,235.4 L401.8,236.4 L406.1,235.4 L410.4,235.7 L414.7,236.0 L419.0,236.4 L423.3,235.6 L427.6,235.4 L431.9,236.9 L436.2,235.9 L440.5,237.0 L444.8,236.9 L449.1,236.0 L453.4,236.1 L457.7,236.2 L462.0,236.5 L466.3,236.4 L470.6,236.3 L474.9,236.4 L479.2,237.0 L483.5,236.2 L487.8,236.1 L492.1,236.6 L496.4,235.7 L500.7,235.8 L505.0,237.1 L509.3,236.2 L513.6,236.3 L517.9,235.3 L522.2,236.0 L526.5,236.3 L530.8,235.3 L535.1,236.4 L539.4,236.4 L543.7,235.4 L548.0,236.4 L552.3,236.1 L556.6,236.5 L560.9,235.9 L565.2,236.6 L569.5,236.6 L573.8,235.3 L578.1,235.4 L582.4,236.5 L586.7,237.0 L591.0,235.8 L595.3,236.1 L599.6,236.4 L603.9,235.9 L608.2,236.0 L612.5,235.9 L616.8,236.0 L621.1,236.4 L625.4,235.8 L629.7,236.0 L634.0,236.7 L638.3,235.3 L642.6,236.3 L646.9,236.6 L651.2,235.9 L655.5,235.7 L659.8,236.7 L664.1,235.7 L668.4,235.6 L672.7,236.1 L677.0,236.6 L681.3,235.5 L685.6,235.9 L689.9,235.9 L694.2,236.8 L698.5,236.1 L702.8,236.8 L707.1,235.6 L711.4,235.9 L715.7,236.5 L720.0,236.9 L724.3,236.1 L728.6,235.7 L732.9,235.5 L737.2,236.3 L741.5,235.6 L745.8,236.8 L750.1,236.8 L754.4,235.6 L758.7,235.8 L763.0,236.8 L767.3,236.5 L771.6,236.8 L775.9,235.9 L780.2,235.5 L784.5,235.8 L788.8,236.7 L793.1,235.8 L797.4,235.9 L801.7,236.1 L806.0,236.1 L810.3,236.0 L814.6,237.0 L818.9,235.6 L823.2,235.3 L827.5,237.0 L831.8,236.9 L836.1,237.1 L840.4,236.1 L844.7,237.0 L849.0,237.0 L853.3,235.7 L857.6,236.6 L861.9,236.8 L866.2,236.5 L870.5,236.2 L874.8,235.8 L879.1,235.9 L883.4,235.7 L887.7,235.4 L892.0,236.4 L896.3,235.8 L900.6,236.8 L904.9,235.4 L909.2,236.9 L913.5,236.5 L917.8,237.0 L922.1,236.9 L926.4,236.9 L930.7,236.3 L935.0,235.3 L939.3,236.6 L943.6,235.6 L947.9,235.8 L952.2,236.5 L956.5,236.2 L960.8,236.0 L965.1,237.0 L969.4,236.4 L973.7,235.9 L978.0,235.8 L982.3,236.9 L986.6,236.2 L990.9,236.7 L995.2,235.9 L999.5,235.7 L1003.8,236.3 L1008.1,236.8 L1012.4,235.6 L1016.7,236.7 L1021.0,237.0 L1025.3,236.8 L1029.6,236.8 L1033.9,235.3 L1038.2,236.4 L1042.5,236.9 L1046.8,235.4 L1051.1,235.8 L1055.4,235.8 L1063.0,236.2" fill="none" stroke="#C4162A" stroke-width="1.25" stroke-linejoin="round"/><path d="M32.0,235.2 L36.3,235.0 L40.6,235.4 L44.9,235.0 L49.2,234.9 L53.5,235.4 L57.8,236.3 L62.1,236.1 L66.4,236.0 L70.7,235.2 L75.0,235.7 L79.3,235.2 L83.6,235.1 L87.9,235.0 L92.2,235.1 L96.5,236.3 L100.8,236.1 L105.1,236.1 L109.4,236.1 L113.7,235.1 L118.0,235.3 L122.3,235.8 L126.6,236.0 L130.9,236.2 L135.2,236.2 L139.5,234.9 L143.8,235.8 L148.1,235.9 L152.4,235.6 L156.7,235.1 L161.0,235.6 L165.3,234.9 L169.6,236.3 L173.9,236.2 L178.2,235.7 L182.5,235.3 L186.8,236.3 L191.1,235.7 L195.4,236.2 L199.7,236.2 L204.0,235.6 L208.3,235.5 L212.6,235.8 L216.9,235.5 L221.2,235.1 L225.5,235.3 L229.8,236.1 L234.1,234.9 L238.4,234.9 L242.7,235.8 L247.0,235.2 L251.3,235.7 L255.6,235.6 L259.9,235.3 L264.2,236.4 L268.5,235.1 L272.8,235.5 L277.1,235.1 L281.4,235.8 L285.7,235.2 L290.0,235.4 L294.3,236.0 L298.6,235.3 L302.9,235.7 L307.2,236.2 L311.5,235.0 L315.8,234.9 L320.1,235.2 L324.4,236.0 L328.7,235.8 L333.0,235.2 L337.3,235.3 L341.6,235.1 L345.9,235.5 L350.2,234.9 L354.5,235.9 L358.8,236.2 L363.1,236.3 L367.4,236.0 L371.7,236.3 L376.0,234.8 L380.3,235.3 L384.6,236.3 L388.9,236.0 L393.2,235.5 L397.5,236.3 L401.8,235.8 L406.1,236.1 L410.4,235.3 L414.7,235.1 L419.0,235.5 L423.3,235.0 L427.6,235.4 L431.9,236.3 L436.2,235.3 L440.5,234.8 L444.8,234.9 L449.1,235.1 L453.4,236.1 L457.7,235.4 L462.0,235.3 L466.3,235.0 L470.6,236.4 L474.9,235.5 L479.2,235.1 L483.5,234.9 L487.8,234.9 L492.1,235.1 L496.4,235.9 L500.7,235.0 L505.0,234.9 L509.3,235.6 L513.6,235.2 L517.9,236.4 L522.2,235.0 L526.5,235.6 L530.8,236.0 L535.1,235.5 L539.4,236.4 L543.7,235.6 L548.0,235.2 L552.3,235.5 L556.6,234.9 L560.9,235.5 L565.2,235.2 L569.5,236.2 L573.8,236.1 L578.1,235.6 L582.4,234.9 L586.7,235.2 L591.0,235.2 L595.3,235.1 L599.6,235.2 L603.9,236.2 L608.2,235.0 L612.5,234.9 L616.8,236.3 L621.1,235.7 L625.4,236.4 L629.7,235.4 L634.0,236.2 L638.3,235.8 L642.6,236.1 L646.9,236.0 L651.2,235.6 L655.5,234.9 L659.8,235.1 L664.1,236.2 L668.4,236.2 L672.7,236.3 L677.0,235.3 L681.3,235.9 L685.6,236.1 L689.9,235.8 L694.2,236.1 L698.5,235.6 L702.8,235.8 L707.1,235.9 L711.4,235.2 L715.7,236.3 L720.0,236.3 L724.3,234.9 L728.6,236.4 L732.9,236.3 L737.2,235.9 L741.5,234.9 L745.8,236.2 L750.1,235.0 L754.4,236.3 L758.7,235.9 L763.0,234.9 L767.3,235.1 L771.6,235.8 L775.9,235.7 L780.2,236.0 L784.5,236.3 L788.8,235.1 L793.1,234.8 L797.4,236.3 L801.7,234.8 L806.0,236.2 L810.3,235.0 L814.6,236.1 L818.9,236.1 L823.2,236.2 L827.5,235.7 L831.8,236.2 L836.1,235.1 L840.4,235.9 L844.7,235.3 L849.0,236.2 L853.3,236.0 L857.6,235.6 L861.9,235.6 L866.2,234.8 L870.5,234.9 L874.8,235.8 L879.1,235.6 L883.4,236.2 L887.7,235.8 L892.0,235.0 L896.3,235.4 L900.6,236.0 L904.9,235.6 L909.2,234.8 L913.5,236.1 L917.8,236.1 L922.1,234.9 L926.4,235.7 L930.7,235.4 L935.0,236.1 L939.3,235.3 L943.6,235.2 L947.9,235.6 L952.2,236.3 L956.5,235.0 L960.8,235.0 L965.1,235.8 L969.4,236.2 L973.7,235.6 L978.0,235.5 L982.3,236.2 L986.6,236.0 L990.9,234.9 L995.2,236.2 L999.5,235.1 L1003.8,235.3 L1008.1,236.1 L1012.4,235.5 L1016.7,236.1 L1021.0,235.1 L1025.3,236.2 L1029.6,235.1 L1033.9,235.0 L1038.2,235.6 L1042.5,235.3 L1046.8,235.7 L1051.1,236.2 L1055.4,235.9 L1063.0,234.8" fill="none" stroke="#8F3BB8" stroke-width="1.25" stroke-linejoin="round"/><path d="M31.8,186.9 L34.4,184.3 L38.8,170.2 L46.7,155.3 L51.1,169.3 L53.7,169.3 L59.0,179.9 L63.4,186.0 L67.7,169.3 L71.3,159.7 L76.5,159.7 L80.9,188.1 L93.2,188.1 L97.6,165.8 L102.0,167.6 L110.8,190.4 L115.1,190.4 L123.0,168.1 L127.4,168.1 L136.2,192.2 L140.6,174.1 L145.0,174.1 L149.4,181.1 L153.8,167.1 L159.0,167.1 L166.9,194.8 L170.5,174.1 L179.2,174.1 L183.6,169.3 L193.3,186.9 L196.8,186.9 L205.6,163.2 L209.1,163.2 L218.7,194.8 L222.2,194.8 L235.4,166.7 L244.2,166.4 L248.6,151.3 L253.0,151.3 L258.2,132.0 L261.7,132.0 L266.1,152.1 L270.5,152.1 L274.9,159.3 L279.3,154.4 L282.8,154.4 L287.6,135.1 L292.0,150.9 L295.5,150.9 L300.8,156.2 L304.3,156.2 L308.7,149.2 L313.1,149.2 L317.5,186.0 L321.0,186.0 L327.1,193.4 L331.0,193.4 L334.5,165.3 L342.9,165.3 L357.0,192.2 L360.5,192.2 L370.1,172.9 L373.7,172.9 L378.0,197.4 L382.4,191.6 L386.8,191.6 L390.3,178.7 L399.5,162.3 L403.5,175.1 L414.9,176.4 L420.5,166.4 L425.4,178.1 L429.8,178.1 L433.9,169.3 L438.6,175.1 L443.0,167.1 L451.8,167.1 L456.2,172.0 L459.7,172.0 L463.7,195.7 L472.0,195.7 L481.3,169.3 L485.2,169.3 L490.1,191.3 L494.8,191.3 L498.8,169.3 L507.6,169.3 L511.5,193.0 L515.0,188.1 L520.3,195.7 L524.6,195.7 L532.5,169.3 L541.3,170.2 L545.3,170.2 L550.5,191.3 L554.0,190.4 L559.3,175.5 L563.7,175.5 L568.1,166.4 L576.0,186.9 L584.8,157.9 L588.3,157.9 L593.5,172.0 L597.9,160.6 L601.4,160.6 L606.7,184.3 L611.1,168.5 L617.2,167.6 L622.5,166.4 L627.8,183.4 L631.3,160.6 L636.6,160.6 L641.0,169.3 L645.3,159.7 L650.6,160.6 L657.6,171.1 L662.9,171.1 L666.4,156.5 L670.8,165.3 L675.2,165.8 L680.4,183.4 L684.0,183.4 L688.3,171.1 L698.0,170.2 L701.5,170.2 L710.3,196.2 L713.8,196.2 L719.1,190.4 L726.1,189.5 L731.4,183.4 L734.9,183.4 L740.1,192.2 L743.7,189.9 L749.8,170.2 L753.3,170.2 L763.0,181.1 L765.6,181.1 L771.7,167.6 L775.3,163.2 L783.2,153.0 L787.5,159.3 L791.1,159.3 L795.4,172.0 L800.3,161.8 L821.3,161.8 L826.2,169.3 L831.0,169.3 L834.5,159.3 L838.9,171.1 L843.3,171.1 L848.5,191.3 L854.7,189.5 L860.8,169.3 L868.7,169.3 L874.0,190.9 L881.3,190.9 L886.3,139.5 L895.0,139.5 L900.3,161.1 L903.8,161.1 L907.3,170.2 L912.6,157.9 L917.9,157.0 L925.7,141.2 L930.1,141.2 L934.0,165.3 L942.4,165.3 L947.7,130.2 L952.1,134.2 L956.5,144.8 L960.0,179.0 L964.4,179.9 L968.7,186.0 L974.0,177.2 L976.6,177.2 L981.0,146.0 L986.3,132.5 L989.5,132.5 L994.2,158.3 L1003.0,158.3 L1006.5,117.2 L1011.7,117.2 L1019.6,149.1 L1026.7,159.7 L1037.2,140.4 L1042.5,126.3 L1046.0,126.3 L1054.8,176.3 L1062.6,176.3" fill="none" stroke="#C8F2C2" stroke-width="1.25" stroke-linejoin="round"/><path d="M31.8,159.7 L37.0,155.8 L41.4,155.3 L46.7,172.0 L50.2,157.0 L58.0,157.0 L65.0,158.3 L73.9,159.3 L80.0,159.3 L84.4,169.3 L89.7,161.8 L97.6,160.6 L102.3,170.2 L106.4,162.3 L110.8,165.3 L114.3,165.0 L119.5,160.6 L124.8,161.0 L128.3,162.3 L135.3,162.7 L140.6,164.0 L150.3,164.4 L156.4,161.4 L163.4,162.3 L170.5,162.3 L175.4,169.3 L179.2,162.3 L188.9,163.6 L196.8,172.9 L202.9,165.8 L206.4,164.1 L210.0,165.8 L214.3,172.0 L218.7,164.6 L223.1,164.6 L230.1,166.7 L236.3,166.7 L244.2,174.6 L249.5,165.3 L257.4,165.3 L261.7,163.6 L266.1,163.6 L270.5,161.1 L285.0,161.8 L295.5,163.2 L304.3,162.3 L314.0,162.3 L317.5,170.2 L321.9,164.6 L330.6,163.6 L337.7,165.0 L346.4,164.1 L360.5,165.0 L364.9,171.1 L370.1,164.6 L379.8,165.3 L386.8,165.3 L399.1,162.9 L406.1,165.3 L412.3,161.1 L420.2,162.3 L430.7,160.6 L438.6,168.1 L443.0,160.6 L451.8,160.6 L456.2,167.1 L459.7,161.1 L465.0,162.3 L469.0,169.3 L472.9,161.1 L478.1,160.6 L486.0,161.4 L494.8,172.0 L499.2,166.4 L508.0,167.1 L513.2,165.8 L520.3,165.8 L529.0,162.3 L537.8,161.1 L548.8,163.2 L562.8,161.1 L567.2,172.9 L571.6,161.8 L585.6,159.7 L593.5,162.3 L597.9,159.7 L601.4,160.6 L606.4,168.1 L610.2,160.6 L622.5,161.1 L636.6,161.8 L645.3,159.3 L652.4,160.6 L657.6,162.3 L666.4,157.9 L675.2,157.6 L680.4,165.8 L684.0,165.3 L688.3,158.3 L697.1,155.3 L705.0,154.8 L720.8,152.3 L733.1,150.9 L739.3,152.3 L743.7,161.4 L748.9,151.8 L755.1,150.9 L761.2,149.5 L766.5,147.4 L771.7,143.9 L781.4,142.5 L787.5,140.7 L792.8,142.5 L800.3,141.8 L812.5,143.0 L817.5,155.8 L821.3,147.0 L830.1,147.0 L838.9,146.0 L844.1,155.3 L851.2,155.3 L856.1,165.3 L860.0,156.5 L877.5,156.5 L882.8,152.3 L891.5,147.7 L898.5,147.7 L903.8,139.5 L912.6,139.0 L917.9,133.7 L930.1,124.6 L937.2,126.3 L944.2,121.9 L946.8,121.9 L950.8,135.1 L955.6,120.2 L963.5,120.2 L972.3,121.9 L976.6,126.3 L988.1,124.6 L1003.8,124.2 L1012.6,121.9 L1019.6,129.0 L1028.4,131.6 L1032.8,141.2 L1037.2,131.9 L1046.0,131.2 L1053.0,136.9 L1062.6,137.2" fill="none" stroke="#FFF899" stroke-width="1.25" stroke-linejoin="round"/><path d="M31.8,228.5 L36.1,227.6 L40.0,227.5 L40.4,227.6 L44.7,227.6 L49.0,228.0 L50.0,228.6 L53.3,228.0 L57.6,228.0 L61.9,228.3 L66.2,228.1 L70.0,227.1 L70.5,227.1 L74.8,227.4 L79.1,228.1 L83.4,227.4 L87.7,227.7 L92.0,227.7 L95.0,227.8 L96.3,228.2 L100.6,227.7 L104.9,227.8 L109.2,228.1 L110.0,228.0 L113.5,227.8 L117.8,228.2 L122.1,228.0 L126.4,228.3 L130.7,227.8 L135.0,228.0 L139.3,228.3 L140.0,228.6 L143.6,228.2 L147.9,227.8 L152.2,227.4 L156.5,227.3 L160.8,227.0 L165.1,227.6 L169.4,227.3 L173.7,227.2 L178.0,226.6 L180.0,226.7 L182.3,226.2 L186.6,226.3 L190.9,225.8 L195.2,226.0 L199.5,225.7 L203.8,225.4 L208.1,226.1 L212.4,225.1 L216.7,225.7 L221.0,225.5 L225.3,224.7 L229.6,225.0 L230.0,225.5 L233.9,225.6 L238.2,225.3 L242.5,225.6 L246.8,225.6 L250.0,225.3 L251.1,225.6 L255.4,225.7 L259.7,225.6 L264.0,226.1 L266.0,225.7 L268.3,226.8 L272.6,227.5 L276.9,229.3 L279.0,229.5 L281.2,230.1 L285.0,230.3 L285.5,230.0 L289.8,230.3 L294.1,230.7 L298.4,230.7 L302.6,231.2 L307.0,231.4 L311.3,231.2 L315.6,231.3 L319.9,231.1 L324.2,231.4 L328.5,231.5 L332.8,231.1 L334.0,231.5 L337.1,231.2 L341.4,230.3 L345.7,230.2 L346.5,229.4 L350.0,229.3 L354.3,227.7 L358.6,227.0 L362.9,226.6 L364.0,225.6 L367.2,226.2 L371.5,226.5 L375.8,226.5 L380.1,226.3 L384.4,225.9 L388.7,225.9 L393.0,226.2 L394.0,225.7 L397.3,225.4 L401.6,225.9 L405.9,225.3 L408.0,224.7 L410.2,225.4 L414.5,226.1 L418.8,227.5 L423.1,227.8 L425.5,228.7 L427.4,228.9 L431.7,228.8 L436.0,229.1 L440.3,229.7 L443.0,229.8 L444.6,230.0 L448.9,229.7 L453.2,230.2 L457.5,229.8 L460.6,229.5 L461.8,230.2 L466.1,230.6 L470.4,230.6 L474.7,230.7 L478.0,231.2 L479.0,231.2 L483.3,230.3 L487.6,230.8 L491.9,230.3 L496.2,230.6 L500.5,230.5 L504.8,230.8 L509.1,231.0 L511.3,231.2 L513.4,231.5 L515.0,232.0 L517.7,230.8 L520.3,228.5 L522.0,228.1 L526.3,227.4 L530.6,227.0 L534.9,227.6 L539.2,226.9 L543.5,226.9 L545.0,226.7 L547.8,226.2 L552.1,225.5 L556.4,224.3 L557.6,224.0 L560.7,224.2 L565.0,224.4 L569.3,224.4 L573.6,224.3 L577.9,224.0 L582.2,223.8 L585.6,223.5 L586.5,224.3 L590.8,225.9 L595.1,227.4 L596.2,228.0 L599.4,228.4 L603.7,228.6 L608.0,228.0 L612.3,228.4 L616.6,229.0 L620.9,229.3 L625.2,229.1 L629.5,229.9 L631.3,229.6 L633.8,229.9 L638.1,229.2 L642.4,229.4 L646.7,229.1 L651.0,229.9 L655.3,229.6 L659.6,230.1 L662.9,229.7 L663.9,229.4 L668.2,229.5 L672.5,229.5 L676.8,229.3 L680.4,229.2 L681.1,229.7 L685.4,228.9 L689.7,228.6 L694.0,228.4 L698.0,227.6 L702.6,224.1 L705.0,222.3 L706.9,222.5 L711.2,221.6 L715.5,221.6 L719.8,220.9 L724.1,221.1 L726.1,220.6 L728.4,221.2 L732.7,220.5 L736.6,220.5 L737.0,220.3 L741.3,220.6 L745.6,220.5 L749.9,220.4 L752.4,219.8 L754.2,220.5 L758.5,222.4 L761.2,222.8 L762.8,223.6 L767.1,223.8 L768.2,224.1 L771.4,225.8 L775.3,228.3 L775.7,228.0 L780.0,228.3 L784.3,227.9 L788.6,227.8 L792.9,227.7 L797.2,227.9 L800.0,228.6 L801.5,228.4 L805.8,227.8 L810.1,227.8 L814.4,228.3 L818.7,228.4 L823.0,228.3 L827.3,228.0 L830.1,228.3 L831.6,228.6 L835.9,227.6 L837.1,227.5 L840.2,228.1 L843.3,229.7 L844.5,229.3 L848.8,229.6 L853.1,230.5 L855.5,229.9 L857.4,229.8 L861.7,229.2 L865.2,229.4 L866.0,229.2 L870.3,229.4 L874.6,229.8 L878.9,229.7 L882.8,230.3 L883.2,230.0 L887.5,227.9 L889.8,226.9 L891.8,224.2 L895.0,219.2 L896.1,219.6 L900.4,219.5 L902.9,219.5 L904.7,216.0 L908.2,209.0 L909.0,209.2 L913.3,208.1 L917.6,206.4 L921.9,205.9 L926.2,205.8 L930.5,206.1 L934.8,206.3 L937.2,206.4 L939.1,204.9 L943.3,202.1 L947.7,202.3 L950.3,202.8 L952.0,202.5 L956.3,201.0 L957.3,200.5 L960.6,203.1 L964.9,206.2 L967.0,208.2 L969.2,209.3 L973.5,211.2 L974.0,211.1 L977.8,216.4 L981.0,221.7 L982.1,222.6 L986.4,222.8 L990.7,223.5 L991.6,222.9 L995.0,223.1 L999.3,223.1 L1003.0,223.7 L1003.6,223.6 L1007.9,223.9 L1012.2,223.8 L1016.1,223.8 L1016.5,224.6 L1020.5,229.4 L1025.1,228.7 L1029.4,227.8 L1033.7,227.8 L1038.0,227.3 L1040.7,227.3 L1042.3,225.9 L1046.6,223.1 L1047.7,221.8 L1050.9,221.5 L1055.2,219.7 L1059.5,218.9 L1062.6,218.8" fill="none" stroke="#C0D8FF" stroke-width="1.25" stroke-linejoin="round"/><text x="27.5" y="130.7" font-size="10.6" text-anchor="end" fill="#ccccdc" font-weight="400" dominant-baseline="central">6%</text><text x="27.5" y="166.6" font-size="10.6" text-anchor="end" fill="#ccccdc" font-weight="400" dominant-baseline="central">4%</text><text x="27.5" y="202.6" font-size="10.6" text-anchor="end" fill="#ccccdc" font-weight="400" dominant-baseline="central">2%</text><text x="27.5" y="238.4" font-size="10.6" text-anchor="end" fill="#ccccdc" font-weight="400" dominant-baseline="central">0%</text><text x="71.6" y="250.5" font-size="10.5" text-anchor="middle" fill="#ccccdc" font-weight="400" dominant-baseline="central">15:00</text><text x="157.8" y="250.5" font-size="10.5" text-anchor="middle" fill="#ccccdc" font-weight="400" dominant-baseline="central">15:05</text><text x="243.9" y="250.5" font-size="10.5" text-anchor="middle" fill="#ccccdc" font-weight="400" dominant-baseline="central">15:10</text><text x="330.1" y="250.5" font-size="10.5" text-anchor="middle" fill="#ccccdc" font-weight="400" dominant-baseline="central">15:15</text><text x="416.2" y="250.5" font-size="10.5" text-anchor="middle" fill="#ccccdc" font-weight="400" dominant-baseline="central">15:20</text><text x="502.4" y="250.5" font-size="10.5" text-anchor="middle" fill="#ccccdc" font-weight="400" dominant-baseline="central">15:25</text><text x="588.6" y="250.5" font-size="10.5" text-anchor="middle" fill="#ccccdc" font-weight="400" dominant-baseline="central">15:30</text><text x="674.7" y="250.5" font-size="10.5" text-anchor="middle" fill="#ccccdc" font-weight="400" dominant-baseline="central">15:35</text><text x="760.9" y="250.5" font-size="10.5" text-anchor="middle" fill="#ccccdc" font-weight="400" dominant-baseline="central">15:40</text><text x="847.0" y="250.5" font-size="10.5" text-anchor="middle" fill="#ccccdc" font-weight="400" dominant-baseline="central">15:45</text><text x="933.2" y="250.5" font-size="10.5" text-anchor="middle" fill="#ccccdc" font-weight="400" dominant-baseline="central">15:50</text><text x="1019.4" y="250.5" font-size="10.5" text-anchor="middle" fill="#ccccdc" font-weight="400" dominant-baseline="central">15:55</text></svg><div class="abs" style="left:11.2px;top:269.3px;width:12.2px;height:3.8px;border-radius:2px;background:#73BF69"></div><div style="position:absolute;left:29.90px;top:266.00px;line-height:1;font-size:11px;color:#c8c8d4;white-space:nowrap;transform:scaleX(0.9800);transform-origin:0 0;-webkit-text-stroke:0.12px #c8c8d4">alertmanager</div><div class="abs" style="left:101.8px;top:269.3px;width:12.2px;height:3.8px;border-radius:2px;background:#FADE2A"></div><div style="position:absolute;left:119.48px;top:266.00px;line-height:1;font-size:11px;color:#c8c8d4;white-space:nowrap;transform:scaleX(1.0238);transform-origin:0 0;-webkit-text-stroke:0.12px #c8c8d4">baekjoon-bot</div><div class="abs" style="left:192.7px;top:269.3px;width:12.2px;height:3.8px;border-radius:2px;background:#5794F2"></div><div style="position:absolute;left:211.40px;top:266.00px;line-height:1;font-size:11px;color:#c8c8d4;white-space:nowrap;transform:scaleX(1.0400);transform-origin:0 0;-webkit-text-stroke:0.12px #c8c8d4">fluent-bit-nkeysworld</div><div class="abs" style="left:323.5px;top:269.3px;width:12.2px;height:3.8px;border-radius:2px;background:#FF9830"></div><div style="position:absolute;left:342.20px;top:266.00px;line-height:1;font-size:11px;color:#c8c8d4;white-space:nowrap;transform:scaleX(1.0377);transform-origin:0 0;-webkit-text-stroke:0.12px #c8c8d4">fluent-bit-nkeysworld-obs</div><div class="abs" style="left:476.6px;top:269.3px;width:12.2px;height:3.8px;border-radius:2px;background:#F2495C"></div><div style="position:absolute;left:495.30px;top:266.00px;line-height:1;font-size:11px;color:#c8c8d4;white-space:nowrap;transform:scaleX(1.0000);transform-origin:0 0;-webkit-text-stroke:0.12px #c8c8d4">gitea</div><div class="abs" style="left:527.3px;top:269.3px;width:12.2px;height:3.8px;border-radius:2px;background:#B877D9"></div><div style="position:absolute;left:546.00px;top:266.00px;line-height:1;font-size:11px;color:#c8c8d4;white-space:nowrap;transform:scaleX(1.0136);transform-origin:0 0;-webkit-text-stroke:0.12px #c8c8d4">gitea-runner</div><div class="abs" style="left:614.1px;top:269.3px;width:12.2px;height:3.8px;border-radius:2px;background:#37872D"></div><div style="position:absolute;left:632.80px;top:266.00px;line-height:1;font-size:11px;color:#c8c8d4;white-space:nowrap;transform:scaleX(0.9865);transform-origin:0 0;-webkit-text-stroke:0.12px #c8c8d4">grafana</div><div class="abs" style="left:677.6px;top:269.3px;width:12.2px;height:3.8px;border-radius:2px;background:#E0B400"></div><div style="position:absolute;left:695.18px;top:266.00px;line-height:1;font-size:11px;color:#c8c8d4;white-space:nowrap;transform:scaleX(1.1200);transform-origin:0 0;-webkit-text-stroke:0.12px #c8c8d4">loki</div><div class="abs" style="left:721.4px;top:269.3px;width:12.2px;height:3.8px;border-radius:2px;background:#3274D9"></div><div style="position:absolute;left:739.04px;top:266.00px;line-height:1;font-size:11px;color:#c8c8d4;white-space:nowrap;transform:scaleX(1.0647);transform-origin:0 0;-webkit-text-stroke:0.12px #c8c8d4">n8n</div><div class="abs" style="left:765.9px;top:269.3px;width:12.2px;height:3.8px;border-radius:2px;background:#FA6400"></div><div style="position:absolute;left:783.53px;top:266.00px;line-height:1;font-size:11px;color:#c8c8d4;white-space:nowrap;transform:scaleX(1.0680);transform-origin:0 0;-webkit-text-stroke:0.12px #c8c8d4">nginx</div><div class="abs" style="left:818.7px;top:269.3px;width:12.2px;height:3.8px;border-radius:2px;background:#C4162A"></div><div style="position:absolute;left:836.37px;top:266.00px;line-height:1;font-size:11px;color:#c8c8d4;white-space:nowrap;transform:scaleX(1.0270);transform-origin:0 0;-webkit-text-stroke:0.12px #c8c8d4">node-exporter-nkeysworld</div><div class="abs" style="left:11.2px;top:288.8px;width:12.2px;height:3.8px;border-radius:2px;background:#8F3BB8"></div><div style="position:absolute;left:28.87px;top:285.00px;line-height:1;font-size:11px;color:#c8c8d4;white-space:nowrap;transform:scaleX(1.0306);transform-origin:0 0;-webkit-text-stroke:0.12px #c8c8d4">node-exporter-nkeysworld-obs</div><div class="abs" style="left:189.1px;top:288.8px;width:12.2px;height:3.8px;border-radius:2px;background:#C8F2C2"></div><div style="position:absolute;left:207.80px;top:285.00px;line-height:1;font-size:11px;color:#c8c8d4;white-space:nowrap;transform:scaleX(1.1231);transform-origin:0 0;-webkit-text-stroke:0.12px #c8c8d4">oci</div><div class="abs" style="left:229.8px;top:288.8px;width:12.2px;height:3.8px;border-radius:2px;background:#FFF899"></div><div style="position:absolute;left:247.47px;top:285.00px;line-height:1;font-size:11px;color:#c8c8d4;white-space:nowrap;transform:scaleX(1.0341);transform-origin:0 0;-webkit-text-stroke:0.12px #c8c8d4">postgres</div><div class="abs" style="left:298.7px;top:288.8px;width:12.2px;height:3.8px;border-radius:2px;background:#C0D8FF"></div><div style="position:absolute;left:316.38px;top:285.00px;line-height:1;font-size:11px;color:#c8c8d4;white-space:nowrap;transform:scaleX(1.0175);transform-origin:0 0;-webkit-text-stroke:0.12px #c8c8d4">prometheus</div><svg style="left:0;top:0" width="1630" height="826" viewBox="0 0 1630 826"><line x1="94.4" y1="389" x2="94.4" y2="526.2" stroke="rgba(204,204,220,0.09)" stroke-width="1"/><line x1="178.7" y1="389" x2="178.7" y2="526.2" stroke="rgba(204,204,220,0.09)" stroke-width="1"/><line x1="263.0" y1="389" x2="263.0" y2="526.2" stroke="rgba(204,204,220,0.09)" stroke-width="1"/><line x1="347.3" y1="389" x2="347.3" y2="526.2" stroke="rgba(204,204,220,0.09)" stroke-width="1"/><line x1="431.6" y1="389" x2="431.6" y2="526.2" stroke="rgba(204,204,220,0.09)" stroke-width="1"/><line x1="515.9" y1="389" x2="515.9" y2="526.2" stroke="rgba(204,204,220,0.09)" stroke-width="1"/><line x1="600.2" y1="389" x2="600.2" y2="526.2" stroke="rgba(204,204,220,0.09)" stroke-width="1"/><line x1="684.5" y1="389" x2="684.5" y2="526.2" stroke="rgba(204,204,220,0.09)" stroke-width="1"/><line x1="768.8" y1="389" x2="768.8" y2="526.2" stroke="rgba(204,204,220,0.09)" stroke-width="1"/><line x1="853.1" y1="389" x2="853.1" y2="526.2" stroke="rgba(204,204,220,0.09)" stroke-width="1"/><line x1="937.4" y1="389" x2="937.4" y2="526.2" stroke="rgba(204,204,220,0.09)" stroke-width="1"/><line x1="1021.7" y1="389" x2="1021.7" y2="526.2" stroke="rgba(204,204,220,0.09)" stroke-width="1"/><line x1="55.4" y1="407.0" x2="1067" y2="407.0" stroke="rgba(204,204,220,0.09)" stroke-width="1"/><line x1="55.4" y1="436.2" x2="1067" y2="436.2" stroke="rgba(204,204,220,0.09)" stroke-width="1"/><line x1="55.4" y1="465.4" x2="1067" y2="465.4" stroke="rgba(204,204,220,0.09)" stroke-width="1"/><line x1="55.4" y1="494.6" x2="1067" y2="494.6" stroke="rgba(204,204,220,0.09)" stroke-width="1"/><line x1="55.4" y1="523.8" x2="1067" y2="523.8" stroke="rgba(204,204,220,0.09)" stroke-width="1"/><path d="M55.3,524.2 L55.3,512.8 L81.6,513.5 L86.9,512.3 L120.2,512.3 L127.2,508.2 L137.8,508.2 L146.6,509.3 L155.3,509.3 L158.8,507.0 L165.9,507.0 L172.9,505.3 L192.2,505.8 L196.6,510.0 L204.5,510.0 L208.9,512.3 L246.6,512.3 L251.0,511.1 L278.2,511.1 L283.5,512.3 L319.0,513.5 L350.6,514.6 L355.9,508.2 L389.3,508.2 L394.5,509.3 L413.8,510.0 L419.1,507.0 L431.4,507.0 L436.7,509.3 L445.5,509.3 L449.8,511.1 L456.0,511.1 L459.5,510.0 L498.1,510.0 L502.5,512.8 L528.0,512.8 L533.2,511.1 L595.1,514.0 L607.4,512.3 L612.7,507.9 L672.4,507.9 L679.4,506.1 L688.2,506.1 L692.5,511.8 L709.2,511.8 L712.7,514.9 L721.5,514.9 L725.9,506.1 L753.1,506.5 L770.7,508.8 L797.0,509.3 L820.0,511.1 L832.6,511.1 L836.1,513.5 L857.1,513.5 L862.4,510.0 L899.3,511.1 L908.0,514.6 L927.4,514.6 L934.4,509.3 L944.9,510.0 L957.2,506.1 L969.5,506.5 L976.5,510.0 L994.1,511.8 L1004.6,510.0 L1023.9,509.3 L1029.2,514.6 L1064.0,514.6 L1064.0,524.2 Z" fill="#73BF69" fill-opacity="0.1"/><path d="M55.4,524.2 L55.4,523.1 L63.8,523.3 L72.2,523.3 L80.6,523.4 L89.0,523.0 L97.4,523.0 L105.8,523.0 L114.2,523.0 L122.6,523.3 L131.0,523.0 L139.4,523.2 L147.8,523.0 L156.2,523.1 L164.6,523.2 L173.0,523.4 L181.4,523.3 L189.8,522.9 L198.2,523.1 L206.6,523.0 L215.0,523.4 L223.4,523.4 L231.8,523.4 L240.2,523.4 L248.6,523.3 L257.0,523.5 L265.4,523.4 L273.8,523.1 L282.2,523.4 L290.6,523.2 L299.0,523.4 L307.4,523.2 L315.8,523.2 L324.2,523.1 L332.6,523.2 L341.0,523.1 L349.4,523.0 L357.8,523.4 L366.2,523.4 L374.6,523.5 L383.0,523.3 L391.4,523.2 L399.8,523.3 L408.2,523.0 L416.6,523.3 L425.0,523.2 L433.4,523.0 L441.8,523.0 L450.2,523.2 L458.6,523.1 L467.0,523.2 L475.4,523.3 L483.8,523.1 L492.2,523.0 L500.6,523.2 L509.0,523.0 L517.4,523.0 L525.8,523.0 L534.2,523.1 L542.6,522.9 L551.0,523.3 L559.4,523.5 L567.8,523.1 L576.2,523.3 L584.6,523.5 L593.0,522.9 L601.4,523.0 L609.8,523.4 L618.2,523.4 L626.6,523.3 L635.0,523.0 L643.4,523.1 L651.8,523.4 L660.2,523.4 L668.6,523.4 L677.0,523.0 L685.4,523.4 L693.8,523.1 L702.2,523.3 L710.6,523.0 L719.0,523.5 L727.4,523.3 L735.8,523.3 L744.2,523.0 L752.6,523.3 L761.0,523.2 L769.4,523.3 L777.8,523.1 L786.2,523.3 L794.6,523.1 L803.0,523.1 L811.4,523.0 L819.8,523.3 L828.2,523.0 L836.6,523.0 L845.0,522.9 L853.4,523.3 L861.8,523.2 L870.2,523.2 L878.6,522.9 L887.0,523.2 L895.4,523.1 L903.8,523.0 L912.2,522.9 L920.6,523.5 L929.0,523.0 L937.4,523.1 L945.8,523.1 L954.2,523.3 L962.6,522.9 L971.0,523.2 L979.4,523.1 L987.8,523.4 L996.2,522.9 L1004.6,523.1 L1013.0,523.2 L1021.4,523.5 L1029.8,523.2 L1038.2,523.2 L1046.6,523.3 L1055.0,523.1 L1064.0,522.9 L1064.0,524.2 Z" fill="#FADE2A" fill-opacity="0.1"/><path d="M55.4,524.2 L55.4,522.6 L63.8,522.9 L72.2,522.9 L80.6,523.1 L89.0,522.7 L97.4,522.7 L105.8,522.9 L114.2,522.9 L122.6,522.7 L131.0,522.9 L139.4,522.7 L147.8,523.0 L156.2,522.6 L164.6,522.6 L173.0,523.0 L181.4,522.7 L189.8,522.7 L198.2,523.0 L206.6,522.9 L215.0,522.6 L223.4,522.8 L231.8,522.9 L240.2,522.6 L248.6,522.9 L257.0,522.6 L265.4,522.7 L273.8,522.5 L282.2,522.6 L290.6,523.1 L299.0,522.7 L307.4,523.1 L315.8,522.8 L324.2,522.9 L332.6,523.0 L341.0,522.9 L349.4,522.6 L357.8,522.9 L366.2,522.9 L374.6,522.6 L383.0,522.6 L391.4,523.0 L399.8,522.8 L408.2,522.6 L416.6,522.8 L425.0,522.6 L433.4,523.0 L441.8,522.8 L450.2,522.6 L458.6,523.0 L467.0,522.6 L475.4,522.7 L483.8,522.5 L492.2,522.9 L500.6,522.6 L509.0,522.8 L517.4,522.6 L525.8,522.8 L534.2,522.9 L542.6,522.8 L551.0,522.8 L559.4,522.8 L567.8,522.8 L576.2,522.9 L584.6,522.6 L593.0,522.8 L601.4,522.6 L609.8,523.0 L618.2,523.1 L626.6,522.5 L635.0,522.6 L643.4,522.9 L651.8,522.8 L660.2,522.5 L668.6,522.9 L677.0,523.1 L685.4,522.8 L693.8,522.7 L702.2,522.8 L710.6,523.1 L719.0,522.7 L727.4,522.7 L735.8,522.6 L744.2,522.9 L752.6,522.8 L761.0,522.7 L769.4,522.7 L777.8,522.5 L786.2,522.7 L794.6,523.1 L803.0,522.9 L811.4,522.7 L819.8,523.1 L828.2,522.7 L836.6,522.7 L845.0,522.5 L853.4,522.6 L861.8,522.6 L870.2,522.6 L878.6,523.0 L887.0,522.7 L895.4,522.6 L903.8,522.9 L912.2,523.1 L920.6,522.7 L929.0,523.0 L937.4,522.7 L945.8,522.8 L954.2,522.9 L962.6,523.1 L971.0,523.0 L979.4,522.8 L987.8,523.0 L996.2,522.7 L1004.6,522.7 L1013.0,523.1 L1021.4,522.8 L1029.8,523.0 L1038.2,522.7 L1046.6,523.0 L1055.0,522.9 L1064.0,522.6 L1064.0,524.2 Z" fill="#5794F2" fill-opacity="0.1"/><path d="M55.4,524.2 L55.4,522.2 L63.8,522.3 L72.2,522.6 L80.6,522.2 L89.0,522.2 L97.4,522.3 L105.8,521.9 L114.2,522.2 L122.6,522.3 L131.0,522.5 L139.4,521.8 L147.8,522.0 L156.2,521.8 L164.6,522.5 L173.0,522.4 L181.4,521.7 L189.8,522.7 L198.2,522.7 L206.6,522.4 L215.0,522.3 L223.4,521.9 L231.8,521.7 L240.2,522.2 L248.6,521.8 L257.0,521.9 L265.4,521.9 L273.8,521.7 L282.2,522.2 L290.6,522.1 L299.0,522.5 L307.4,522.2 L315.8,522.3 L324.2,522.2 L332.6,522.4 L341.0,522.2 L349.4,522.0 L357.8,522.7 L366.2,522.7 L374.6,522.5 L383.0,522.4 L391.4,522.0 L399.8,521.9 L408.2,522.0 L416.6,521.8 L425.0,522.5 L433.4,522.1 L441.8,522.5 L450.2,522.1 L458.6,522.7 L467.0,522.5 L475.4,521.7 L483.8,521.9 L492.2,522.6 L500.6,522.2 L509.0,522.7 L517.4,522.1 L525.8,521.8 L534.2,522.3 L542.6,522.5 L551.0,522.0 L559.4,521.8 L567.8,522.0 L576.2,522.7 L584.6,522.5 L593.0,521.8 L601.4,521.9 L609.8,521.8 L618.2,521.8 L626.6,522.5 L635.0,521.9 L643.4,522.3 L651.8,522.1 L660.2,521.9 L668.6,522.4 L677.0,521.8 L685.4,522.3 L693.8,521.8 L702.2,522.1 L710.6,521.9 L719.0,522.0 L727.4,522.7 L735.8,522.5 L744.2,522.0 L752.6,522.6 L761.0,521.9 L769.4,522.1 L777.8,522.6 L786.2,522.3 L794.6,521.8 L803.0,522.7 L811.4,521.9 L819.8,522.0 L828.2,522.5 L836.6,522.0 L845.0,522.0 L853.4,521.8 L861.8,521.8 L870.2,522.3 L878.6,521.9 L887.0,522.3 L895.4,522.1 L903.8,522.2 L912.2,522.7 L920.6,522.2 L929.0,522.3 L937.4,522.6 L945.8,521.9 L954.2,521.9 L962.6,522.6 L971.0,522.5 L979.4,521.9 L987.8,521.9 L996.2,522.4 L1004.6,522.6 L1013.0,521.9 L1021.4,522.7 L1029.8,522.6 L1038.2,522.3 L1046.6,522.1 L1055.0,521.8 L1064.0,521.7 L1064.0,524.2 Z" fill="#FF9830" fill-opacity="0.1"/><path d="M55.3,524.2 L55.3,471.0 L57.0,469.3 L60.5,469.3 L65.8,463.7 L69.3,463.7 L74.6,461.4 L99.2,461.4 L107.1,462.2 L110.6,469.3 L136.0,470.1 L140.4,464.4 L166.7,464.4 L171.1,470.1 L190.4,470.1 L199.2,471.4 L213.3,472.8 L225.6,473.1 L230.8,471.9 L250.1,471.9 L269.5,473.1 L275.6,477.2 L295.8,475.9 L322.6,475.9 L340.1,475.4 L348.0,469.3 L385.8,469.3 L392.8,471.4 L406.8,471.9 L410.3,474.5 L431.4,474.5 L438.4,475.4 L471.8,476.3 L477.0,469.3 L482.3,469.3 L486.7,463.1 L498.1,463.1 L503.4,461.4 L528.0,461.9 L532.4,458.4 L541.1,458.4 L545.5,461.9 L565.3,461.9 L570.5,466.1 L582.8,466.1 L588.1,471.4 L621.4,471.4 L626.7,475.4 L646.0,475.4 L650.4,468.4 L653.9,468.4 L659.2,460.8 L671.5,460.8 L675.9,429.2 L688.2,429.2 L693.4,422.7 L696.9,422.7 L702.2,427.1 L709.2,427.1 L713.6,430.3 L726.8,430.3 L731.2,465.4 L739.1,465.4 L743.5,449.1 L747.0,449.1 L752.2,457.9 L760.1,457.9 L767.2,452.1 L776.8,452.1 L782.1,460.1 L793.5,460.1 L797.9,453.5 L806.7,453.5 L811.1,467.2 L823.8,467.2 L829.9,461.9 L836.1,461.9 L840.5,454.3 L856.3,454.3 L861.5,461.4 L873.8,461.4 L882.6,457.9 L886.1,496.5 L894.0,497.4 L900.1,471.9 L907.2,471.4 L911.6,452.1 L920.3,452.1 L924.7,491.2 L937.0,491.2 L941.4,471.9 L950.2,471.9 L953.7,480.7 L969.5,481.6 L980.0,481.9 L984.4,485.4 L994.1,485.4 L1001.1,496.0 L1008.1,496.0 L1012.5,475.4 L1018.7,474.9 L1025.7,478.0 L1036.2,478.9 L1043.2,483.0 L1051.1,483.3 L1055.5,488.6 L1064.0,488.6 L1064.0,524.2 Z" fill="#F2495C" fill-opacity="0.1"/><path d="M55.4,524.2 L55.4,514.9 L63.8,515.0 L72.2,514.9 L80.6,514.9 L89.0,514.9 L97.4,515.2 L105.8,514.8 L114.2,515.1 L122.6,514.5 L131.0,514.8 L139.4,514.8 L147.8,514.6 L156.2,515.2 L164.6,514.8 L173.0,515.3 L181.4,515.5 L189.8,514.8 L198.2,515.4 L206.6,515.3 L215.0,515.2 L223.4,514.5 L231.8,515.0 L240.2,515.1 L248.6,514.8 L257.0,514.7 L265.4,514.8 L273.8,514.8 L282.2,515.3 L290.6,514.8 L299.0,514.9 L307.4,515.1 L315.8,515.4 L324.2,514.8 L332.6,514.5 L341.0,515.5 L349.4,515.3 L357.8,515.3 L366.2,515.0 L374.6,514.7 L383.0,514.7 L391.4,514.8 L399.8,515.0 L408.2,514.6 L416.6,515.2 L425.0,515.2 L433.4,514.5 L441.8,515.3 L450.2,515.0 L458.6,515.4 L467.0,515.0 L475.4,515.3 L483.8,515.0 L492.2,515.1 L500.6,515.0 L509.0,514.5 L517.4,514.6 L525.8,514.7 L534.2,514.9 L542.6,514.9 L551.0,515.0 L559.4,515.2 L567.8,514.9 L576.2,514.8 L584.6,515.0 L593.0,515.5 L601.4,515.3 L609.8,515.2 L618.2,515.3 L626.6,514.7 L635.0,514.6 L643.4,514.6 L651.8,514.6 L660.2,514.5 L668.6,515.1 L677.0,515.4 L685.4,514.6 L693.8,515.2 L702.2,515.4 L710.6,515.3 L719.0,514.7 L727.4,515.1 L735.8,514.8 L744.2,514.7 L752.6,514.5 L761.0,515.0 L769.4,515.4 L777.8,514.6 L786.2,514.6 L794.6,514.9 L803.0,514.5 L811.4,515.0 L819.8,515.2 L828.2,515.0 L836.6,514.5 L845.0,514.5 L853.4,514.7 L861.8,515.2 L870.2,515.4 L878.6,515.0 L887.0,514.6 L895.4,514.7 L903.8,514.9 L912.2,514.6 L920.6,514.6 L929.0,514.9 L937.4,515.3 L945.8,514.7 L954.2,515.4 L962.6,515.4 L971.0,514.9 L979.4,514.7 L987.8,514.7 L996.2,515.2 L1004.6,515.3 L1013.0,515.4 L1021.4,514.7 L1029.8,514.9 L1038.2,514.5 L1046.6,514.8 L1055.0,514.8 L1064.0,514.6 L1064.0,524.2 Z" fill="#B877D9" fill-opacity="0.1"/><path d="M55.3,524.2 L55.3,439.8 L60.5,447.3 L69.3,447.3 L73.7,465.4 L85.1,465.4 L91.3,468.9 L97.4,471.0 L129.0,471.4 L141.3,473.1 L164.1,472.4 L171.1,483.7 L174.6,483.7 L179.0,447.9 L186.9,447.9 L191.3,432.0 L199.2,432.0 L204.5,427.1 L212.4,427.1 L216.8,435.9 L220.3,436.3 L225.6,449.1 L232.6,449.1 L237.0,452.1 L246.6,452.1 L251.0,457.0 L254.5,457.0 L258.0,467.2 L278.2,467.5 L283.5,468.9 L295.8,468.9 L299.3,470.7 L338.4,470.1 L342.7,478.9 L351.5,478.9 L355.9,436.8 L364.7,436.8 L369.1,450.3 L376.1,450.3 L380.5,457.9 L385.8,458.7 L391.0,462.2 L402.4,462.2 L408.6,465.8 L415.6,465.8 L419.1,472.8 L434.9,471.4 L440.2,460.1 L449.0,460.1 L453.4,462.6 L480.6,462.6 L498.1,463.1 L503.4,471.4 L524.5,471.4 L528.3,436.3 L533.2,436.3 L536.7,449.1 L545.5,449.1 L549.9,446.8 L557.8,446.8 L563.1,459.1 L567.0,458.7 L571.4,471.0 L577.6,472.4 L586.3,473.7 L595.1,477.2 L612.7,477.2 L619.7,474.9 L628.5,475.4 L633.7,484.7 L640.8,484.7 L647.8,483.0 L672.4,480.7 L681.1,480.7 L684.6,469.3 L692.5,469.3 L696.9,443.3 L711.0,442.9 L714.5,442.1 L739.1,442.9 L743.5,452.6 L747.9,453.5 L752.2,457.9 L760.1,458.4 L765.4,465.4 L773.3,465.4 L777.7,471.9 L793.5,472.4 L798.8,474.9 L812.8,472.8 L822.0,471.0 L835.2,471.0 L840.5,480.2 L850.1,480.7 L859.8,482.4 L865.9,435.0 L873.8,435.0 L879.1,456.1 L889.6,456.1 L894.9,441.2 L903.7,441.2 L908.0,461.4 L916.8,461.4 L923.8,471.9 L932.6,471.9 L937.9,444.3 L944.9,444.3 L950.2,453.1 L960.7,453.1 L966.0,456.1 L974.8,456.1 L980.0,458.7 L997.6,460.1 L1008.1,476.3 L1017.8,476.3 L1021.3,436.3 L1032.7,436.3 L1038.8,430.3 L1046.7,430.3 L1051.1,445.0 L1059.9,445.0 L1064.0,427.1 L1064.0,524.2 Z" fill="#37872D" fill-opacity="0.1"/><path d="M55.3,524.2 L55.3,474.5 L60.5,474.5 L65.8,472.4 L70.2,472.4 L74.6,467.2 L81.6,467.2 L86.9,455.2 L91.3,455.2 L94.8,451.4 L119.3,451.4 L123.7,449.1 L136.0,449.1 L141.3,450.3 L145.7,450.3 L150.1,454.3 L162.4,454.3 L166.7,455.6 L174.6,455.6 L178.2,458.4 L186.9,458.4 L191.3,471.9 L197.5,471.9 L204.5,474.2 L211.5,474.2 L215.9,476.3 L229.1,476.3 L233.5,473.1 L246.6,473.1 L251.0,464.9 L254.5,464.9 L258.6,456.1 L288.8,456.1 L292.3,454.9 L301.1,454.9 L304.6,456.1 L321.7,456.1 L326.1,454.9 L334.0,454.9 L339.2,450.0 L343.6,450.0 L348.0,460.1 L355.0,460.1 L359.4,454.3 L368.2,454.3 L373.5,463.1 L376.1,463.1 L380.5,461.4 L389.3,461.4 L393.7,470.1 L405.1,470.7 L410.3,466.1 L415.6,466.1 L419.1,463.1 L431.4,463.1 L436.7,460.1 L441.1,460.5 L445.4,462.6 L452.5,465.4 L466.5,465.4 L470.9,464.4 L478.8,464.4 L482.3,462.2 L495.5,462.2 L499.9,459.1 L506.9,459.1 L511.3,447.9 L524.5,447.9 L528.8,463.1 L536.7,463.1 L542.0,460.1 L545.5,460.8 L549.9,471.4 L556.9,471.4 L562.2,455.2 L574.0,455.2 L579.3,450.3 L586.3,450.3 L591.6,447.9 L596.0,447.9 L601.3,441.5 L608.3,441.5 L612.7,436.3 L621.4,435.0 L646.0,435.0 L651.3,444.3 L654.8,444.3 L659.2,459.6 L679.4,459.6 L684.6,463.1 L695.2,463.1 L701.3,448.6 L709.2,448.6 L714.5,461.9 L721.5,461.9 L726.8,471.9 L730.3,471.9 L734.7,478.0 L743.5,478.0 L747.9,466.1 L755.8,466.1 L761.0,456.1 L772.4,454.9 L783.0,455.2 L795.3,453.1 L802.3,453.1 L807.5,457.0 L814.6,457.0 L820.3,454.9 L837.8,456.6 L845.7,460.5 L850.1,457.0 L865.0,457.0 L869.4,468.4 L879.1,468.4 L883.5,463.1 L888.7,463.1 L894.9,471.4 L906.3,469.6 L916.0,469.3 L920.3,457.3 L937.9,456.1 L945.8,466.6 L953.7,467.5 L966.0,475.4 L974.8,475.4 L979.1,468.9 L990.6,468.4 L1008.1,466.6 L1012.5,444.3 L1024.8,444.3 L1030.1,449.6 L1043.2,449.6 L1047.6,458.4 L1054.6,458.4 L1059.9,464.4 L1064.0,464.4 L1064.0,524.2 Z" fill="#E0B400" fill-opacity="0.1"/><path d="M55.3,524.2 L55.3,496.0 L77.2,496.0 L80.7,488.6 L111.4,488.6 L115.8,489.5 L129.0,489.5 L132.5,494.2 L158.8,494.2 L166.7,498.2 L216.8,498.8 L220.3,500.5 L248.4,500.9 L251.0,503.5 L278.2,501.7 L299.3,501.2 L331.3,501.7 L338.4,499.5 L357.7,500.5 L441.9,500.9 L445.5,501.7 L491.1,501.7 L494.6,505.3 L515.7,505.3 L520.9,504.4 L533.2,504.7 L536.7,506.1 L544.6,506.1 L549.0,504.4 L588.1,504.4 L591.6,501.7 L679.4,502.3 L693.4,504.4 L698.7,508.2 L705.7,508.2 L711.0,505.3 L753.1,505.3 L770.7,507.0 L805.8,507.0 L811.1,505.3 L832.6,504.4 L841.3,502.3 L857.1,501.2 L865.9,503.5 L879.1,503.5 L882.6,483.3 L887.0,480.7 L890.5,402.2 L899.3,402.2 L903.7,435.0 L916.0,435.0 L920.3,490.3 L924.7,490.3 L928.8,434.5 L949.3,434.5 L953.7,460.5 L961.6,460.5 L965.6,471.0 L973.9,471.0 L979.1,424.5 L987.9,424.5 L991.4,447.9 L1000.2,447.9 L1004.6,466.1 L1013.4,466.1 L1018.7,465.4 L1025.7,465.4 L1030.1,471.0 L1043.2,471.4 L1050.3,472.4 L1054.6,481.2 L1064.0,481.2 L1064.0,524.2 Z" fill="#3274D9" fill-opacity="0.1"/><path d="M55.4,524.2 L55.4,520.4 L63.8,520.6 L72.2,520.6 L80.6,519.9 L89.0,519.7 L97.4,520.2 L105.8,520.1 L114.2,520.8 L122.6,520.7 L131.0,520.5 L139.4,520.5 L147.8,520.6 L156.2,519.9 L164.6,520.3 L173.0,519.9 L181.4,521.0 L189.8,519.8 L198.2,520.8 L206.6,519.8 L215.0,520.7 L223.4,520.2 L231.8,520.3 L240.2,520.9 L248.6,519.7 L257.0,519.8 L265.4,521.0 L273.8,520.4 L282.2,519.8 L290.6,521.1 L299.0,521.0 L307.4,519.9 L315.8,520.3 L324.2,519.9 L332.6,520.1 L341.0,520.6 L349.4,519.9 L357.8,520.7 L366.2,519.8 L374.6,519.9 L383.0,520.8 L391.4,520.3 L399.8,520.3 L408.2,520.5 L416.6,520.4 L425.0,520.2 L433.4,519.7 L441.8,520.7 L450.2,521.1 L458.6,521.1 L467.0,520.6 L475.4,520.2 L483.8,520.2 L492.2,520.7 L500.6,520.6 L509.0,519.9 L517.4,520.0 L525.8,520.2 L534.2,520.4 L542.6,520.8 L551.0,520.4 L559.4,519.7 L567.8,520.9 L576.2,520.3 L584.6,520.4 L593.0,520.0 L601.4,520.3 L609.8,520.2 L618.2,520.8 L626.6,519.8 L635.0,520.5 L643.4,519.9 L651.8,520.7 L660.2,519.8 L668.6,520.1 L677.0,520.2 L685.4,520.6 L693.8,519.8 L702.2,520.3 L710.6,520.0 L719.0,520.1 L727.4,520.4 L735.8,521.0 L744.2,520.4 L752.6,521.0 L761.0,519.9 L769.4,521.0 L777.8,520.2 L786.2,520.0 L794.6,520.7 L803.0,521.0 L811.4,519.7 L819.8,520.1 L828.2,520.8 L836.6,520.2 L845.0,520.0 L853.4,519.7 L861.8,519.8 L870.2,520.6 L878.6,521.1 L887.0,521.1 L895.4,520.4 L903.8,519.7 L912.2,520.2 L920.6,520.8 L929.0,520.9 L937.4,520.6 L945.8,520.0 L954.2,520.4 L962.6,520.4 L971.0,520.6 L979.4,520.1 L987.8,521.0 L996.2,521.0 L1004.6,519.9 L1013.0,520.1 L1021.4,520.9 L1029.8,520.1 L1038.2,521.0 L1046.6,520.4 L1055.0,520.7 L1064.0,520.7 L1064.0,524.2 Z" fill="#FA6400" fill-opacity="0.1"/><path d="M55.4,524.2 L55.4,516.3 L63.8,516.7 L72.2,516.9 L80.6,516.0 L89.0,516.6 L97.4,516.5 L105.8,516.5 L114.2,515.8 L122.6,515.7 L131.0,516.2 L139.4,516.6 L147.8,516.0 L156.2,516.3 L164.6,516.1 L173.0,516.7 L181.4,516.8 L189.8,516.2 L198.2,516.9 L206.6,515.8 L215.0,516.7 L223.4,516.8 L231.8,515.9 L240.2,516.5 L248.6,516.4 L257.0,516.8 L265.4,516.0 L273.8,516.3 L282.2,516.8 L290.6,516.5 L299.0,516.1 L307.4,515.8 L315.8,516.8 L324.2,516.3 L332.6,516.9 L341.0,515.9 L349.4,516.7 L357.8,516.7 L366.2,516.8 L374.6,515.7 L383.0,516.1 L391.4,515.8 L399.8,516.6 L408.2,516.1 L416.6,516.9 L425.0,516.1 L433.4,516.6 L441.8,516.7 L450.2,516.0 L458.6,516.4 L467.0,516.8 L475.4,516.3 L483.8,516.1 L492.2,516.0 L500.6,516.6 L509.0,515.9 L517.4,516.4 L525.8,516.4 L534.2,516.4 L542.6,515.9 L551.0,516.5 L559.4,516.8 L567.8,516.1 L576.2,516.1 L584.6,516.8 L593.0,516.4 L601.4,516.0 L609.8,515.7 L618.2,516.6 L626.6,516.1 L635.0,516.3 L643.4,516.0 L651.8,516.5 L660.2,516.6 L668.6,516.1 L677.0,515.8 L685.4,516.9 L693.8,516.8 L702.2,515.7 L710.6,516.4 L719.0,516.5 L727.4,516.2 L735.8,516.6 L744.2,516.9 L752.6,516.4 L761.0,516.2 L769.4,515.9 L777.8,516.0 L786.2,515.9 L794.6,515.8 L803.0,516.0 L811.4,516.7 L819.8,516.3 L828.2,516.7 L836.6,516.8 L845.0,516.7 L853.4,515.8 L861.8,516.8 L870.2,515.8 L878.6,516.6 L887.0,516.7 L895.4,516.5 L903.8,516.2 L912.2,515.8 L920.6,515.8 L929.0,516.5 L937.4,516.0 L945.8,516.3 L954.2,516.0 L962.6,515.9 L971.0,516.1 L979.4,516.6 L987.8,516.3 L996.2,516.2 L1004.6,516.3 L1013.0,516.4 L1021.4,516.3 L1029.8,516.2 L1038.2,516.9 L1046.6,516.6 L1055.0,516.0 L1064.0,516.1 L1064.0,524.2 Z" fill="#C4162A" fill-opacity="0.1"/><path d="M55.4,524.2 L55.4,518.5 L63.8,517.3 L72.2,518.2 L80.6,517.5 L89.0,518.5 L97.4,517.3 L105.8,518.4 L114.2,518.1 L122.6,518.3 L131.0,518.5 L139.4,517.6 L147.8,517.7 L156.2,518.1 L164.6,517.6 L173.0,517.6 L181.4,517.6 L189.8,518.3 L198.2,518.3 L206.6,518.3 L215.0,517.6 L223.4,518.4 L231.8,517.9 L240.2,517.6 L248.6,517.8 L257.0,517.8 L265.4,517.4 L273.8,518.0 L282.2,517.7 L290.6,518.0 L299.0,518.4 L307.4,518.1 L315.8,517.8 L324.2,518.3 L332.6,518.5 L341.0,517.9 L349.4,518.4 L357.8,517.3 L366.2,517.5 L374.6,517.5 L383.0,518.4 L391.4,518.1 L399.8,518.2 L408.2,517.6 L416.6,517.9 L425.0,518.4 L433.4,517.4 L441.8,517.4 L450.2,517.4 L458.6,517.9 L467.0,518.3 L475.4,518.0 L483.8,517.8 L492.2,517.9 L500.6,517.5 L509.0,518.4 L517.4,517.7 L525.8,517.6 L534.2,517.7 L542.6,518.3 L551.0,517.7 L559.4,518.4 L567.8,517.7 L576.2,517.8 L584.6,517.4 L593.0,518.4 L601.4,518.3 L609.8,517.9 L618.2,517.4 L626.6,517.9 L635.0,517.8 L643.4,518.3 L651.8,518.4 L660.2,518.2 L668.6,517.6 L677.0,517.3 L685.4,518.4 L693.8,518.4 L702.2,517.5 L710.6,517.9 L719.0,517.9 L727.4,518.5 L735.8,517.4 L744.2,517.4 L752.6,518.3 L761.0,518.0 L769.4,517.9 L777.8,518.2 L786.2,518.0 L794.6,518.1 L803.0,517.6 L811.4,517.4 L819.8,517.3 L828.2,517.7 L836.6,518.1 L845.0,517.8 L853.4,517.7 L861.8,518.0 L870.2,518.1 L878.6,518.0 L887.0,517.7 L895.4,518.3 L903.8,518.3 L912.2,518.4 L920.6,518.4 L929.0,517.3 L937.4,518.1 L945.8,517.7 L954.2,517.8 L962.6,517.9 L971.0,517.5 L979.4,517.6 L987.8,518.5 L996.2,517.7 L1004.6,518.4 L1013.0,518.1 L1021.4,517.7 L1029.8,517.7 L1038.2,518.0 L1046.6,518.1 L1055.0,517.7 L1064.0,517.4 L1064.0,524.2 Z" fill="#8F3BB8" fill-opacity="0.1"/><path d="M55.3,524.2 L55.3,494.2 L86.0,494.2 L91.3,500.5 L115.8,500.5 L120.2,495.3 L137.8,496.0 L157.1,496.5 L161.5,493.0 L263.3,493.0 L267.7,496.5 L292.3,496.5 L296.7,494.2 L347.1,494.2 L351.5,497.0 L380.5,497.0 L385.8,495.6 L401.6,496.0 L406.8,494.2 L452.5,494.2 L456.0,493.0 L491.1,493.0 L495.5,500.0 L507.8,500.0 L512.2,494.2 L540.3,494.2 L545.5,493.0 L614.4,493.0 L623.2,494.2 L637.2,494.2 L642.5,493.0 L663.6,493.0 L667.4,474.2 L675.9,474.2 L680.8,502.3 L692.5,502.3 L696.9,470.7 L701.3,470.7 L705.7,500.0 L712.7,500.0 L718.9,504.4 L731.2,504.4 L735.6,493.5 L744.3,493.5 L748.7,497.4 L754.0,495.3 L772.4,495.3 L776.8,464.4 L789.1,464.4 L793.1,498.2 L815.0,497.4 L862.4,497.4 L865.9,494.2 L885.2,494.2 L890.5,474.5 L899.3,474.5 L904.2,516.3 L911.6,523.3 L920.3,523.3 L924.7,498.2 L932.6,498.2 L937.9,522.8 L945.8,522.8 L950.2,489.5 L959.0,491.2 L966.0,491.2 L970.4,500.0 L980.0,500.9 L985.3,503.0 L991.4,503.0 L995.8,515.3 L1004.6,515.3 L1009.9,491.7 L1015.1,493.5 L1023.9,499.5 L1033.6,500.9 L1038.0,496.5 L1050.3,496.5 L1054.6,504.4 L1064.0,504.4 L1064.0,524.2 Z" fill="#C8F2C2" fill-opacity="0.1"/><path d="M55.3,524.2 L55.3,504.0 L69.3,504.0 L73.7,500.9 L85.1,502.3 L116.7,501.2 L139.5,500.0 L158.0,500.5 L164.1,502.3 L172.9,501.2 L246.6,501.2 L275.6,500.9 L280.0,503.5 L315.5,501.7 L327.8,503.5 L334.8,501.7 L355.9,501.7 L361.2,503.5 L389.3,503.5 L392.8,501.7 L424.4,501.7 L427.9,503.5 L491.1,503.5 L496.4,502.3 L533.2,502.3 L538.5,503.5 L550.8,502.3 L567.0,500.5 L617.9,501.2 L623.2,504.0 L642.5,504.0 L647.8,500.9 L665.3,501.2 L672.4,503.5 L693.4,503.5 L696.9,496.5 L718.0,496.5 L728.5,495.3 L751.4,494.7 L756.6,498.2 L770.7,497.4 L788.2,498.2 L815.0,497.4 L832.6,497.4 L836.1,499.1 L862.4,497.4 L885.2,497.4 L895.8,501.2 L913.3,499.1 L927.4,502.3 L937.9,504.4 L944.9,500.0 L955.5,500.0 L964.2,503.0 L969.5,500.0 L990.6,500.5 L1004.6,497.4 L1025.7,498.2 L1038.0,503.0 L1050.3,503.0 L1054.6,502.3 L1064.0,502.3 L1064.0,524.2 Z" fill="#FFF899" fill-opacity="0.1"/><path d="M55.3,524.2 L55.3,477.2 L58.8,475.9 L81.6,475.9 L86.9,471.9 L93.9,471.9 L98.3,470.1 L115.0,470.7 L127.2,471.9 L155.3,472.4 L169.4,473.7 L182.5,474.2 L187.8,486.8 L194.8,486.8 L199.2,480.7 L206.3,480.7 L212.4,478.4 L218.5,478.4 L225.6,479.5 L241.4,479.5 L246.6,475.4 L255.4,475.4 L260.7,474.2 L274.7,474.9 L285.3,476.3 L292.3,475.4 L340.1,475.9 L351.5,477.2 L355.9,484.2 L364.7,484.2 L369.1,470.7 L382.2,470.1 L388.4,469.3 L406.8,470.7 L410.3,472.4 L420.9,471.4 L431.4,471.4 L435.8,475.4 L454.2,475.4 L458.6,476.6 L471.8,476.6 L477.0,474.9 L494.6,475.4 L501.6,474.2 L510.4,476.3 L514.8,476.6 L520.1,481.9 L528.0,481.9 L533.2,474.2 L545.5,474.2 L550.8,473.1 L570.5,474.2 L591.6,474.9 L596.9,478.4 L605.6,478.4 L610.9,479.5 L630.2,479.5 L633.7,477.2 L682.9,477.2 L689.9,481.9 L696.9,484.2 L704.0,484.2 L709.2,469.3 L717.1,469.3 L723.3,475.9 L731.2,474.9 L740.8,475.4 L752.2,481.2 L761.9,481.2 L776.0,478.4 L790.0,478.0 L795.3,475.4 L805.8,474.9 L822.0,475.4 L828.2,473.1 L847.5,473.1 L857.1,478.9 L862.4,486.0 L869.4,486.0 L873.8,482.4 L882.6,481.9 L887.0,480.7 L894.0,480.7 L901.0,495.3 L907.2,495.3 L912.4,462.2 L920.3,462.2 L932.6,463.7 L938.8,480.2 L949.3,480.2 L953.7,471.0 L967.7,470.1 L976.5,470.7 L980.0,473.1 L990.6,473.7 L1004.6,473.7 L1011.6,472.8 L1020.4,472.4 L1028.3,472.4 L1033.6,481.9 L1042.4,481.9 L1046.7,451.7 L1050.3,451.7 L1054.6,448.2 L1064.0,448.2 L1064.0,524.2 Z" fill="#C0D8FF" fill-opacity="0.1"/><path d="M55.3,512.8 L81.6,513.5 L86.9,512.3 L120.2,512.3 L127.2,508.2 L137.8,508.2 L146.6,509.3 L155.3,509.3 L158.8,507.0 L165.9,507.0 L172.9,505.3 L192.2,505.8 L196.6,510.0 L204.5,510.0 L208.9,512.3 L246.6,512.3 L251.0,511.1 L278.2,511.1 L283.5,512.3 L319.0,513.5 L350.6,514.6 L355.9,508.2 L389.3,508.2 L394.5,509.3 L413.8,510.0 L419.1,507.0 L431.4,507.0 L436.7,509.3 L445.5,509.3 L449.8,511.1 L456.0,511.1 L459.5,510.0 L498.1,510.0 L502.5,512.8 L528.0,512.8 L533.2,511.1 L595.1,514.0 L607.4,512.3 L612.7,507.9 L672.4,507.9 L679.4,506.1 L688.2,506.1 L692.5,511.8 L709.2,511.8 L712.7,514.9 L721.5,514.9 L725.9,506.1 L753.1,506.5 L770.7,508.8 L797.0,509.3 L820.0,511.1 L832.6,511.1 L836.1,513.5 L857.1,513.5 L862.4,510.0 L899.3,511.1 L908.0,514.6 L927.4,514.6 L934.4,509.3 L944.9,510.0 L957.2,506.1 L969.5,506.5 L976.5,510.0 L994.1,511.8 L1004.6,510.0 L1023.9,509.3 L1029.2,514.6 L1064.0,514.6" fill="none" stroke="#73BF69" stroke-width="1.25" stroke-linejoin="round"/><path d="M55.4,523.1 L63.8,523.3 L72.2,523.3 L80.6,523.4 L89.0,523.0 L97.4,523.0 L105.8,523.0 L114.2,523.0 L122.6,523.3 L131.0,523.0 L139.4,523.2 L147.8,523.0 L156.2,523.1 L164.6,523.2 L173.0,523.4 L181.4,523.3 L189.8,522.9 L198.2,523.1 L206.6,523.0 L215.0,523.4 L223.4,523.4 L231.8,523.4 L240.2,523.4 L248.6,523.3 L257.0,523.5 L265.4,523.4 L273.8,523.1 L282.2,523.4 L290.6,523.2 L299.0,523.4 L307.4,523.2 L315.8,523.2 L324.2,523.1 L332.6,523.2 L341.0,523.1 L349.4,523.0 L357.8,523.4 L366.2,523.4 L374.6,523.5 L383.0,523.3 L391.4,523.2 L399.8,523.3 L408.2,523.0 L416.6,523.3 L425.0,523.2 L433.4,523.0 L441.8,523.0 L450.2,523.2 L458.6,523.1 L467.0,523.2 L475.4,523.3 L483.8,523.1 L492.2,523.0 L500.6,523.2 L509.0,523.0 L517.4,523.0 L525.8,523.0 L534.2,523.1 L542.6,522.9 L551.0,523.3 L559.4,523.5 L567.8,523.1 L576.2,523.3 L584.6,523.5 L593.0,522.9 L601.4,523.0 L609.8,523.4 L618.2,523.4 L626.6,523.3 L635.0,523.0 L643.4,523.1 L651.8,523.4 L660.2,523.4 L668.6,523.4 L677.0,523.0 L685.4,523.4 L693.8,523.1 L702.2,523.3 L710.6,523.0 L719.0,523.5 L727.4,523.3 L735.8,523.3 L744.2,523.0 L752.6,523.3 L761.0,523.2 L769.4,523.3 L777.8,523.1 L786.2,523.3 L794.6,523.1 L803.0,523.1 L811.4,523.0 L819.8,523.3 L828.2,523.0 L836.6,523.0 L845.0,522.9 L853.4,523.3 L861.8,523.2 L870.2,523.2 L878.6,522.9 L887.0,523.2 L895.4,523.1 L903.8,523.0 L912.2,522.9 L920.6,523.5 L929.0,523.0 L937.4,523.1 L945.8,523.1 L954.2,523.3 L962.6,522.9 L971.0,523.2 L979.4,523.1 L987.8,523.4 L996.2,522.9 L1004.6,523.1 L1013.0,523.2 L1021.4,523.5 L1029.8,523.2 L1038.2,523.2 L1046.6,523.3 L1055.0,523.1 L1064.0,522.9" fill="none" stroke="#FADE2A" stroke-width="1.25" stroke-linejoin="round"/><path d="M55.4,522.6 L63.8,522.9 L72.2,522.9 L80.6,523.1 L89.0,522.7 L97.4,522.7 L105.8,522.9 L114.2,522.9 L122.6,522.7 L131.0,522.9 L139.4,522.7 L147.8,523.0 L156.2,522.6 L164.6,522.6 L173.0,523.0 L181.4,522.7 L189.8,522.7 L198.2,523.0 L206.6,522.9 L215.0,522.6 L223.4,522.8 L231.8,522.9 L240.2,522.6 L248.6,522.9 L257.0,522.6 L265.4,522.7 L273.8,522.5 L282.2,522.6 L290.6,523.1 L299.0,522.7 L307.4,523.1 L315.8,522.8 L324.2,522.9 L332.6,523.0 L341.0,522.9 L349.4,522.6 L357.8,522.9 L366.2,522.9 L374.6,522.6 L383.0,522.6 L391.4,523.0 L399.8,522.8 L408.2,522.6 L416.6,522.8 L425.0,522.6 L433.4,523.0 L441.8,522.8 L450.2,522.6 L458.6,523.0 L467.0,522.6 L475.4,522.7 L483.8,522.5 L492.2,522.9 L500.6,522.6 L509.0,522.8 L517.4,522.6 L525.8,522.8 L534.2,522.9 L542.6,522.8 L551.0,522.8 L559.4,522.8 L567.8,522.8 L576.2,522.9 L584.6,522.6 L593.0,522.8 L601.4,522.6 L609.8,523.0 L618.2,523.1 L626.6,522.5 L635.0,522.6 L643.4,522.9 L651.8,522.8 L660.2,522.5 L668.6,522.9 L677.0,523.1 L685.4,522.8 L693.8,522.7 L702.2,522.8 L710.6,523.1 L719.0,522.7 L727.4,522.7 L735.8,522.6 L744.2,522.9 L752.6,522.8 L761.0,522.7 L769.4,522.7 L777.8,522.5 L786.2,522.7 L794.6,523.1 L803.0,522.9 L811.4,522.7 L819.8,523.1 L828.2,522.7 L836.6,522.7 L845.0,522.5 L853.4,522.6 L861.8,522.6 L870.2,522.6 L878.6,523.0 L887.0,522.7 L895.4,522.6 L903.8,522.9 L912.2,523.1 L920.6,522.7 L929.0,523.0 L937.4,522.7 L945.8,522.8 L954.2,522.9 L962.6,523.1 L971.0,523.0 L979.4,522.8 L987.8,523.0 L996.2,522.7 L1004.6,522.7 L1013.0,523.1 L1021.4,522.8 L1029.8,523.0 L1038.2,522.7 L1046.6,523.0 L1055.0,522.9 L1064.0,522.6" fill="none" stroke="#5794F2" stroke-width="1.25" stroke-linejoin="round"/><path d="M55.4,522.2 L63.8,522.3 L72.2,522.6 L80.6,522.2 L89.0,522.2 L97.4,522.3 L105.8,521.9 L114.2,522.2 L122.6,522.3 L131.0,522.5 L139.4,521.8 L147.8,522.0 L156.2,521.8 L164.6,522.5 L173.0,522.4 L181.4,521.7 L189.8,522.7 L198.2,522.7 L206.6,522.4 L215.0,522.3 L223.4,521.9 L231.8,521.7 L240.2,522.2 L248.6,521.8 L257.0,521.9 L265.4,521.9 L273.8,521.7 L282.2,522.2 L290.6,522.1 L299.0,522.5 L307.4,522.2 L315.8,522.3 L324.2,522.2 L332.6,522.4 L341.0,522.2 L349.4,522.0 L357.8,522.7 L366.2,522.7 L374.6,522.5 L383.0,522.4 L391.4,522.0 L399.8,521.9 L408.2,522.0 L416.6,521.8 L425.0,522.5 L433.4,522.1 L441.8,522.5 L450.2,522.1 L458.6,522.7 L467.0,522.5 L475.4,521.7 L483.8,521.9 L492.2,522.6 L500.6,522.2 L509.0,522.7 L517.4,522.1 L525.8,521.8 L534.2,522.3 L542.6,522.5 L551.0,522.0 L559.4,521.8 L567.8,522.0 L576.2,522.7 L584.6,522.5 L593.0,521.8 L601.4,521.9 L609.8,521.8 L618.2,521.8 L626.6,522.5 L635.0,521.9 L643.4,522.3 L651.8,522.1 L660.2,521.9 L668.6,522.4 L677.0,521.8 L685.4,522.3 L693.8,521.8 L702.2,522.1 L710.6,521.9 L719.0,522.0 L727.4,522.7 L735.8,522.5 L744.2,522.0 L752.6,522.6 L761.0,521.9 L769.4,522.1 L777.8,522.6 L786.2,522.3 L794.6,521.8 L803.0,522.7 L811.4,521.9 L819.8,522.0 L828.2,522.5 L836.6,522.0 L845.0,522.0 L853.4,521.8 L861.8,521.8 L870.2,522.3 L878.6,521.9 L887.0,522.3 L895.4,522.1 L903.8,522.2 L912.2,522.7 L920.6,522.2 L929.0,522.3 L937.4,522.6 L945.8,521.9 L954.2,521.9 L962.6,522.6 L971.0,522.5 L979.4,521.9 L987.8,521.9 L996.2,522.4 L1004.6,522.6 L1013.0,521.9 L1021.4,522.7 L1029.8,522.6 L1038.2,522.3 L1046.6,522.1 L1055.0,521.8 L1064.0,521.7" fill="none" stroke="#FF9830" stroke-width="1.25" stroke-linejoin="round"/><path d="M55.3,471.0 L57.0,469.3 L60.5,469.3 L65.8,463.7 L69.3,463.7 L74.6,461.4 L99.2,461.4 L107.1,462.2 L110.6,469.3 L136.0,470.1 L140.4,464.4 L166.7,464.4 L171.1,470.1 L190.4,470.1 L199.2,471.4 L213.3,472.8 L225.6,473.1 L230.8,471.9 L250.1,471.9 L269.5,473.1 L275.6,477.2 L295.8,475.9 L322.6,475.9 L340.1,475.4 L348.0,469.3 L385.8,469.3 L392.8,471.4 L406.8,471.9 L410.3,474.5 L431.4,474.5 L438.4,475.4 L471.8,476.3 L477.0,469.3 L482.3,469.3 L486.7,463.1 L498.1,463.1 L503.4,461.4 L528.0,461.9 L532.4,458.4 L541.1,458.4 L545.5,461.9 L565.3,461.9 L570.5,466.1 L582.8,466.1 L588.1,471.4 L621.4,471.4 L626.7,475.4 L646.0,475.4 L650.4,468.4 L653.9,468.4 L659.2,460.8 L671.5,460.8 L675.9,429.2 L688.2,429.2 L693.4,422.7 L696.9,422.7 L702.2,427.1 L709.2,427.1 L713.6,430.3 L726.8,430.3 L731.2,465.4 L739.1,465.4 L743.5,449.1 L747.0,449.1 L752.2,457.9 L760.1,457.9 L767.2,452.1 L776.8,452.1 L782.1,460.1 L793.5,460.1 L797.9,453.5 L806.7,453.5 L811.1,467.2 L823.8,467.2 L829.9,461.9 L836.1,461.9 L840.5,454.3 L856.3,454.3 L861.5,461.4 L873.8,461.4 L882.6,457.9 L886.1,496.5 L894.0,497.4 L900.1,471.9 L907.2,471.4 L911.6,452.1 L920.3,452.1 L924.7,491.2 L937.0,491.2 L941.4,471.9 L950.2,471.9 L953.7,480.7 L969.5,481.6 L980.0,481.9 L984.4,485.4 L994.1,485.4 L1001.1,496.0 L1008.1,496.0 L1012.5,475.4 L1018.7,474.9 L1025.7,478.0 L1036.2,478.9 L1043.2,483.0 L1051.1,483.3 L1055.5,488.6 L1064.0,488.6" fill="none" stroke="#F2495C" stroke-width="1.25" stroke-linejoin="round"/><path d="M55.4,514.9 L63.8,515.0 L72.2,514.9 L80.6,514.9 L89.0,514.9 L97.4,515.2 L105.8,514.8 L114.2,515.1 L122.6,514.5 L131.0,514.8 L139.4,514.8 L147.8,514.6 L156.2,515.2 L164.6,514.8 L173.0,515.3 L181.4,515.5 L189.8,514.8 L198.2,515.4 L206.6,515.3 L215.0,515.2 L223.4,514.5 L231.8,515.0 L240.2,515.1 L248.6,514.8 L257.0,514.7 L265.4,514.8 L273.8,514.8 L282.2,515.3 L290.6,514.8 L299.0,514.9 L307.4,515.1 L315.8,515.4 L324.2,514.8 L332.6,514.5 L341.0,515.5 L349.4,515.3 L357.8,515.3 L366.2,515.0 L374.6,514.7 L383.0,514.7 L391.4,514.8 L399.8,515.0 L408.2,514.6 L416.6,515.2 L425.0,515.2 L433.4,514.5 L441.8,515.3 L450.2,515.0 L458.6,515.4 L467.0,515.0 L475.4,515.3 L483.8,515.0 L492.2,515.1 L500.6,515.0 L509.0,514.5 L517.4,514.6 L525.8,514.7 L534.2,514.9 L542.6,514.9 L551.0,515.0 L559.4,515.2 L567.8,514.9 L576.2,514.8 L584.6,515.0 L593.0,515.5 L601.4,515.3 L609.8,515.2 L618.2,515.3 L626.6,514.7 L635.0,514.6 L643.4,514.6 L651.8,514.6 L660.2,514.5 L668.6,515.1 L677.0,515.4 L685.4,514.6 L693.8,515.2 L702.2,515.4 L710.6,515.3 L719.0,514.7 L727.4,515.1 L735.8,514.8 L744.2,514.7 L752.6,514.5 L761.0,515.0 L769.4,515.4 L777.8,514.6 L786.2,514.6 L794.6,514.9 L803.0,514.5 L811.4,515.0 L819.8,515.2 L828.2,515.0 L836.6,514.5 L845.0,514.5 L853.4,514.7 L861.8,515.2 L870.2,515.4 L878.6,515.0 L887.0,514.6 L895.4,514.7 L903.8,514.9 L912.2,514.6 L920.6,514.6 L929.0,514.9 L937.4,515.3 L945.8,514.7 L954.2,515.4 L962.6,515.4 L971.0,514.9 L979.4,514.7 L987.8,514.7 L996.2,515.2 L1004.6,515.3 L1013.0,515.4 L1021.4,514.7 L1029.8,514.9 L1038.2,514.5 L1046.6,514.8 L1055.0,514.8 L1064.0,514.6" fill="none" stroke="#B877D9" stroke-width="1.25" stroke-linejoin="round"/><path d="M55.3,439.8 L60.5,447.3 L69.3,447.3 L73.7,465.4 L85.1,465.4 L91.3,468.9 L97.4,471.0 L129.0,471.4 L141.3,473.1 L164.1,472.4 L171.1,483.7 L174.6,483.7 L179.0,447.9 L186.9,447.9 L191.3,432.0 L199.2,432.0 L204.5,427.1 L212.4,427.1 L216.8,435.9 L220.3,436.3 L225.6,449.1 L232.6,449.1 L237.0,452.1 L246.6,452.1 L251.0,457.0 L254.5,457.0 L258.0,467.2 L278.2,467.5 L283.5,468.9 L295.8,468.9 L299.3,470.7 L338.4,470.1 L342.7,478.9 L351.5,478.9 L355.9,436.8 L364.7,436.8 L369.1,450.3 L376.1,450.3 L380.5,457.9 L385.8,458.7 L391.0,462.2 L402.4,462.2 L408.6,465.8 L415.6,465.8 L419.1,472.8 L434.9,471.4 L440.2,460.1 L449.0,460.1 L453.4,462.6 L480.6,462.6 L498.1,463.1 L503.4,471.4 L524.5,471.4 L528.3,436.3 L533.2,436.3 L536.7,449.1 L545.5,449.1 L549.9,446.8 L557.8,446.8 L563.1,459.1 L567.0,458.7 L571.4,471.0 L577.6,472.4 L586.3,473.7 L595.1,477.2 L612.7,477.2 L619.7,474.9 L628.5,475.4 L633.7,484.7 L640.8,484.7 L647.8,483.0 L672.4,480.7 L681.1,480.7 L684.6,469.3 L692.5,469.3 L696.9,443.3 L711.0,442.9 L714.5,442.1 L739.1,442.9 L743.5,452.6 L747.9,453.5 L752.2,457.9 L760.1,458.4 L765.4,465.4 L773.3,465.4 L777.7,471.9 L793.5,472.4 L798.8,474.9 L812.8,472.8 L822.0,471.0 L835.2,471.0 L840.5,480.2 L850.1,480.7 L859.8,482.4 L865.9,435.0 L873.8,435.0 L879.1,456.1 L889.6,456.1 L894.9,441.2 L903.7,441.2 L908.0,461.4 L916.8,461.4 L923.8,471.9 L932.6,471.9 L937.9,444.3 L944.9,444.3 L950.2,453.1 L960.7,453.1 L966.0,456.1 L974.8,456.1 L980.0,458.7 L997.6,460.1 L1008.1,476.3 L1017.8,476.3 L1021.3,436.3 L1032.7,436.3 L1038.8,430.3 L1046.7,430.3 L1051.1,445.0 L1059.9,445.0 L1064.0,427.1" fill="none" stroke="#37872D" stroke-width="1.25" stroke-linejoin="round"/><path d="M55.3,474.5 L60.5,474.5 L65.8,472.4 L70.2,472.4 L74.6,467.2 L81.6,467.2 L86.9,455.2 L91.3,455.2 L94.8,451.4 L119.3,451.4 L123.7,449.1 L136.0,449.1 L141.3,450.3 L145.7,450.3 L150.1,454.3 L162.4,454.3 L166.7,455.6 L174.6,455.6 L178.2,458.4 L186.9,458.4 L191.3,471.9 L197.5,471.9 L204.5,474.2 L211.5,474.2 L215.9,476.3 L229.1,476.3 L233.5,473.1 L246.6,473.1 L251.0,464.9 L254.5,464.9 L258.6,456.1 L288.8,456.1 L292.3,454.9 L301.1,454.9 L304.6,456.1 L321.7,456.1 L326.1,454.9 L334.0,454.9 L339.2,450.0 L343.6,450.0 L348.0,460.1 L355.0,460.1 L359.4,454.3 L368.2,454.3 L373.5,463.1 L376.1,463.1 L380.5,461.4 L389.3,461.4 L393.7,470.1 L405.1,470.7 L410.3,466.1 L415.6,466.1 L419.1,463.1 L431.4,463.1 L436.7,460.1 L441.1,460.5 L445.4,462.6 L452.5,465.4 L466.5,465.4 L470.9,464.4 L478.8,464.4 L482.3,462.2 L495.5,462.2 L499.9,459.1 L506.9,459.1 L511.3,447.9 L524.5,447.9 L528.8,463.1 L536.7,463.1 L542.0,460.1 L545.5,460.8 L549.9,471.4 L556.9,471.4 L562.2,455.2 L574.0,455.2 L579.3,450.3 L586.3,450.3 L591.6,447.9 L596.0,447.9 L601.3,441.5 L608.3,441.5 L612.7,436.3 L621.4,435.0 L646.0,435.0 L651.3,444.3 L654.8,444.3 L659.2,459.6 L679.4,459.6 L684.6,463.1 L695.2,463.1 L701.3,448.6 L709.2,448.6 L714.5,461.9 L721.5,461.9 L726.8,471.9 L730.3,471.9 L734.7,478.0 L743.5,478.0 L747.9,466.1 L755.8,466.1 L761.0,456.1 L772.4,454.9 L783.0,455.2 L795.3,453.1 L802.3,453.1 L807.5,457.0 L814.6,457.0 L820.3,454.9 L837.8,456.6 L845.7,460.5 L850.1,457.0 L865.0,457.0 L869.4,468.4 L879.1,468.4 L883.5,463.1 L888.7,463.1 L894.9,471.4 L906.3,469.6 L916.0,469.3 L920.3,457.3 L937.9,456.1 L945.8,466.6 L953.7,467.5 L966.0,475.4 L974.8,475.4 L979.1,468.9 L990.6,468.4 L1008.1,466.6 L1012.5,444.3 L1024.8,444.3 L1030.1,449.6 L1043.2,449.6 L1047.6,458.4 L1054.6,458.4 L1059.9,464.4 L1064.0,464.4" fill="none" stroke="#E0B400" stroke-width="1.25" stroke-linejoin="round"/><path d="M55.3,496.0 L77.2,496.0 L80.7,488.6 L111.4,488.6 L115.8,489.5 L129.0,489.5 L132.5,494.2 L158.8,494.2 L166.7,498.2 L216.8,498.8 L220.3,500.5 L248.4,500.9 L251.0,503.5 L278.2,501.7 L299.3,501.2 L331.3,501.7 L338.4,499.5 L357.7,500.5 L441.9,500.9 L445.5,501.7 L491.1,501.7 L494.6,505.3 L515.7,505.3 L520.9,504.4 L533.2,504.7 L536.7,506.1 L544.6,506.1 L549.0,504.4 L588.1,504.4 L591.6,501.7 L679.4,502.3 L693.4,504.4 L698.7,508.2 L705.7,508.2 L711.0,505.3 L753.1,505.3 L770.7,507.0 L805.8,507.0 L811.1,505.3 L832.6,504.4 L841.3,502.3 L857.1,501.2 L865.9,503.5 L879.1,503.5 L882.6,483.3 L887.0,480.7 L890.5,402.2 L899.3,402.2 L903.7,435.0 L916.0,435.0 L920.3,490.3 L924.7,490.3 L928.8,434.5 L949.3,434.5 L953.7,460.5 L961.6,460.5 L965.6,471.0 L973.9,471.0 L979.1,424.5 L987.9,424.5 L991.4,447.9 L1000.2,447.9 L1004.6,466.1 L1013.4,466.1 L1018.7,465.4 L1025.7,465.4 L1030.1,471.0 L1043.2,471.4 L1050.3,472.4 L1054.6,481.2 L1064.0,481.2" fill="none" stroke="#3274D9" stroke-width="1.25" stroke-linejoin="round"/><path d="M55.4,520.4 L63.8,520.6 L72.2,520.6 L80.6,519.9 L89.0,519.7 L97.4,520.2 L105.8,520.1 L114.2,520.8 L122.6,520.7 L131.0,520.5 L139.4,520.5 L147.8,520.6 L156.2,519.9 L164.6,520.3 L173.0,519.9 L181.4,521.0 L189.8,519.8 L198.2,520.8 L206.6,519.8 L215.0,520.7 L223.4,520.2 L231.8,520.3 L240.2,520.9 L248.6,519.7 L257.0,519.8 L265.4,521.0 L273.8,520.4 L282.2,519.8 L290.6,521.1 L299.0,521.0 L307.4,519.9 L315.8,520.3 L324.2,519.9 L332.6,520.1 L341.0,520.6 L349.4,519.9 L357.8,520.7 L366.2,519.8 L374.6,519.9 L383.0,520.8 L391.4,520.3 L399.8,520.3 L408.2,520.5 L416.6,520.4 L425.0,520.2 L433.4,519.7 L441.8,520.7 L450.2,521.1 L458.6,521.1 L467.0,520.6 L475.4,520.2 L483.8,520.2 L492.2,520.7 L500.6,520.6 L509.0,519.9 L517.4,520.0 L525.8,520.2 L534.2,520.4 L542.6,520.8 L551.0,520.4 L559.4,519.7 L567.8,520.9 L576.2,520.3 L584.6,520.4 L593.0,520.0 L601.4,520.3 L609.8,520.2 L618.2,520.8 L626.6,519.8 L635.0,520.5 L643.4,519.9 L651.8,520.7 L660.2,519.8 L668.6,520.1 L677.0,520.2 L685.4,520.6 L693.8,519.8 L702.2,520.3 L710.6,520.0 L719.0,520.1 L727.4,520.4 L735.8,521.0 L744.2,520.4 L752.6,521.0 L761.0,519.9 L769.4,521.0 L777.8,520.2 L786.2,520.0 L794.6,520.7 L803.0,521.0 L811.4,519.7 L819.8,520.1 L828.2,520.8 L836.6,520.2 L845.0,520.0 L853.4,519.7 L861.8,519.8 L870.2,520.6 L878.6,521.1 L887.0,521.1 L895.4,520.4 L903.8,519.7 L912.2,520.2 L920.6,520.8 L929.0,520.9 L937.4,520.6 L945.8,520.0 L954.2,520.4 L962.6,520.4 L971.0,520.6 L979.4,520.1 L987.8,521.0 L996.2,521.0 L1004.6,519.9 L1013.0,520.1 L1021.4,520.9 L1029.8,520.1 L1038.2,521.0 L1046.6,520.4 L1055.0,520.7 L1064.0,520.7" fill="none" stroke="#FA6400" stroke-width="1.25" stroke-linejoin="round"/><path d="M55.4,516.3 L63.8,516.7 L72.2,516.9 L80.6,516.0 L89.0,516.6 L97.4,516.5 L105.8,516.5 L114.2,515.8 L122.6,515.7 L131.0,516.2 L139.4,516.6 L147.8,516.0 L156.2,516.3 L164.6,516.1 L173.0,516.7 L181.4,516.8 L189.8,516.2 L198.2,516.9 L206.6,515.8 L215.0,516.7 L223.4,516.8 L231.8,515.9 L240.2,516.5 L248.6,516.4 L257.0,516.8 L265.4,516.0 L273.8,516.3 L282.2,516.8 L290.6,516.5 L299.0,516.1 L307.4,515.8 L315.8,516.8 L324.2,516.3 L332.6,516.9 L341.0,515.9 L349.4,516.7 L357.8,516.7 L366.2,516.8 L374.6,515.7 L383.0,516.1 L391.4,515.8 L399.8,516.6 L408.2,516.1 L416.6,516.9 L425.0,516.1 L433.4,516.6 L441.8,516.7 L450.2,516.0 L458.6,516.4 L467.0,516.8 L475.4,516.3 L483.8,516.1 L492.2,516.0 L500.6,516.6 L509.0,515.9 L517.4,516.4 L525.8,516.4 L534.2,516.4 L542.6,515.9 L551.0,516.5 L559.4,516.8 L567.8,516.1 L576.2,516.1 L584.6,516.8 L593.0,516.4 L601.4,516.0 L609.8,515.7 L618.2,516.6 L626.6,516.1 L635.0,516.3 L643.4,516.0 L651.8,516.5 L660.2,516.6 L668.6,516.1 L677.0,515.8 L685.4,516.9 L693.8,516.8 L702.2,515.7 L710.6,516.4 L719.0,516.5 L727.4,516.2 L735.8,516.6 L744.2,516.9 L752.6,516.4 L761.0,516.2 L769.4,515.9 L777.8,516.0 L786.2,515.9 L794.6,515.8 L803.0,516.0 L811.4,516.7 L819.8,516.3 L828.2,516.7 L836.6,516.8 L845.0,516.7 L853.4,515.8 L861.8,516.8 L870.2,515.8 L878.6,516.6 L887.0,516.7 L895.4,516.5 L903.8,516.2 L912.2,515.8 L920.6,515.8 L929.0,516.5 L937.4,516.0 L945.8,516.3 L954.2,516.0 L962.6,515.9 L971.0,516.1 L979.4,516.6 L987.8,516.3 L996.2,516.2 L1004.6,516.3 L1013.0,516.4 L1021.4,516.3 L1029.8,516.2 L1038.2,516.9 L1046.6,516.6 L1055.0,516.0 L1064.0,516.1" fill="none" stroke="#C4162A" stroke-width="1.25" stroke-linejoin="round"/><path d="M55.4,518.5 L63.8,517.3 L72.2,518.2 L80.6,517.5 L89.0,518.5 L97.4,517.3 L105.8,518.4 L114.2,518.1 L122.6,518.3 L131.0,518.5 L139.4,517.6 L147.8,517.7 L156.2,518.1 L164.6,517.6 L173.0,517.6 L181.4,517.6 L189.8,518.3 L198.2,518.3 L206.6,518.3 L215.0,517.6 L223.4,518.4 L231.8,517.9 L240.2,517.6 L248.6,517.8 L257.0,517.8 L265.4,517.4 L273.8,518.0 L282.2,517.7 L290.6,518.0 L299.0,518.4 L307.4,518.1 L315.8,517.8 L324.2,518.3 L332.6,518.5 L341.0,517.9 L349.4,518.4 L357.8,517.3 L366.2,517.5 L374.6,517.5 L383.0,518.4 L391.4,518.1 L399.8,518.2 L408.2,517.6 L416.6,517.9 L425.0,518.4 L433.4,517.4 L441.8,517.4 L450.2,517.4 L458.6,517.9 L467.0,518.3 L475.4,518.0 L483.8,517.8 L492.2,517.9 L500.6,517.5 L509.0,518.4 L517.4,517.7 L525.8,517.6 L534.2,517.7 L542.6,518.3 L551.0,517.7 L559.4,518.4 L567.8,517.7 L576.2,517.8 L584.6,517.4 L593.0,518.4 L601.4,518.3 L609.8,517.9 L618.2,517.4 L626.6,517.9 L635.0,517.8 L643.4,518.3 L651.8,518.4 L660.2,518.2 L668.6,517.6 L677.0,517.3 L685.4,518.4 L693.8,518.4 L702.2,517.5 L710.6,517.9 L719.0,517.9 L727.4,518.5 L735.8,517.4 L744.2,517.4 L752.6,518.3 L761.0,518.0 L769.4,517.9 L777.8,518.2 L786.2,518.0 L794.6,518.1 L803.0,517.6 L811.4,517.4 L819.8,517.3 L828.2,517.7 L836.6,518.1 L845.0,517.8 L853.4,517.7 L861.8,518.0 L870.2,518.1 L878.6,518.0 L887.0,517.7 L895.4,518.3 L903.8,518.3 L912.2,518.4 L920.6,518.4 L929.0,517.3 L937.4,518.1 L945.8,517.7 L954.2,517.8 L962.6,517.9 L971.0,517.5 L979.4,517.6 L987.8,518.5 L996.2,517.7 L1004.6,518.4 L1013.0,518.1 L1021.4,517.7 L1029.8,517.7 L1038.2,518.0 L1046.6,518.1 L1055.0,517.7 L1064.0,517.4" fill="none" stroke="#8F3BB8" stroke-width="1.25" stroke-linejoin="round"/><path d="M55.3,494.2 L86.0,494.2 L91.3,500.5 L115.8,500.5 L120.2,495.3 L137.8,496.0 L157.1,496.5 L161.5,493.0 L263.3,493.0 L267.7,496.5 L292.3,496.5 L296.7,494.2 L347.1,494.2 L351.5,497.0 L380.5,497.0 L385.8,495.6 L401.6,496.0 L406.8,494.2 L452.5,494.2 L456.0,493.0 L491.1,493.0 L495.5,500.0 L507.8,500.0 L512.2,494.2 L540.3,494.2 L545.5,493.0 L614.4,493.0 L623.2,494.2 L637.2,494.2 L642.5,493.0 L663.6,493.0 L667.4,474.2 L675.9,474.2 L680.8,502.3 L692.5,502.3 L696.9,470.7 L701.3,470.7 L705.7,500.0 L712.7,500.0 L718.9,504.4 L731.2,504.4 L735.6,493.5 L744.3,493.5 L748.7,497.4 L754.0,495.3 L772.4,495.3 L776.8,464.4 L789.1,464.4 L793.1,498.2 L815.0,497.4 L862.4,497.4 L865.9,494.2 L885.2,494.2 L890.5,474.5 L899.3,474.5 L904.2,516.3 L911.6,523.3 L920.3,523.3 L924.7,498.2 L932.6,498.2 L937.9,522.8 L945.8,522.8 L950.2,489.5 L959.0,491.2 L966.0,491.2 L970.4,500.0 L980.0,500.9 L985.3,503.0 L991.4,503.0 L995.8,515.3 L1004.6,515.3 L1009.9,491.7 L1015.1,493.5 L1023.9,499.5 L1033.6,500.9 L1038.0,496.5 L1050.3,496.5 L1054.6,504.4 L1064.0,504.4" fill="none" stroke="#C8F2C2" stroke-width="1.25" stroke-linejoin="round"/><path d="M55.3,504.0 L69.3,504.0 L73.7,500.9 L85.1,502.3 L116.7,501.2 L139.5,500.0 L158.0,500.5 L164.1,502.3 L172.9,501.2 L246.6,501.2 L275.6,500.9 L280.0,503.5 L315.5,501.7 L327.8,503.5 L334.8,501.7 L355.9,501.7 L361.2,503.5 L389.3,503.5 L392.8,501.7 L424.4,501.7 L427.9,503.5 L491.1,503.5 L496.4,502.3 L533.2,502.3 L538.5,503.5 L550.8,502.3 L567.0,500.5 L617.9,501.2 L623.2,504.0 L642.5,504.0 L647.8,500.9 L665.3,501.2 L672.4,503.5 L693.4,503.5 L696.9,496.5 L718.0,496.5 L728.5,495.3 L751.4,494.7 L756.6,498.2 L770.7,497.4 L788.2,498.2 L815.0,497.4 L832.6,497.4 L836.1,499.1 L862.4,497.4 L885.2,497.4 L895.8,501.2 L913.3,499.1 L927.4,502.3 L937.9,504.4 L944.9,500.0 L955.5,500.0 L964.2,503.0 L969.5,500.0 L990.6,500.5 L1004.6,497.4 L1025.7,498.2 L1038.0,503.0 L1050.3,503.0 L1054.6,502.3 L1064.0,502.3" fill="none" stroke="#FFF899" stroke-width="1.25" stroke-linejoin="round"/><path d="M55.3,477.2 L58.8,475.9 L81.6,475.9 L86.9,471.9 L93.9,471.9 L98.3,470.1 L115.0,470.7 L127.2,471.9 L155.3,472.4 L169.4,473.7 L182.5,474.2 L187.8,486.8 L194.8,486.8 L199.2,480.7 L206.3,480.7 L212.4,478.4 L218.5,478.4 L225.6,479.5 L241.4,479.5 L246.6,475.4 L255.4,475.4 L260.7,474.2 L274.7,474.9 L285.3,476.3 L292.3,475.4 L340.1,475.9 L351.5,477.2 L355.9,484.2 L364.7,484.2 L369.1,470.7 L382.2,470.1 L388.4,469.3 L406.8,470.7 L410.3,472.4 L420.9,471.4 L431.4,471.4 L435.8,475.4 L454.2,475.4 L458.6,476.6 L471.8,476.6 L477.0,474.9 L494.6,475.4 L501.6,474.2 L510.4,476.3 L514.8,476.6 L520.1,481.9 L528.0,481.9 L533.2,474.2 L545.5,474.2 L550.8,473.1 L570.5,474.2 L591.6,474.9 L596.9,478.4 L605.6,478.4 L610.9,479.5 L630.2,479.5 L633.7,477.2 L682.9,477.2 L689.9,481.9 L696.9,484.2 L704.0,484.2 L709.2,469.3 L717.1,469.3 L723.3,475.9 L731.2,474.9 L740.8,475.4 L752.2,481.2 L761.9,481.2 L776.0,478.4 L790.0,478.0 L795.3,475.4 L805.8,474.9 L822.0,475.4 L828.2,473.1 L847.5,473.1 L857.1,478.9 L862.4,486.0 L869.4,486.0 L873.8,482.4 L882.6,481.9 L887.0,480.7 L894.0,480.7 L901.0,495.3 L907.2,495.3 L912.4,462.2 L920.3,462.2 L932.6,463.7 L938.8,480.2 L949.3,480.2 L953.7,471.0 L967.7,470.1 L976.5,470.7 L980.0,473.1 L990.6,473.7 L1004.6,473.7 L1011.6,472.8 L1020.4,472.4 L1028.3,472.4 L1033.6,481.9 L1042.4,481.9 L1046.7,451.7 L1050.3,451.7 L1054.6,448.2 L1064.0,448.2" fill="none" stroke="#C0D8FF" stroke-width="1.25" stroke-linejoin="round"/><text x="51.8" y="406.2" font-size="10.6" text-anchor="end" fill="#ccccdc" font-weight="400" dominant-baseline="central">256 MiB</text><text x="51.8" y="435.4" font-size="10.6" text-anchor="end" fill="#ccccdc" font-weight="400" dominant-baseline="central">192 MiB</text><text x="51.8" y="464.6" font-size="10.6" text-anchor="end" fill="#ccccdc" font-weight="400" dominant-baseline="central">128 MiB</text><text x="51.8" y="493.8" font-size="10.6" text-anchor="end" fill="#ccccdc" font-weight="400" dominant-baseline="central">64 MiB</text><text x="51.8" y="523.0" font-size="10.6" text-anchor="end" fill="#ccccdc" font-weight="400" dominant-baseline="central">0 B</text><text x="94.4" y="535.5" font-size="10.5" text-anchor="middle" fill="#ccccdc" font-weight="400" dominant-baseline="central">15:00</text><text x="178.7" y="535.5" font-size="10.5" text-anchor="middle" fill="#ccccdc" font-weight="400" dominant-baseline="central">15:05</text><text x="263.0" y="535.5" font-size="10.5" text-anchor="middle" fill="#ccccdc" font-weight="400" dominant-baseline="central">15:10</text><text x="347.3" y="535.5" font-size="10.5" text-anchor="middle" fill="#ccccdc" font-weight="400" dominant-baseline="central">15:15</text><text x="431.6" y="535.5" font-size="10.5" text-anchor="middle" fill="#ccccdc" font-weight="400" dominant-baseline="central">15:20</text><text x="515.9" y="535.5" font-size="10.5" text-anchor="middle" fill="#ccccdc" font-weight="400" dominant-baseline="central">15:25</text><text x="600.2" y="535.5" font-size="10.5" text-anchor="middle" fill="#ccccdc" font-weight="400" dominant-baseline="central">15:30</text><text x="684.5" y="535.5" font-size="10.5" text-anchor="middle" fill="#ccccdc" font-weight="400" dominant-baseline="central">15:35</text><text x="768.8" y="535.5" font-size="10.5" text-anchor="middle" fill="#ccccdc" font-weight="400" dominant-baseline="central">15:40</text><text x="853.1" y="535.5" font-size="10.5" text-anchor="middle" fill="#ccccdc" font-weight="400" dominant-baseline="central">15:45</text><text x="937.4" y="535.5" font-size="10.5" text-anchor="middle" fill="#ccccdc" font-weight="400" dominant-baseline="central">15:50</text><text x="1021.7" y="535.5" font-size="10.5" text-anchor="middle" fill="#ccccdc" font-weight="400" dominant-baseline="central">15:55</text></svg><div class="abs" style="left:11.2px;top:554.3px;width:12.2px;height:3.8px;border-radius:2px;background:#73BF69"></div><div style="position:absolute;left:29.90px;top:551.00px;line-height:1;font-size:11px;color:#c8c8d4;white-space:nowrap;transform:scaleX(0.9800);transform-origin:0 0;-webkit-text-stroke:0.12px #c8c8d4">alertmanager</div><div class="abs" style="left:101.8px;top:554.3px;width:12.2px;height:3.8px;border-radius:2px;background:#FADE2A"></div><div style="position:absolute;left:119.48px;top:551.00px;line-height:1;font-size:11px;color:#c8c8d4;white-space:nowrap;transform:scaleX(1.0238);transform-origin:0 0;-webkit-text-stroke:0.12px #c8c8d4">baekjoon-bot</div><div class="abs" style="left:192.7px;top:554.3px;width:12.2px;height:3.8px;border-radius:2px;background:#5794F2"></div><div style="position:absolute;left:211.40px;top:551.00px;line-height:1;font-size:11px;color:#c8c8d4;white-space:nowrap;transform:scaleX(1.0400);transform-origin:0 0;-webkit-text-stroke:0.12px #c8c8d4">fluent-bit-nkeysworld</div><div class="abs" style="left:323.5px;top:554.3px;width:12.2px;height:3.8px;border-radius:2px;background:#FF9830"></div><div style="position:absolute;left:342.20px;top:551.00px;line-height:1;font-size:11px;color:#c8c8d4;white-space:nowrap;transform:scaleX(1.0377);transform-origin:0 0;-webkit-text-stroke:0.12px #c8c8d4">fluent-bit-nkeysworld-obs</div><div class="abs" style="left:476.6px;top:554.3px;width:12.2px;height:3.8px;border-radius:2px;background:#F2495C"></div><div style="position:absolute;left:495.30px;top:551.00px;line-height:1;font-size:11px;color:#c8c8d4;white-space:nowrap;transform:scaleX(1.0000);transform-origin:0 0;-webkit-text-stroke:0.12px #c8c8d4">gitea</div><div class="abs" style="left:527.3px;top:554.3px;width:12.2px;height:3.8px;border-radius:2px;background:#B877D9"></div><div style="position:absolute;left:546.00px;top:551.00px;line-height:1;font-size:11px;color:#c8c8d4;white-space:nowrap;transform:scaleX(1.0136);transform-origin:0 0;-webkit-text-stroke:0.12px #c8c8d4">gitea-runner</div><div class="abs" style="left:614.1px;top:554.3px;width:12.2px;height:3.8px;border-radius:2px;background:#37872D"></div><div style="position:absolute;left:632.80px;top:551.00px;line-height:1;font-size:11px;color:#c8c8d4;white-space:nowrap;transform:scaleX(0.9865);transform-origin:0 0;-webkit-text-stroke:0.12px #c8c8d4">grafana</div><div class="abs" style="left:677.6px;top:554.3px;width:12.2px;height:3.8px;border-radius:2px;background:#E0B400"></div><div style="position:absolute;left:695.18px;top:551.00px;line-height:1;font-size:11px;color:#c8c8d4;white-space:nowrap;transform:scaleX(1.1200);transform-origin:0 0;-webkit-text-stroke:0.12px #c8c8d4">loki</div><div class="abs" style="left:721.4px;top:554.3px;width:12.2px;height:3.8px;border-radius:2px;background:#3274D9"></div><div style="position:absolute;left:739.04px;top:551.00px;line-height:1;font-size:11px;color:#c8c8d4;white-space:nowrap;transform:scaleX(1.0647);transform-origin:0 0;-webkit-text-stroke:0.12px #c8c8d4">n8n</div><div class="abs" style="left:765.9px;top:554.3px;width:12.2px;height:3.8px;border-radius:2px;background:#FA6400"></div><div style="position:absolute;left:783.53px;top:551.00px;line-height:1;font-size:11px;color:#c8c8d4;white-space:nowrap;transform:scaleX(1.0680);transform-origin:0 0;-webkit-text-stroke:0.12px #c8c8d4">nginx</div><div class="abs" style="left:818.7px;top:554.3px;width:12.2px;height:3.8px;border-radius:2px;background:#C4162A"></div><div style="position:absolute;left:836.37px;top:551.00px;line-height:1;font-size:11px;color:#c8c8d4;white-space:nowrap;transform:scaleX(1.0270);transform-origin:0 0;-webkit-text-stroke:0.12px #c8c8d4">node-exporter-nkeysworld</div><div class="abs" style="left:11.2px;top:573.8px;width:12.2px;height:3.8px;border-radius:2px;background:#8F3BB8"></div><div style="position:absolute;left:28.87px;top:570.00px;line-height:1;font-size:11px;color:#c8c8d4;white-space:nowrap;transform:scaleX(1.0306);transform-origin:0 0;-webkit-text-stroke:0.12px #c8c8d4">node-exporter-nkeysworld-obs</div><div class="abs" style="left:189.1px;top:573.8px;width:12.2px;height:3.8px;border-radius:2px;background:#C8F2C2"></div><div style="position:absolute;left:207.80px;top:570.00px;line-height:1;font-size:11px;color:#c8c8d4;white-space:nowrap;transform:scaleX(1.1231);transform-origin:0 0;-webkit-text-stroke:0.12px #c8c8d4">oci</div><div class="abs" style="left:229.8px;top:573.8px;width:12.2px;height:3.8px;border-radius:2px;background:#FFF899"></div><div style="position:absolute;left:247.47px;top:570.00px;line-height:1;font-size:11px;color:#c8c8d4;white-space:nowrap;transform:scaleX(1.0341);transform-origin:0 0;-webkit-text-stroke:0.12px #c8c8d4">postgres</div><div class="abs" style="left:298.7px;top:573.8px;width:12.2px;height:3.8px;border-radius:2px;background:#C0D8FF"></div><div style="position:absolute;left:316.38px;top:570.00px;line-height:1;font-size:11px;color:#c8c8d4;white-space:nowrap;transform:scaleX(1.0175);transform-origin:0 0;-webkit-text-stroke:0.12px #c8c8d4">prometheus</div><svg style="left:0;top:0" width="1630" height="826" viewBox="0 0 1630 826"><line x1="86.4" y1="674" x2="86.4" y2="812" stroke="rgba(204,204,220,0.09)" stroke-width="1"/><line x1="147.8" y1="674" x2="147.8" y2="812" stroke="rgba(204,204,220,0.09)" stroke-width="1"/><line x1="209.1" y1="674" x2="209.1" y2="812" stroke="rgba(204,204,220,0.09)" stroke-width="1"/><line x1="270.5" y1="674" x2="270.5" y2="812" stroke="rgba(204,204,220,0.09)" stroke-width="1"/><line x1="331.9" y1="674" x2="331.9" y2="812" stroke="rgba(204,204,220,0.09)" stroke-width="1"/><line x1="393.2" y1="674" x2="393.2" y2="812" stroke="rgba(204,204,220,0.09)" stroke-width="1"/><line x1="454.6" y1="674" x2="454.6" y2="812" stroke="rgba(204,204,220,0.09)" stroke-width="1"/><line x1="516.0" y1="674" x2="516.0" y2="812" stroke="rgba(204,204,220,0.09)" stroke-width="1"/><line x1="577.4" y1="674" x2="577.4" y2="812" stroke="rgba(204,204,220,0.09)" stroke-width="1"/><line x1="638.7" y1="674" x2="638.7" y2="812" stroke="rgba(204,204,220,0.09)" stroke-width="1"/><line x1="700.1" y1="674" x2="700.1" y2="812" stroke="rgba(204,204,220,0.09)" stroke-width="1"/><line x1="761.5" y1="674" x2="761.5" y2="812" stroke="rgba(204,204,220,0.09)" stroke-width="1"/><line x1="58.3" y1="679.4" x2="794.6" y2="679.4" stroke="rgba(204,204,220,0.09)" stroke-width="1"/><line x1="58.3" y1="705.2" x2="794.6" y2="705.2" stroke="rgba(204,204,220,0.09)" stroke-width="1"/><line x1="58.3" y1="731.1" x2="794.6" y2="731.1" stroke="rgba(204,204,220,0.09)" stroke-width="1"/><line x1="58.3" y1="757.1" x2="794.6" y2="757.1" stroke="rgba(204,204,220,0.09)" stroke-width="1"/><line x1="58.3" y1="783.2" x2="794.6" y2="783.2" stroke="rgba(204,204,220,0.09)" stroke-width="1"/><path d="M58.3,809.3 L58.3,807.0 L501.9,806.6 L506.3,806.1 L510.2,765.6 L516.5,759.1 L519.5,763.0 L522.5,704.2 L528.2,690.2 L531.2,707.7 L537.0,694.9 L540.5,705.1 L546.3,691.1 L549.3,706.8 L556.3,693.7 L562.5,705.1 L565.6,740.2 L568.6,740.2 L571.6,804.1 L578.2,805.3 L596.0,804.9 L599.0,802.6 L620.0,802.8 L623.0,805.1 L662.0,805.1 L665.0,802.1 L683.0,802.3 L685.0,800.2 L716.0,800.2 L719.0,803.5 L740.0,805.6 L792.6,805.5 L792.6,809.3 Z" fill="#FA6400" fill-opacity="0.1"/><path d="M58.3,809.3 L58.3,805.7 L62.3,805.6 L66.3,805.6 L70.3,806.1 L74.3,805.8 L78.3,805.9 L82.3,805.8 L86.3,805.7 L90.3,805.9 L94.3,805.8 L98.3,806.0 L102.3,805.9 L106.3,806.0 L110.3,805.7 L114.3,805.5 L118.3,805.5 L122.3,805.9 L126.3,805.5 L130.3,805.9 L134.3,805.8 L138.3,805.5 L142.3,806.0 L146.3,805.4 L150.3,806.0 L154.3,806.0 L158.3,805.6 L162.3,805.9 L166.3,805.9 L170.3,805.5 L174.3,805.9 L178.3,805.5 L182.3,806.0 L186.3,805.9 L190.3,806.1 L194.3,805.4 L198.3,805.6 L202.3,805.8 L206.3,805.8 L210.3,805.5 L214.3,806.0 L218.3,806.0 L222.3,805.6 L226.3,805.5 L230.3,805.8 L234.3,805.7 L238.3,805.8 L242.3,805.7 L246.3,805.6 L250.3,805.4 L254.3,805.4 L258.3,805.7 L262.3,805.9 L266.3,805.6 L270.3,805.9 L274.3,805.7 L278.3,806.0 L282.3,805.8 L286.3,805.6 L290.3,805.4 L294.3,805.4 L298.3,805.4 L302.3,805.9 L306.3,805.9 L310.3,805.9 L314.3,805.4 L318.3,805.8 L322.3,805.4 L326.3,805.9 L330.3,805.8 L334.3,805.8 L338.3,805.7 L342.3,805.6 L346.3,805.9 L350.3,806.0 L354.3,805.5 L358.3,805.6 L362.3,805.8 L366.3,805.8 L370.3,805.6 L374.3,805.6 L378.3,806.0 L382.3,805.5 L386.3,805.4 L390.3,805.8 L394.3,805.5 L398.3,805.9 L402.3,805.5 L406.3,805.9 L410.3,805.5 L414.3,805.9 L418.3,805.8 L422.3,805.8 L426.3,805.4 L430.3,805.4 L434.3,805.3 L438.3,805.4 L442.3,805.7 L446.3,805.3 L450.3,805.4 L454.3,805.7 L458.3,805.4 L462.3,805.5 L466.3,805.4 L470.3,805.7 L474.3,805.3 L478.3,805.9 L482.3,805.7 L486.3,805.7 L490.3,805.6 L494.3,805.6 L498.3,805.9 L502.3,805.9 L506.3,805.8 L510.3,805.3 L514.3,805.6 L518.3,805.9 L522.3,805.7 L526.3,805.6 L530.3,805.7 L534.3,805.3 L538.3,805.7 L542.3,805.8 L546.3,805.3 L550.3,805.6 L554.3,805.6 L558.3,805.5 L562.3,805.7 L566.3,805.9 L570.3,805.8 L574.3,805.4 L578.3,805.3 L582.3,805.8 L586.3,805.6 L590.3,805.8 L594.3,805.8 L598.3,805.4 L602.3,805.6 L606.3,805.4 L610.3,805.7 L614.3,805.7 L618.3,805.3 L622.3,805.5 L626.3,805.6 L630.3,805.3 L634.3,805.3 L638.3,805.5 L642.3,805.2 L646.3,805.5 L650.3,805.8 L654.3,805.7 L658.3,805.2 L662.3,805.7 L666.3,805.7 L670.3,805.7 L674.3,805.2 L678.3,805.7 L680.0,805.3 L682.3,805.4 L686.3,804.6 L690.3,804.1 L694.3,803.5 L698.3,803.5 L700.0,802.8 L702.3,803.2 L706.3,802.9 L710.3,802.6 L714.3,802.9 L716.0,802.8 L718.3,803.4 L722.0,805.4 L726.3,804.8 L730.3,805.3 L734.3,805.3 L738.3,805.0 L742.3,804.8 L745.0,805.0 L746.3,804.2 L750.3,801.7 L752.0,800.5 L754.3,799.6 L758.3,798.0 L762.3,795.9 L763.0,795.6 L766.3,796.9 L768.0,797.7 L770.3,796.9 L773.5,795.8 L774.3,795.8 L778.3,797.2 L780.0,797.2 L782.3,797.5 L786.0,797.5 L790.0,799.8 L792.6,799.0 L792.6,809.3 Z" fill="#3274D9" fill-opacity="0.1"/><path d="M58.3,809.3 L58.3,806.2 L64.4,806.2 L70.5,806.2 L76.6,805.8 L82.7,806.0 L88.8,806.0 L94.9,806.0 L101.0,805.8 L107.1,805.8 L113.2,806.0 L119.3,805.9 L125.4,806.0 L131.5,805.8 L137.6,805.8 L143.7,806.1 L149.8,806.0 L155.9,806.0 L162.0,806.1 L168.1,805.9 L174.2,805.8 L180.3,806.1 L186.4,806.0 L192.5,806.1 L198.6,806.1 L204.7,806.2 L210.8,805.9 L216.9,806.1 L223.0,805.9 L229.1,806.0 L235.2,806.1 L241.3,805.9 L247.4,805.8 L253.5,806.0 L259.6,806.1 L265.7,806.0 L271.8,806.0 L277.9,806.1 L284.0,805.8 L290.1,805.8 L296.2,805.9 L302.3,806.2 L308.4,805.8 L314.5,805.8 L320.6,805.8 L326.7,805.8 L332.8,805.9 L338.9,806.0 L345.0,806.2 L351.1,805.9 L357.2,805.9 L363.3,805.9 L369.4,805.9 L375.5,806.1 L381.6,806.0 L387.7,805.9 L393.8,805.8 L399.9,806.1 L406.0,806.1 L412.1,806.2 L418.2,805.9 L424.3,806.0 L430.4,806.2 L436.5,806.0 L442.6,806.2 L448.7,805.8 L454.8,806.2 L460.9,805.8 L467.0,806.0 L473.1,805.8 L479.2,806.2 L485.3,806.1 L491.4,806.2 L497.5,806.2 L503.6,806.2 L509.7,806.0 L515.8,806.2 L521.9,806.1 L528.0,805.9 L534.1,806.2 L540.2,805.9 L546.3,805.8 L552.4,805.8 L558.5,806.0 L564.6,805.8 L570.7,806.2 L576.8,806.2 L582.9,805.9 L589.0,805.8 L595.1,806.0 L601.2,805.8 L607.3,806.0 L613.4,806.2 L619.5,805.9 L625.6,806.0 L631.7,806.2 L637.8,806.0 L643.9,805.9 L650.0,806.2 L656.1,806.2 L662.2,806.2 L668.3,806.1 L674.4,806.0 L680.5,806.1 L686.6,806.2 L692.7,806.1 L698.8,805.9 L704.9,805.9 L711.0,806.0 L717.1,806.1 L723.2,806.0 L729.3,806.0 L735.4,806.2 L741.5,805.8 L747.6,806.1 L753.7,805.9 L759.8,806.0 L765.9,806.2 L772.0,805.9 L778.1,806.2 L784.2,805.8 L792.6,806.0 L792.6,809.3 Z" fill="#d0607a" fill-opacity="0.1"/><path d="M58.3,809.3 L58.3,807.5 L64.4,807.3 L70.5,807.3 L76.6,807.5 L82.7,807.3 L88.8,807.3 L94.9,807.4 L101.0,807.4 L107.1,807.5 L113.2,807.3 L119.3,807.5 L125.4,807.3 L131.5,807.4 L137.6,807.5 L143.7,807.5 L149.8,807.5 L155.9,807.5 L162.0,807.3 L168.1,807.5 L174.2,807.4 L180.3,807.3 L186.4,807.3 L192.5,807.5 L198.6,807.4 L204.7,807.5 L210.8,807.5 L216.9,807.5 L223.0,807.4 L229.1,807.5 L235.2,807.4 L241.3,807.3 L247.4,807.5 L253.5,807.3 L259.6,807.5 L265.7,807.5 L271.8,807.4 L277.9,807.3 L284.0,807.5 L290.1,807.5 L296.2,807.3 L302.3,807.3 L308.4,807.4 L314.5,807.3 L320.6,807.5 L326.7,807.4 L332.8,807.4 L338.9,807.4 L345.0,807.4 L351.1,807.5 L357.2,807.3 L363.3,807.4 L369.4,807.4 L375.5,807.3 L381.6,807.4 L387.7,807.4 L393.8,807.4 L399.9,807.5 L406.0,807.4 L412.1,807.3 L418.2,807.5 L424.3,807.4 L430.4,807.4 L436.5,807.4 L442.6,807.5 L448.7,807.5 L454.8,807.4 L460.9,807.4 L467.0,807.3 L473.1,807.5 L479.2,807.3 L485.3,807.4 L491.4,807.4 L497.5,807.3 L503.6,807.4 L509.7,807.3 L515.8,807.3 L521.9,807.4 L528.0,807.5 L534.1,807.4 L540.2,807.3 L546.3,807.5 L552.4,807.3 L558.5,807.4 L564.6,807.5 L570.7,807.5 L576.8,807.4 L582.9,807.5 L589.0,807.4 L595.1,807.4 L601.2,807.4 L607.3,807.5 L613.4,807.5 L619.5,807.4 L625.6,807.5 L631.7,807.4 L637.8,807.4 L643.9,807.5 L650.0,807.5 L656.1,807.4 L662.2,807.5 L668.3,807.3 L674.4,807.4 L680.5,807.4 L686.6,807.4 L692.7,807.3 L698.8,807.5 L704.9,807.4 L711.0,807.3 L717.1,807.3 L723.2,807.5 L729.3,807.4 L735.4,807.3 L741.5,807.3 L747.6,807.3 L753.7,807.5 L759.8,807.3 L765.9,807.3 L772.0,807.3 L778.1,807.4 L784.2,807.3 L792.6,807.4 L792.6,809.3 Z" fill="#e0dcb0" fill-opacity="0.1"/><path d="M58.3,809.3 L58.3,803.8 L63.3,803.8 L68.3,803.6 L73.3,803.9 L78.3,803.6 L83.3,803.8 L88.3,803.5 L93.3,803.8 L98.3,803.6 L103.3,805.0 L108.3,803.8 L113.3,803.8 L118.3,803.7 L123.3,803.8 L128.3,803.9 L133.3,804.7 L138.3,803.7 L143.3,803.9 L148.3,803.8 L153.3,803.7 L158.3,804.8 L163.3,803.9 L168.3,803.5 L173.3,803.8 L178.3,803.8 L183.3,803.6 L188.3,803.6 L193.3,803.6 L198.3,803.7 L203.3,803.6 L208.3,803.9 L213.3,803.9 L218.3,803.6 L223.3,803.9 L228.3,803.5 L233.3,803.5 L238.3,803.8 L243.3,803.8 L248.3,803.8 L253.3,805.1 L258.3,803.8 L263.3,803.6 L268.3,803.8 L273.3,803.9 L278.3,803.5 L283.3,804.9 L288.3,803.6 L293.3,804.8 L298.3,803.7 L303.3,803.8 L308.3,803.9 L313.3,803.6 L318.3,803.7 L323.3,803.9 L328.3,803.8 L333.3,803.7 L338.3,803.6 L343.3,803.8 L348.3,803.6 L353.3,805.0 L358.3,803.8 L363.3,803.7 L368.3,803.8 L373.3,804.9 L378.3,803.7 L383.3,803.8 L388.3,803.6 L393.3,803.6 L398.3,803.7 L403.3,803.7 L408.3,803.8 L413.3,804.8 L418.3,803.6 L423.3,803.5 L428.3,803.7 L433.3,803.6 L438.3,803.7 L443.3,803.8 L448.3,803.5 L453.3,803.9 L458.3,805.0 L463.3,805.0 L468.3,803.7 L473.3,803.7 L478.3,804.9 L483.3,804.9 L488.3,803.6 L493.3,804.8 L498.3,803.6 L503.3,803.6 L508.3,805.1 L513.3,805.0 L518.3,803.8 L523.3,803.5 L528.3,803.6 L533.3,803.7 L538.3,803.8 L543.3,803.7 L548.3,803.8 L553.3,803.9 L558.3,803.6 L563.3,803.7 L568.3,803.8 L573.3,803.6 L578.3,803.8 L583.3,803.7 L588.3,803.5 L593.3,803.7 L598.3,803.5 L603.3,803.8 L608.3,803.8 L613.3,804.9 L618.3,803.9 L623.3,803.6 L628.3,803.7 L633.3,803.6 L638.3,804.7 L643.3,803.8 L648.3,804.7 L653.3,803.9 L658.3,803.7 L663.3,803.8 L668.3,803.5 L673.3,803.9 L678.3,805.0 L683.3,803.5 L688.3,803.6 L693.3,803.6 L698.3,804.9 L703.3,803.5 L708.3,805.0 L713.3,803.7 L718.3,803.8 L723.3,803.6 L728.3,805.0 L733.3,803.7 L738.3,803.8 L743.3,803.7 L748.3,803.9 L753.3,803.8 L758.3,803.8 L763.3,803.6 L768.3,803.6 L773.3,803.6 L778.3,803.6 L783.3,803.9 L792.6,803.6 L792.6,809.3 Z" fill="#8797b2" fill-opacity="0.1"/><path d="M58.3,807.0 L501.9,806.6 L506.3,806.1 L510.2,765.6 L516.5,759.1 L519.5,763.0 L522.5,704.2 L528.2,690.2 L531.2,707.7 L537.0,694.9 L540.5,705.1 L546.3,691.1 L549.3,706.8 L556.3,693.7 L562.5,705.1 L565.6,740.2 L568.6,740.2 L571.6,804.1 L578.2,805.3 L596.0,804.9 L599.0,802.6 L620.0,802.8 L623.0,805.1 L662.0,805.1 L665.0,802.1 L683.0,802.3 L685.0,800.2 L716.0,800.2 L719.0,803.5 L740.0,805.6 L792.6,805.5" fill="none" stroke="#FA6400" stroke-width="1.25" stroke-linejoin="round"/><path d="M58.3,805.7 L62.3,805.6 L66.3,805.6 L70.3,806.1 L74.3,805.8 L78.3,805.9 L82.3,805.8 L86.3,805.7 L90.3,805.9 L94.3,805.8 L98.3,806.0 L102.3,805.9 L106.3,806.0 L110.3,805.7 L114.3,805.5 L118.3,805.5 L122.3,805.9 L126.3,805.5 L130.3,805.9 L134.3,805.8 L138.3,805.5 L142.3,806.0 L146.3,805.4 L150.3,806.0 L154.3,806.0 L158.3,805.6 L162.3,805.9 L166.3,805.9 L170.3,805.5 L174.3,805.9 L178.3,805.5 L182.3,806.0 L186.3,805.9 L190.3,806.1 L194.3,805.4 L198.3,805.6 L202.3,805.8 L206.3,805.8 L210.3,805.5 L214.3,806.0 L218.3,806.0 L222.3,805.6 L226.3,805.5 L230.3,805.8 L234.3,805.7 L238.3,805.8 L242.3,805.7 L246.3,805.6 L250.3,805.4 L254.3,805.4 L258.3,805.7 L262.3,805.9 L266.3,805.6 L270.3,805.9 L274.3,805.7 L278.3,806.0 L282.3,805.8 L286.3,805.6 L290.3,805.4 L294.3,805.4 L298.3,805.4 L302.3,805.9 L306.3,805.9 L310.3,805.9 L314.3,805.4 L318.3,805.8 L322.3,805.4 L326.3,805.9 L330.3,805.8 L334.3,805.8 L338.3,805.7 L342.3,805.6 L346.3,805.9 L350.3,806.0 L354.3,805.5 L358.3,805.6 L362.3,805.8 L366.3,805.8 L370.3,805.6 L374.3,805.6 L378.3,806.0 L382.3,805.5 L386.3,805.4 L390.3,805.8 L394.3,805.5 L398.3,805.9 L402.3,805.5 L406.3,805.9 L410.3,805.5 L414.3,805.9 L418.3,805.8 L422.3,805.8 L426.3,805.4 L430.3,805.4 L434.3,805.3 L438.3,805.4 L442.3,805.7 L446.3,805.3 L450.3,805.4 L454.3,805.7 L458.3,805.4 L462.3,805.5 L466.3,805.4 L470.3,805.7 L474.3,805.3 L478.3,805.9 L482.3,805.7 L486.3,805.7 L490.3,805.6 L494.3,805.6 L498.3,805.9 L502.3,805.9 L506.3,805.8 L510.3,805.3 L514.3,805.6 L518.3,805.9 L522.3,805.7 L526.3,805.6 L530.3,805.7 L534.3,805.3 L538.3,805.7 L542.3,805.8 L546.3,805.3 L550.3,805.6 L554.3,805.6 L558.3,805.5 L562.3,805.7 L566.3,805.9 L570.3,805.8 L574.3,805.4 L578.3,805.3 L582.3,805.8 L586.3,805.6 L590.3,805.8 L594.3,805.8 L598.3,805.4 L602.3,805.6 L606.3,805.4 L610.3,805.7 L614.3,805.7 L618.3,805.3 L622.3,805.5 L626.3,805.6 L630.3,805.3 L634.3,805.3 L638.3,805.5 L642.3,805.2 L646.3,805.5 L650.3,805.8 L654.3,805.7 L658.3,805.2 L662.3,805.7 L666.3,805.7 L670.3,805.7 L674.3,805.2 L678.3,805.7 L680.0,805.3 L682.3,805.4 L686.3,804.6 L690.3,804.1 L694.3,803.5 L698.3,803.5 L700.0,802.8 L702.3,803.2 L706.3,802.9 L710.3,802.6 L714.3,802.9 L716.0,802.8 L718.3,803.4 L722.0,805.4 L726.3,804.8 L730.3,805.3 L734.3,805.3 L738.3,805.0 L742.3,804.8 L745.0,805.0 L746.3,804.2 L750.3,801.7 L752.0,800.5 L754.3,799.6 L758.3,798.0 L762.3,795.9 L763.0,795.6 L766.3,796.9 L768.0,797.7 L770.3,796.9 L773.5,795.8 L774.3,795.8 L778.3,797.2 L780.0,797.2 L782.3,797.5 L786.0,797.5 L790.0,799.8 L792.6,799.0" fill="none" stroke="#3274D9" stroke-width="1.25" stroke-linejoin="round"/><path d="M58.3,806.2 L64.4,806.2 L70.5,806.2 L76.6,805.8 L82.7,806.0 L88.8,806.0 L94.9,806.0 L101.0,805.8 L107.1,805.8 L113.2,806.0 L119.3,805.9 L125.4,806.0 L131.5,805.8 L137.6,805.8 L143.7,806.1 L149.8,806.0 L155.9,806.0 L162.0,806.1 L168.1,805.9 L174.2,805.8 L180.3,806.1 L186.4,806.0 L192.5,806.1 L198.6,806.1 L204.7,806.2 L210.8,805.9 L216.9,806.1 L223.0,805.9 L229.1,806.0 L235.2,806.1 L241.3,805.9 L247.4,805.8 L253.5,806.0 L259.6,806.1 L265.7,806.0 L271.8,806.0 L277.9,806.1 L284.0,805.8 L290.1,805.8 L296.2,805.9 L302.3,806.2 L308.4,805.8 L314.5,805.8 L320.6,805.8 L326.7,805.8 L332.8,805.9 L338.9,806.0 L345.0,806.2 L351.1,805.9 L357.2,805.9 L363.3,805.9 L369.4,805.9 L375.5,806.1 L381.6,806.0 L387.7,805.9 L393.8,805.8 L399.9,806.1 L406.0,806.1 L412.1,806.2 L418.2,805.9 L424.3,806.0 L430.4,806.2 L436.5,806.0 L442.6,806.2 L448.7,805.8 L454.8,806.2 L460.9,805.8 L467.0,806.0 L473.1,805.8 L479.2,806.2 L485.3,806.1 L491.4,806.2 L497.5,806.2 L503.6,806.2 L509.7,806.0 L515.8,806.2 L521.9,806.1 L528.0,805.9 L534.1,806.2 L540.2,805.9 L546.3,805.8 L552.4,805.8 L558.5,806.0 L564.6,805.8 L570.7,806.2 L576.8,806.2 L582.9,805.9 L589.0,805.8 L595.1,806.0 L601.2,805.8 L607.3,806.0 L613.4,806.2 L619.5,805.9 L625.6,806.0 L631.7,806.2 L637.8,806.0 L643.9,805.9 L650.0,806.2 L656.1,806.2 L662.2,806.2 L668.3,806.1 L674.4,806.0 L680.5,806.1 L686.6,806.2 L692.7,806.1 L698.8,805.9 L704.9,805.9 L711.0,806.0 L717.1,806.1 L723.2,806.0 L729.3,806.0 L735.4,806.2 L741.5,805.8 L747.6,806.1 L753.7,805.9 L759.8,806.0 L765.9,806.2 L772.0,805.9 L778.1,806.2 L784.2,805.8 L792.6,806.0" fill="none" stroke="#d0607a" stroke-width="1.25" stroke-linejoin="round"/><path d="M58.3,807.5 L64.4,807.3 L70.5,807.3 L76.6,807.5 L82.7,807.3 L88.8,807.3 L94.9,807.4 L101.0,807.4 L107.1,807.5 L113.2,807.3 L119.3,807.5 L125.4,807.3 L131.5,807.4 L137.6,807.5 L143.7,807.5 L149.8,807.5 L155.9,807.5 L162.0,807.3 L168.1,807.5 L174.2,807.4 L180.3,807.3 L186.4,807.3 L192.5,807.5 L198.6,807.4 L204.7,807.5 L210.8,807.5 L216.9,807.5 L223.0,807.4 L229.1,807.5 L235.2,807.4 L241.3,807.3 L247.4,807.5 L253.5,807.3 L259.6,807.5 L265.7,807.5 L271.8,807.4 L277.9,807.3 L284.0,807.5 L290.1,807.5 L296.2,807.3 L302.3,807.3 L308.4,807.4 L314.5,807.3 L320.6,807.5 L326.7,807.4 L332.8,807.4 L338.9,807.4 L345.0,807.4 L351.1,807.5 L357.2,807.3 L363.3,807.4 L369.4,807.4 L375.5,807.3 L381.6,807.4 L387.7,807.4 L393.8,807.4 L399.9,807.5 L406.0,807.4 L412.1,807.3 L418.2,807.5 L424.3,807.4 L430.4,807.4 L436.5,807.4 L442.6,807.5 L448.7,807.5 L454.8,807.4 L460.9,807.4 L467.0,807.3 L473.1,807.5 L479.2,807.3 L485.3,807.4 L491.4,807.4 L497.5,807.3 L503.6,807.4 L509.7,807.3 L515.8,807.3 L521.9,807.4 L528.0,807.5 L534.1,807.4 L540.2,807.3 L546.3,807.5 L552.4,807.3 L558.5,807.4 L564.6,807.5 L570.7,807.5 L576.8,807.4 L582.9,807.5 L589.0,807.4 L595.1,807.4 L601.2,807.4 L607.3,807.5 L613.4,807.5 L619.5,807.4 L625.6,807.5 L631.7,807.4 L637.8,807.4 L643.9,807.5 L650.0,807.5 L656.1,807.4 L662.2,807.5 L668.3,807.3 L674.4,807.4 L680.5,807.4 L686.6,807.4 L692.7,807.3 L698.8,807.5 L704.9,807.4 L711.0,807.3 L717.1,807.3 L723.2,807.5 L729.3,807.4 L735.4,807.3 L741.5,807.3 L747.6,807.3 L753.7,807.5 L759.8,807.3 L765.9,807.3 L772.0,807.3 L778.1,807.4 L784.2,807.3 L792.6,807.4" fill="none" stroke="#e0dcb0" stroke-width="1.25" stroke-linejoin="round"/><path d="M58.3,803.8 L63.3,803.8 L68.3,803.6 L73.3,803.9 L78.3,803.6 L83.3,803.8 L88.3,803.5 L93.3,803.8 L98.3,803.6 L103.3,805.0 L108.3,803.8 L113.3,803.8 L118.3,803.7 L123.3,803.8 L128.3,803.9 L133.3,804.7 L138.3,803.7 L143.3,803.9 L148.3,803.8 L153.3,803.7 L158.3,804.8 L163.3,803.9 L168.3,803.5 L173.3,803.8 L178.3,803.8 L183.3,803.6 L188.3,803.6 L193.3,803.6 L198.3,803.7 L203.3,803.6 L208.3,803.9 L213.3,803.9 L218.3,803.6 L223.3,803.9 L228.3,803.5 L233.3,803.5 L238.3,803.8 L243.3,803.8 L248.3,803.8 L253.3,805.1 L258.3,803.8 L263.3,803.6 L268.3,803.8 L273.3,803.9 L278.3,803.5 L283.3,804.9 L288.3,803.6 L293.3,804.8 L298.3,803.7 L303.3,803.8 L308.3,803.9 L313.3,803.6 L318.3,803.7 L323.3,803.9 L328.3,803.8 L333.3,803.7 L338.3,803.6 L343.3,803.8 L348.3,803.6 L353.3,805.0 L358.3,803.8 L363.3,803.7 L368.3,803.8 L373.3,804.9 L378.3,803.7 L383.3,803.8 L388.3,803.6 L393.3,803.6 L398.3,803.7 L403.3,803.7 L408.3,803.8 L413.3,804.8 L418.3,803.6 L423.3,803.5 L428.3,803.7 L433.3,803.6 L438.3,803.7 L443.3,803.8 L448.3,803.5 L453.3,803.9 L458.3,805.0 L463.3,805.0 L468.3,803.7 L473.3,803.7 L478.3,804.9 L483.3,804.9 L488.3,803.6 L493.3,804.8 L498.3,803.6 L503.3,803.6 L508.3,805.1 L513.3,805.0 L518.3,803.8 L523.3,803.5 L528.3,803.6 L533.3,803.7 L538.3,803.8 L543.3,803.7 L548.3,803.8 L553.3,803.9 L558.3,803.6 L563.3,803.7 L568.3,803.8 L573.3,803.6 L578.3,803.8 L583.3,803.7 L588.3,803.5 L593.3,803.7 L598.3,803.5 L603.3,803.8 L608.3,803.8 L613.3,804.9 L618.3,803.9 L623.3,803.6 L628.3,803.7 L633.3,803.6 L638.3,804.7 L643.3,803.8 L648.3,804.7 L653.3,803.9 L658.3,803.7 L663.3,803.8 L668.3,803.5 L673.3,803.9 L678.3,805.0 L683.3,803.5 L688.3,803.6 L693.3,803.6 L698.3,804.9 L703.3,803.5 L708.3,805.0 L713.3,803.7 L718.3,803.8 L723.3,803.6 L728.3,805.0 L733.3,803.7 L738.3,803.8 L743.3,803.7 L748.3,803.9 L753.3,803.8 L758.3,803.8 L763.3,803.6 L768.3,803.6 L773.3,803.6 L778.3,803.6 L783.3,803.9 L792.6,803.6" fill="none" stroke="#8797b2" stroke-width="1.25" stroke-linejoin="round"/><text x="53.8" y="678.5" font-size="10.8" text-anchor="end" fill="#ccccdc" font-weight="400" dominant-baseline="central">250 kB/s</text><text x="53.8" y="704.3" font-size="10.8" text-anchor="end" fill="#ccccdc" font-weight="400" dominant-baseline="central">200 kB/s</text><text x="53.8" y="730.2" font-size="10.8" text-anchor="end" fill="#ccccdc" font-weight="400" dominant-baseline="central">150 kB/s</text><text x="53.8" y="756.2" font-size="10.8" text-anchor="end" fill="#ccccdc" font-weight="400" dominant-baseline="central">100 kB/s</text><text x="53.8" y="782.1" font-size="10.8" text-anchor="end" fill="#ccccdc" font-weight="400" dominant-baseline="central">50 kB/s</text><text x="53.8" y="808.3" font-size="10.8" text-anchor="end" fill="#ccccdc" font-weight="400" dominant-baseline="central">0 B/s</text><text x="86.4" y="820.2" font-size="10.5" text-anchor="middle" fill="#ccccdc" font-weight="400" dominant-baseline="central">15:00</text><text x="147.8" y="820.2" font-size="10.5" text-anchor="middle" fill="#ccccdc" font-weight="400" dominant-baseline="central">15:05</text><text x="209.1" y="820.2" font-size="10.5" text-anchor="middle" fill="#ccccdc" font-weight="400" dominant-baseline="central">15:10</text><text x="270.5" y="820.2" font-size="10.5" text-anchor="middle" fill="#ccccdc" font-weight="400" dominant-baseline="central">15:15</text><text x="331.9" y="820.2" font-size="10.5" text-anchor="middle" fill="#ccccdc" font-weight="400" dominant-baseline="central">15:20</text><text x="393.2" y="820.2" font-size="10.5" text-anchor="middle" fill="#ccccdc" font-weight="400" dominant-baseline="central">15:25</text><text x="454.6" y="820.2" font-size="10.5" text-anchor="middle" fill="#ccccdc" font-weight="400" dominant-baseline="central">15:30</text><text x="516.0" y="820.2" font-size="10.5" text-anchor="middle" fill="#ccccdc" font-weight="400" dominant-baseline="central">15:35</text><text x="577.4" y="820.2" font-size="10.5" text-anchor="middle" fill="#ccccdc" font-weight="400" dominant-baseline="central">15:40</text><text x="638.7" y="820.2" font-size="10.5" text-anchor="middle" fill="#ccccdc" font-weight="400" dominant-baseline="central">15:45</text><text x="700.1" y="820.2" font-size="10.5" text-anchor="middle" fill="#ccccdc" font-weight="400" dominant-baseline="central">15:50</text><text x="761.5" y="820.2" font-size="10.5" text-anchor="middle" fill="#ccccdc" font-weight="400" dominant-baseline="central">15:55</text></svg><svg style="left:0;top:0" width="1630" height="826" viewBox="0 0 1630 826"><line x1="902.4" y1="674" x2="902.4" y2="812" stroke="rgba(204,204,220,0.09)" stroke-width="1"/><line x1="963.8" y1="674" x2="963.8" y2="812" stroke="rgba(204,204,220,0.09)" stroke-width="1"/><line x1="1025.1" y1="674" x2="1025.1" y2="812" stroke="rgba(204,204,220,0.09)" stroke-width="1"/><line x1="1086.5" y1="674" x2="1086.5" y2="812" stroke="rgba(204,204,220,0.09)" stroke-width="1"/><line x1="1147.9" y1="674" x2="1147.9" y2="812" stroke="rgba(204,204,220,0.09)" stroke-width="1"/><line x1="1209.2" y1="674" x2="1209.2" y2="812" stroke="rgba(204,204,220,0.09)" stroke-width="1"/><line x1="1270.6" y1="674" x2="1270.6" y2="812" stroke="rgba(204,204,220,0.09)" stroke-width="1"/><line x1="1332.0" y1="674" x2="1332.0" y2="812" stroke="rgba(204,204,220,0.09)" stroke-width="1"/><line x1="1393.4" y1="674" x2="1393.4" y2="812" stroke="rgba(204,204,220,0.09)" stroke-width="1"/><line x1="1454.7" y1="674" x2="1454.7" y2="812" stroke="rgba(204,204,220,0.09)" stroke-width="1"/><line x1="1516.1" y1="674" x2="1516.1" y2="812" stroke="rgba(204,204,220,0.09)" stroke-width="1"/><line x1="1577.5" y1="674" x2="1577.5" y2="812" stroke="rgba(204,204,220,0.09)" stroke-width="1"/><line x1="873.9" y1="715.0" x2="1610.7" y2="715.0" stroke="rgba(204,204,220,0.09)" stroke-width="1"/><line x1="873.9" y1="761.9" x2="1610.7" y2="761.9" stroke="rgba(204,204,220,0.09)" stroke-width="1"/><path d="M873.9,809.3 L873.9,807.6 L1300.0,807.2 L1312.3,806.0 L1321.9,806.0 L1326.0,770.0 L1329.8,762.1 L1332.5,762.1 L1336.0,767.4 L1338.6,697.7 L1341.2,697.7 L1345.3,710.0 L1347.4,710.0 L1350.5,690.2 L1354.4,712.1 L1356.1,712.1 L1359.6,690.2 L1362.3,690.2 L1365.8,712.1 L1370.2,700.2 L1372.3,700.2 L1375.4,741.1 L1378.1,741.1 L1381.6,749.8 L1384.2,749.8 L1387.7,805.1 L1392.0,804.0 L1438.0,803.8 L1441.5,806.5 L1480.0,806.8 L1484.0,804.0 L1536.0,804.2 L1540.0,806.5 L1608.7,806.8 L1608.7,809.3 Z" fill="#c94a5f" fill-opacity="0.1"/><path d="M873.9,809.3 L873.9,807.8 L1490.0,807.5 L1495.0,805.8 L1536.0,805.8 L1540.0,807.6 L1608.7,807.6 L1608.7,809.3 Z" fill="#6f66b8" fill-opacity="0.1"/><path d="M873.9,809.3 L873.9,807.2 L876.9,807.4 L879.9,807.2 L882.9,807.6 L885.9,807.2 L888.9,807.4 L891.9,807.7 L894.9,807.3 L897.9,807.7 L900.9,807.5 L903.9,807.4 L906.9,807.4 L909.9,807.4 L912.9,807.2 L915.9,807.7 L918.9,807.2 L921.9,807.6 L924.9,807.5 L927.9,807.0 L930.9,807.1 L933.9,807.3 L936.9,807.5 L939.9,807.0 L942.9,807.3 L945.9,807.2 L948.9,807.4 L951.9,807.5 L954.9,807.4 L957.9,807.0 L960.9,807.4 L963.9,807.2 L966.9,807.4 L969.9,807.2 L972.9,807.5 L975.9,807.5 L978.9,807.4 L981.9,807.4 L984.9,807.4 L987.9,807.2 L990.9,806.9 L993.9,807.5 L996.9,807.1 L999.9,806.8 L1002.9,807.1 L1005.9,807.1 L1008.9,806.9 L1011.9,807.4 L1014.9,806.8 L1017.9,807.4 L1020.9,807.1 L1023.9,806.9 L1026.9,807.0 L1029.9,807.1 L1032.9,806.8 L1035.9,807.3 L1038.9,807.2 L1041.9,807.4 L1044.9,807.3 L1047.9,807.3 L1050.9,807.4 L1053.9,807.3 L1056.9,807.1 L1059.9,807.1 L1062.9,807.0 L1065.9,807.2 L1068.9,807.3 L1071.9,807.2 L1074.9,807.2 L1077.9,806.7 L1080.9,806.9 L1083.9,806.7 L1086.9,807.0 L1089.9,807.0 L1092.9,807.0 L1095.9,807.2 L1098.9,806.8 L1101.9,807.1 L1104.9,807.0 L1107.9,806.7 L1110.9,807.3 L1113.9,806.6 L1116.9,806.9 L1119.9,806.9 L1122.9,807.0 L1125.9,807.2 L1128.9,806.9 L1131.9,807.2 L1134.9,806.7 L1137.9,806.9 L1140.9,806.6 L1143.9,807.0 L1146.9,806.8 L1149.9,807.0 L1152.9,806.6 L1155.9,806.8 L1158.9,807.1 L1161.9,806.5 L1164.9,806.9 L1167.9,806.9 L1170.9,807.0 L1173.9,806.8 L1176.9,806.8 L1179.9,807.1 L1182.9,806.6 L1185.9,806.9 L1188.9,806.9 L1191.9,806.9 L1194.9,806.7 L1197.9,806.4 L1200.9,806.9 L1203.9,806.6 L1206.9,806.9 L1209.9,807.1 L1212.9,806.9 L1215.9,806.6 L1218.9,807.0 L1221.9,806.6 L1224.9,806.6 L1227.9,806.7 L1230.9,806.8 L1233.9,806.8 L1236.9,806.7 L1239.9,806.6 L1242.9,806.8 L1245.9,806.5 L1248.9,806.7 L1251.9,806.3 L1254.9,806.4 L1257.9,806.9 L1260.9,806.4 L1263.9,806.6 L1266.9,806.3 L1269.9,806.8 L1272.9,806.5 L1275.9,806.3 L1278.9,806.4 L1281.9,806.9 L1284.9,806.8 L1287.9,806.2 L1290.9,806.9 L1293.9,806.3 L1296.9,806.5 L1299.9,806.6 L1302.9,806.7 L1305.9,806.3 L1308.9,806.8 L1311.9,806.4 L1314.9,806.7 L1317.9,806.8 L1320.9,806.6 L1321.9,806.5 L1326.0,771.8 L1328.9,771.8 L1332.5,763.0 L1336.0,768.2 L1338.9,745.4 L1343.9,730.5 L1347.7,745.4 L1352.6,734.9 L1356.5,745.4 L1362.3,730.5 L1365.8,745.4 L1369.3,745.1 L1372.3,735.8 L1378.1,749.8 L1381.6,778.8 L1384.2,778.8 L1387.4,806.5 L1389.9,804.7 L1391.2,804.6 L1392.9,804.1 L1395.9,804.5 L1398.9,804.0 L1401.9,804.0 L1404.9,804.0 L1407.9,804.4 L1410.9,803.9 L1413.9,804.1 L1416.9,804.4 L1419.9,804.1 L1422.9,803.8 L1425.9,803.7 L1428.9,804.3 L1431.9,803.9 L1434.9,803.7 L1437.9,804.0 L1439.0,804.2 L1440.9,805.4 L1442.0,806.2 L1443.9,806.3 L1446.9,806.5 L1449.9,806.7 L1452.9,806.2 L1455.9,806.7 L1458.9,806.6 L1461.9,806.5 L1464.9,806.4 L1467.9,806.2 L1470.9,806.5 L1473.9,806.4 L1476.9,806.6 L1479.0,806.2 L1479.9,805.2 L1482.0,802.5 L1482.9,802.7 L1485.9,802.3 L1488.9,802.4 L1491.9,802.1 L1494.9,801.9 L1497.9,802.0 L1500.9,801.4 L1503.9,800.8 L1505.0,801.1 L1506.9,801.2 L1509.9,800.9 L1512.9,801.2 L1515.9,801.1 L1518.9,800.9 L1520.0,800.5 L1521.9,800.8 L1524.9,801.0 L1527.9,800.9 L1530.0,801.2 L1530.9,801.7 L1533.9,802.9 L1536.0,803.7 L1536.9,803.9 L1539.9,804.2 L1542.9,805.1 L1545.0,805.5 L1545.9,805.7 L1548.9,805.3 L1551.9,805.5 L1554.9,805.9 L1557.9,806.0 L1560.9,805.8 L1562.0,806.2 L1563.9,806.2 L1566.9,806.1 L1569.9,806.0 L1572.9,805.7 L1575.9,805.8 L1578.9,806.2 L1580.0,806.3 L1581.9,805.7 L1584.9,805.4 L1587.9,805.5 L1590.9,805.8 L1593.9,805.1 L1596.9,805.5 L1599.9,805.2 L1602.9,804.9 L1605.9,804.3 L1608.7,803.6 L1608.7,809.3 Z" fill="#FA6400" fill-opacity="0.1"/><path d="M873.9,809.3 L873.9,807.8 L876.9,807.8 L879.9,808.0 L882.9,807.7 L885.9,807.7 L888.9,807.9 L891.9,807.8 L894.9,807.7 L897.9,807.7 L900.9,807.7 L903.9,807.6 L906.9,807.9 L909.9,808.0 L912.9,807.9 L915.9,807.9 L918.9,807.7 L921.9,807.7 L924.9,807.6 L927.9,807.9 L930.9,807.6 L933.9,807.6 L936.9,808.1 L939.9,807.7 L942.9,808.1 L945.9,807.8 L948.9,807.9 L951.9,807.8 L954.9,807.6 L957.9,807.9 L960.9,807.6 L963.9,807.7 L966.9,807.5 L969.9,807.5 L972.9,807.7 L975.9,807.5 L978.9,807.7 L981.9,808.0 L984.9,808.0 L987.9,807.7 L990.9,807.5 L993.9,807.6 L996.9,807.5 L999.9,807.6 L1002.9,807.8 L1005.9,807.8 L1008.9,807.5 L1011.9,807.7 L1014.9,807.7 L1017.9,807.7 L1020.9,807.5 L1023.9,807.7 L1026.9,807.5 L1029.9,807.8 L1032.9,807.8 L1035.9,807.8 L1038.9,807.7 L1041.9,808.0 L1044.9,807.6 L1047.9,807.5 L1050.9,807.6 L1053.9,808.0 L1056.9,807.5 L1059.9,807.9 L1062.9,808.0 L1065.9,807.9 L1068.9,807.7 L1071.9,807.7 L1074.9,807.9 L1077.9,807.8 L1080.9,807.9 L1083.9,807.5 L1086.9,807.8 L1089.9,807.8 L1092.9,807.5 L1095.9,807.5 L1098.9,807.9 L1101.9,807.7 L1104.9,807.6 L1107.9,807.7 L1110.9,807.5 L1113.9,807.5 L1116.9,807.4 L1119.9,807.6 L1122.9,807.5 L1125.9,807.9 L1128.9,807.9 L1131.9,807.7 L1134.9,807.4 L1137.9,807.7 L1140.9,807.5 L1143.9,807.6 L1146.9,807.4 L1149.9,807.7 L1152.9,807.4 L1155.9,807.5 L1158.9,807.5 L1161.9,807.6 L1164.9,807.9 L1167.9,807.7 L1170.9,807.8 L1173.9,807.8 L1176.9,807.7 L1179.9,807.4 L1182.9,807.4 L1185.9,807.4 L1188.9,807.7 L1191.9,807.5 L1194.9,807.9 L1197.9,807.5 L1200.9,807.4 L1203.9,807.7 L1206.9,807.7 L1209.9,807.4 L1212.9,807.5 L1215.9,807.6 L1218.9,807.8 L1221.9,807.8 L1224.9,807.9 L1227.9,807.6 L1230.9,807.9 L1233.9,807.6 L1236.9,807.5 L1239.9,807.4 L1242.9,807.8 L1245.9,807.7 L1248.9,807.7 L1251.9,807.9 L1254.9,807.7 L1257.9,807.5 L1260.9,807.7 L1263.9,807.9 L1266.9,807.4 L1269.9,807.9 L1272.9,807.6 L1275.9,807.4 L1278.9,807.6 L1281.9,807.8 L1284.9,807.6 L1287.9,807.5 L1290.9,807.8 L1293.9,807.4 L1296.9,807.7 L1299.9,807.5 L1302.9,807.7 L1305.9,807.6 L1308.9,807.5 L1311.9,807.4 L1314.9,807.8 L1317.9,807.6 L1320.9,807.4 L1323.9,807.6 L1326.9,807.7 L1329.9,807.3 L1332.9,807.5 L1335.9,807.4 L1338.9,807.7 L1341.9,807.3 L1344.9,807.8 L1347.9,807.6 L1350.9,807.6 L1353.9,807.6 L1356.9,807.4 L1359.9,807.5 L1362.9,807.4 L1365.9,807.5 L1368.9,807.6 L1371.9,807.6 L1374.9,807.4 L1377.9,807.6 L1380.9,807.7 L1383.9,807.7 L1386.9,807.2 L1389.9,807.5 L1392.9,807.3 L1395.9,807.7 L1398.9,807.6 L1401.9,807.5 L1404.9,807.6 L1407.9,807.5 L1410.9,807.4 L1413.9,807.8 L1416.9,807.3 L1419.9,807.3 L1422.9,807.4 L1425.9,807.3 L1428.9,807.4 L1431.9,807.6 L1434.9,807.5 L1437.9,807.8 L1440.9,807.4 L1443.9,807.8 L1446.9,807.8 L1449.9,807.5 L1452.9,807.7 L1455.9,807.3 L1458.9,807.8 L1461.9,807.5 L1464.9,807.4 L1467.9,807.8 L1470.9,807.4 L1473.9,807.3 L1476.9,807.2 L1479.9,807.7 L1482.9,805.8 L1484.0,804.8 L1485.9,804.8 L1488.9,804.4 L1491.9,803.5 L1494.9,803.2 L1497.9,802.8 L1500.9,802.9 L1503.9,803.1 L1506.9,803.0 L1509.9,802.7 L1512.9,802.7 L1515.9,802.3 L1518.9,802.7 L1520.0,802.8 L1521.9,802.7 L1524.9,802.6 L1527.9,802.8 L1530.9,803.3 L1533.9,803.5 L1536.0,803.6 L1536.9,803.9 L1539.9,804.0 L1542.9,804.6 L1545.9,805.3 L1548.0,805.9 L1548.9,805.7 L1551.9,805.9 L1554.9,805.9 L1557.9,806.3 L1560.9,806.2 L1562.0,806.0 L1563.9,804.7 L1566.0,802.8 L1566.9,803.2 L1569.9,802.3 L1572.9,802.1 L1575.0,802.0 L1575.9,801.7 L1578.9,799.7 L1581.9,797.5 L1584.9,798.5 L1587.9,799.3 L1590.0,799.6 L1590.9,799.5 L1593.9,800.5 L1596.9,801.1 L1598.0,801.4 L1599.9,800.8 L1602.9,800.7 L1605.9,800.5 L1608.7,800.7 L1608.7,809.3 Z" fill="#cfc784" fill-opacity="0.1"/><path d="M873.9,809.3 L873.9,807.8 L1560.0,807.6 L1570.0,806.8 L1608.7,806.6 L1608.7,809.3 Z" fill="#8fa0c0" fill-opacity="0.1"/><path d="M873.9,809.3 L873.9,808.1 L880.0,808.1 L886.1,808.2 L892.2,808.2 L898.3,808.1 L904.4,808.1 L910.5,808.1 L916.6,808.3 L922.7,808.1 L928.8,808.3 L934.9,808.2 L941.0,808.1 L947.1,808.2 L953.2,808.2 L959.3,808.2 L965.4,808.3 L971.5,808.1 L977.6,808.1 L983.7,808.3 L989.8,808.2 L995.9,808.1 L1002.0,808.2 L1008.1,808.2 L1014.2,808.3 L1020.3,808.1 L1026.4,808.1 L1032.5,808.2 L1038.6,808.2 L1044.7,808.3 L1050.8,808.3 L1056.9,808.2 L1063.0,808.1 L1069.1,808.3 L1075.2,808.3 L1081.3,808.1 L1087.4,808.3 L1093.5,808.3 L1099.6,808.2 L1105.7,808.1 L1111.8,808.3 L1117.9,808.3 L1124.0,808.1 L1130.1,808.2 L1136.2,808.1 L1142.3,808.1 L1148.4,808.2 L1154.5,808.2 L1160.6,808.2 L1166.7,808.2 L1172.8,808.3 L1178.9,808.3 L1185.0,808.3 L1191.1,808.3 L1197.2,808.3 L1203.3,808.2 L1209.4,808.1 L1215.5,808.2 L1221.6,808.2 L1227.7,808.2 L1233.8,808.1 L1239.9,808.1 L1246.0,808.3 L1252.1,808.2 L1258.2,808.2 L1264.3,808.1 L1270.4,808.2 L1276.5,808.3 L1282.6,808.2 L1288.7,808.3 L1294.8,808.1 L1300.9,808.2 L1307.0,808.3 L1313.1,808.2 L1319.2,808.3 L1325.3,808.2 L1331.4,808.1 L1337.5,808.1 L1343.6,808.3 L1349.7,808.1 L1355.8,808.1 L1361.9,808.2 L1368.0,808.3 L1374.1,808.3 L1380.2,808.2 L1386.3,808.2 L1392.4,808.3 L1398.5,808.1 L1404.6,808.2 L1410.7,808.2 L1416.8,808.2 L1422.9,808.1 L1429.0,808.1 L1435.1,808.1 L1441.2,808.3 L1447.3,808.2 L1453.4,808.3 L1459.5,808.3 L1465.6,808.1 L1471.7,808.3 L1477.8,808.3 L1483.9,808.2 L1490.0,808.1 L1496.1,808.2 L1502.2,808.1 L1508.3,808.1 L1514.4,808.1 L1520.5,808.1 L1526.6,808.3 L1532.7,808.1 L1538.8,808.2 L1544.9,808.1 L1551.0,808.1 L1557.1,808.3 L1563.2,808.2 L1569.3,808.1 L1575.4,808.2 L1581.5,808.2 L1587.6,808.2 L1593.7,808.3 L1599.8,808.2 L1608.7,808.2 L1608.7,809.3 Z" fill="#e6dfc6" fill-opacity="0.1"/><path d="M873.9,807.6 L1300.0,807.2 L1312.3,806.0 L1321.9,806.0 L1326.0,770.0 L1329.8,762.1 L1332.5,762.1 L1336.0,767.4 L1338.6,697.7 L1341.2,697.7 L1345.3,710.0 L1347.4,710.0 L1350.5,690.2 L1354.4,712.1 L1356.1,712.1 L1359.6,690.2 L1362.3,690.2 L1365.8,712.1 L1370.2,700.2 L1372.3,700.2 L1375.4,741.1 L1378.1,741.1 L1381.6,749.8 L1384.2,749.8 L1387.7,805.1 L1392.0,804.0 L1438.0,803.8 L1441.5,806.5 L1480.0,806.8 L1484.0,804.0 L1536.0,804.2 L1540.0,806.5 L1608.7,806.8" fill="none" stroke="#c94a5f" stroke-width="1.25" stroke-linejoin="round"/><path d="M873.9,807.8 L1490.0,807.5 L1495.0,805.8 L1536.0,805.8 L1540.0,807.6 L1608.7,807.6" fill="none" stroke="#6f66b8" stroke-width="1.25" stroke-linejoin="round"/><path d="M873.9,807.2 L876.9,807.4 L879.9,807.2 L882.9,807.6 L885.9,807.2 L888.9,807.4 L891.9,807.7 L894.9,807.3 L897.9,807.7 L900.9,807.5 L903.9,807.4 L906.9,807.4 L909.9,807.4 L912.9,807.2 L915.9,807.7 L918.9,807.2 L921.9,807.6 L924.9,807.5 L927.9,807.0 L930.9,807.1 L933.9,807.3 L936.9,807.5 L939.9,807.0 L942.9,807.3 L945.9,807.2 L948.9,807.4 L951.9,807.5 L954.9,807.4 L957.9,807.0 L960.9,807.4 L963.9,807.2 L966.9,807.4 L969.9,807.2 L972.9,807.5 L975.9,807.5 L978.9,807.4 L981.9,807.4 L984.9,807.4 L987.9,807.2 L990.9,806.9 L993.9,807.5 L996.9,807.1 L999.9,806.8 L1002.9,807.1 L1005.9,807.1 L1008.9,806.9 L1011.9,807.4 L1014.9,806.8 L1017.9,807.4 L1020.9,807.1 L1023.9,806.9 L1026.9,807.0 L1029.9,807.1 L1032.9,806.8 L1035.9,807.3 L1038.9,807.2 L1041.9,807.4 L1044.9,807.3 L1047.9,807.3 L1050.9,807.4 L1053.9,807.3 L1056.9,807.1 L1059.9,807.1 L1062.9,807.0 L1065.9,807.2 L1068.9,807.3 L1071.9,807.2 L1074.9,807.2 L1077.9,806.7 L1080.9,806.9 L1083.9,806.7 L1086.9,807.0 L1089.9,807.0 L1092.9,807.0 L1095.9,807.2 L1098.9,806.8 L1101.9,807.1 L1104.9,807.0 L1107.9,806.7 L1110.9,807.3 L1113.9,806.6 L1116.9,806.9 L1119.9,806.9 L1122.9,807.0 L1125.9,807.2 L1128.9,806.9 L1131.9,807.2 L1134.9,806.7 L1137.9,806.9 L1140.9,806.6 L1143.9,807.0 L1146.9,806.8 L1149.9,807.0 L1152.9,806.6 L1155.9,806.8 L1158.9,807.1 L1161.9,806.5 L1164.9,806.9 L1167.9,806.9 L1170.9,807.0 L1173.9,806.8 L1176.9,806.8 L1179.9,807.1 L1182.9,806.6 L1185.9,806.9 L1188.9,806.9 L1191.9,806.9 L1194.9,806.7 L1197.9,806.4 L1200.9,806.9 L1203.9,806.6 L1206.9,806.9 L1209.9,807.1 L1212.9,806.9 L1215.9,806.6 L1218.9,807.0 L1221.9,806.6 L1224.9,806.6 L1227.9,806.7 L1230.9,806.8 L1233.9,806.8 L1236.9,806.7 L1239.9,806.6 L1242.9,806.8 L1245.9,806.5 L1248.9,806.7 L1251.9,806.3 L1254.9,806.4 L1257.9,806.9 L1260.9,806.4 L1263.9,806.6 L1266.9,806.3 L1269.9,806.8 L1272.9,806.5 L1275.9,806.3 L1278.9,806.4 L1281.9,806.9 L1284.9,806.8 L1287.9,806.2 L1290.9,806.9 L1293.9,806.3 L1296.9,806.5 L1299.9,806.6 L1302.9,806.7 L1305.9,806.3 L1308.9,806.8 L1311.9,806.4 L1314.9,806.7 L1317.9,806.8 L1320.9,806.6 L1321.9,806.5 L1326.0,771.8 L1328.9,771.8 L1332.5,763.0 L1336.0,768.2 L1338.9,745.4 L1343.9,730.5 L1347.7,745.4 L1352.6,734.9 L1356.5,745.4 L1362.3,730.5 L1365.8,745.4 L1369.3,745.1 L1372.3,735.8 L1378.1,749.8 L1381.6,778.8 L1384.2,778.8 L1387.4,806.5 L1389.9,804.7 L1391.2,804.6 L1392.9,804.1 L1395.9,804.5 L1398.9,804.0 L1401.9,804.0 L1404.9,804.0 L1407.9,804.4 L1410.9,803.9 L1413.9,804.1 L1416.9,804.4 L1419.9,804.1 L1422.9,803.8 L1425.9,803.7 L1428.9,804.3 L1431.9,803.9 L1434.9,803.7 L1437.9,804.0 L1439.0,804.2 L1440.9,805.4 L1442.0,806.2 L1443.9,806.3 L1446.9,806.5 L1449.9,806.7 L1452.9,806.2 L1455.9,806.7 L1458.9,806.6 L1461.9,806.5 L1464.9,806.4 L1467.9,806.2 L1470.9,806.5 L1473.9,806.4 L1476.9,806.6 L1479.0,806.2 L1479.9,805.2 L1482.0,802.5 L1482.9,802.7 L1485.9,802.3 L1488.9,802.4 L1491.9,802.1 L1494.9,801.9 L1497.9,802.0 L1500.9,801.4 L1503.9,800.8 L1505.0,801.1 L1506.9,801.2 L1509.9,800.9 L1512.9,801.2 L1515.9,801.1 L1518.9,800.9 L1520.0,800.5 L1521.9,800.8 L1524.9,801.0 L1527.9,800.9 L1530.0,801.2 L1530.9,801.7 L1533.9,802.9 L1536.0,803.7 L1536.9,803.9 L1539.9,804.2 L1542.9,805.1 L1545.0,805.5 L1545.9,805.7 L1548.9,805.3 L1551.9,805.5 L1554.9,805.9 L1557.9,806.0 L1560.9,805.8 L1562.0,806.2 L1563.9,806.2 L1566.9,806.1 L1569.9,806.0 L1572.9,805.7 L1575.9,805.8 L1578.9,806.2 L1580.0,806.3 L1581.9,805.7 L1584.9,805.4 L1587.9,805.5 L1590.9,805.8 L1593.9,805.1 L1596.9,805.5 L1599.9,805.2 L1602.9,804.9 L1605.9,804.3 L1608.7,803.6" fill="none" stroke="#FA6400" stroke-width="1.25" stroke-linejoin="round"/><path d="M873.9,807.8 L876.9,807.8 L879.9,808.0 L882.9,807.7 L885.9,807.7 L888.9,807.9 L891.9,807.8 L894.9,807.7 L897.9,807.7 L900.9,807.7 L903.9,807.6 L906.9,807.9 L909.9,808.0 L912.9,807.9 L915.9,807.9 L918.9,807.7 L921.9,807.7 L924.9,807.6 L927.9,807.9 L930.9,807.6 L933.9,807.6 L936.9,808.1 L939.9,807.7 L942.9,808.1 L945.9,807.8 L948.9,807.9 L951.9,807.8 L954.9,807.6 L957.9,807.9 L960.9,807.6 L963.9,807.7 L966.9,807.5 L969.9,807.5 L972.9,807.7 L975.9,807.5 L978.9,807.7 L981.9,808.0 L984.9,808.0 L987.9,807.7 L990.9,807.5 L993.9,807.6 L996.9,807.5 L999.9,807.6 L1002.9,807.8 L1005.9,807.8 L1008.9,807.5 L1011.9,807.7 L1014.9,807.7 L1017.9,807.7 L1020.9,807.5 L1023.9,807.7 L1026.9,807.5 L1029.9,807.8 L1032.9,807.8 L1035.9,807.8 L1038.9,807.7 L1041.9,808.0 L1044.9,807.6 L1047.9,807.5 L1050.9,807.6 L1053.9,808.0 L1056.9,807.5 L1059.9,807.9 L1062.9,808.0 L1065.9,807.9 L1068.9,807.7 L1071.9,807.7 L1074.9,807.9 L1077.9,807.8 L1080.9,807.9 L1083.9,807.5 L1086.9,807.8 L1089.9,807.8 L1092.9,807.5 L1095.9,807.5 L1098.9,807.9 L1101.9,807.7 L1104.9,807.6 L1107.9,807.7 L1110.9,807.5 L1113.9,807.5 L1116.9,807.4 L1119.9,807.6 L1122.9,807.5 L1125.9,807.9 L1128.9,807.9 L1131.9,807.7 L1134.9,807.4 L1137.9,807.7 L1140.9,807.5 L1143.9,807.6 L1146.9,807.4 L1149.9,807.7 L1152.9,807.4 L1155.9,807.5 L1158.9,807.5 L1161.9,807.6 L1164.9,807.9 L1167.9,807.7 L1170.9,807.8 L1173.9,807.8 L1176.9,807.7 L1179.9,807.4 L1182.9,807.4 L1185.9,807.4 L1188.9,807.7 L1191.9,807.5 L1194.9,807.9 L1197.9,807.5 L1200.9,807.4 L1203.9,807.7 L1206.9,807.7 L1209.9,807.4 L1212.9,807.5 L1215.9,807.6 L1218.9,807.8 L1221.9,807.8 L1224.9,807.9 L1227.9,807.6 L1230.9,807.9 L1233.9,807.6 L1236.9,807.5 L1239.9,807.4 L1242.9,807.8 L1245.9,807.7 L1248.9,807.7 L1251.9,807.9 L1254.9,807.7 L1257.9,807.5 L1260.9,807.7 L1263.9,807.9 L1266.9,807.4 L1269.9,807.9 L1272.9,807.6 L1275.9,807.4 L1278.9,807.6 L1281.9,807.8 L1284.9,807.6 L1287.9,807.5 L1290.9,807.8 L1293.9,807.4 L1296.9,807.7 L1299.9,807.5 L1302.9,807.7 L1305.9,807.6 L1308.9,807.5 L1311.9,807.4 L1314.9,807.8 L1317.9,807.6 L1320.9,807.4 L1323.9,807.6 L1326.9,807.7 L1329.9,807.3 L1332.9,807.5 L1335.9,807.4 L1338.9,807.7 L1341.9,807.3 L1344.9,807.8 L1347.9,807.6 L1350.9,807.6 L1353.9,807.6 L1356.9,807.4 L1359.9,807.5 L1362.9,807.4 L1365.9,807.5 L1368.9,807.6 L1371.9,807.6 L1374.9,807.4 L1377.9,807.6 L1380.9,807.7 L1383.9,807.7 L1386.9,807.2 L1389.9,807.5 L1392.9,807.3 L1395.9,807.7 L1398.9,807.6 L1401.9,807.5 L1404.9,807.6 L1407.9,807.5 L1410.9,807.4 L1413.9,807.8 L1416.9,807.3 L1419.9,807.3 L1422.9,807.4 L1425.9,807.3 L1428.9,807.4 L1431.9,807.6 L1434.9,807.5 L1437.9,807.8 L1440.9,807.4 L1443.9,807.8 L1446.9,807.8 L1449.9,807.5 L1452.9,807.7 L1455.9,807.3 L1458.9,807.8 L1461.9,807.5 L1464.9,807.4 L1467.9,807.8 L1470.9,807.4 L1473.9,807.3 L1476.9,807.2 L1479.9,807.7 L1482.9,805.8 L1484.0,804.8 L1485.9,804.8 L1488.9,804.4 L1491.9,803.5 L1494.9,803.2 L1497.9,802.8 L1500.9,802.9 L1503.9,803.1 L1506.9,803.0 L1509.9,802.7 L1512.9,802.7 L1515.9,802.3 L1518.9,802.7 L1520.0,802.8 L1521.9,802.7 L1524.9,802.6 L1527.9,802.8 L1530.9,803.3 L1533.9,803.5 L1536.0,803.6 L1536.9,803.9 L1539.9,804.0 L1542.9,804.6 L1545.9,805.3 L1548.0,805.9 L1548.9,805.7 L1551.9,805.9 L1554.9,805.9 L1557.9,806.3 L1560.9,806.2 L1562.0,806.0 L1563.9,804.7 L1566.0,802.8 L1566.9,803.2 L1569.9,802.3 L1572.9,802.1 L1575.0,802.0 L1575.9,801.7 L1578.9,799.7 L1581.9,797.5 L1584.9,798.5 L1587.9,799.3 L1590.0,799.6 L1590.9,799.5 L1593.9,800.5 L1596.9,801.1 L1598.0,801.4 L1599.9,800.8 L1602.9,800.7 L1605.9,800.5 L1608.7,800.7" fill="none" stroke="#cfc784" stroke-width="1.25" stroke-linejoin="round"/><path d="M873.9,807.8 L1560.0,807.6 L1570.0,806.8 L1608.7,806.6" fill="none" stroke="#8fa0c0" stroke-width="1.25" stroke-linejoin="round"/><path d="M873.9,808.1 L880.0,808.1 L886.1,808.2 L892.2,808.2 L898.3,808.1 L904.4,808.1 L910.5,808.1 L916.6,808.3 L922.7,808.1 L928.8,808.3 L934.9,808.2 L941.0,808.1 L947.1,808.2 L953.2,808.2 L959.3,808.2 L965.4,808.3 L971.5,808.1 L977.6,808.1 L983.7,808.3 L989.8,808.2 L995.9,808.1 L1002.0,808.2 L1008.1,808.2 L1014.2,808.3 L1020.3,808.1 L1026.4,808.1 L1032.5,808.2 L1038.6,808.2 L1044.7,808.3 L1050.8,808.3 L1056.9,808.2 L1063.0,808.1 L1069.1,808.3 L1075.2,808.3 L1081.3,808.1 L1087.4,808.3 L1093.5,808.3 L1099.6,808.2 L1105.7,808.1 L1111.8,808.3 L1117.9,808.3 L1124.0,808.1 L1130.1,808.2 L1136.2,808.1 L1142.3,808.1 L1148.4,808.2 L1154.5,808.2 L1160.6,808.2 L1166.7,808.2 L1172.8,808.3 L1178.9,808.3 L1185.0,808.3 L1191.1,808.3 L1197.2,808.3 L1203.3,808.2 L1209.4,808.1 L1215.5,808.2 L1221.6,808.2 L1227.7,808.2 L1233.8,808.1 L1239.9,808.1 L1246.0,808.3 L1252.1,808.2 L1258.2,808.2 L1264.3,808.1 L1270.4,808.2 L1276.5,808.3 L1282.6,808.2 L1288.7,808.3 L1294.8,808.1 L1300.9,808.2 L1307.0,808.3 L1313.1,808.2 L1319.2,808.3 L1325.3,808.2 L1331.4,808.1 L1337.5,808.1 L1343.6,808.3 L1349.7,808.1 L1355.8,808.1 L1361.9,808.2 L1368.0,808.3 L1374.1,808.3 L1380.2,808.2 L1386.3,808.2 L1392.4,808.3 L1398.5,808.1 L1404.6,808.2 L1410.7,808.2 L1416.8,808.2 L1422.9,808.1 L1429.0,808.1 L1435.1,808.1 L1441.2,808.3 L1447.3,808.2 L1453.4,808.3 L1459.5,808.3 L1465.6,808.1 L1471.7,808.3 L1477.8,808.3 L1483.9,808.2 L1490.0,808.1 L1496.1,808.2 L1502.2,808.1 L1508.3,808.1 L1514.4,808.1 L1520.5,808.1 L1526.6,808.3 L1532.7,808.1 L1538.8,808.2 L1544.9,808.1 L1551.0,808.1 L1557.1,808.3 L1563.2,808.2 L1569.3,808.1 L1575.4,808.2 L1581.5,808.2 L1587.6,808.2 L1593.7,808.3 L1599.8,808.2 L1608.7,808.2" fill="none" stroke="#e6dfc6" stroke-width="1.25" stroke-linejoin="round"/><text x="869.4" y="714.2" font-size="10.8" text-anchor="end" fill="#ccccdc" font-weight="400" dominant-baseline="central">200 kB/s</text><text x="869.4" y="761" font-size="10.8" text-anchor="end" fill="#ccccdc" font-weight="400" dominant-baseline="central">100 kB/s</text><text x="869.4" y="808.3" font-size="10.8" text-anchor="end" fill="#ccccdc" font-weight="400" dominant-baseline="central">0 B/s</text><text x="902.4" y="820.2" font-size="10.5" text-anchor="middle" fill="#ccccdc" font-weight="400" dominant-baseline="central">15:00</text><text x="963.8" y="820.2" font-size="10.5" text-anchor="middle" fill="#ccccdc" font-weight="400" dominant-baseline="central">15:05</text><text x="1025.1" y="820.2" font-size="10.5" text-anchor="middle" fill="#ccccdc" font-weight="400" dominant-baseline="central">15:10</text><text x="1086.5" y="820.2" font-size="10.5" text-anchor="middle" fill="#ccccdc" font-weight="400" dominant-baseline="central">15:15</text><text x="1147.9" y="820.2" font-size="10.5" text-anchor="middle" fill="#ccccdc" font-weight="400" dominant-baseline="central">15:20</text><text x="1209.2" y="820.2" font-size="10.5" text-anchor="middle" fill="#ccccdc" font-weight="400" dominant-baseline="central">15:25</text><text x="1270.6" y="820.2" font-size="10.5" text-anchor="middle" fill="#ccccdc" font-weight="400" dominant-baseline="central">15:30</text><text x="1332.0" y="820.2" font-size="10.5" text-anchor="middle" fill="#ccccdc" font-weight="400" dominant-baseline="central">15:35</text><text x="1393.4" y="820.2" font-size="10.5" text-anchor="middle" fill="#ccccdc" font-weight="400" dominant-baseline="central">15:40</text><text x="1454.7" y="820.2" font-size="10.5" text-anchor="middle" fill="#ccccdc" font-weight="400" dominant-baseline="central">15:45</text><text x="1516.1" y="820.2" font-size="10.5" text-anchor="middle" fill="#ccccdc" font-weight="400" dominant-baseline="central">15:50</text><text x="1577.5" y="820.2" font-size="10.5" text-anchor="middle" fill="#ccccdc" font-weight="400" dominant-baseline="central">15:55</text></svg><div class="abs" style="left:1089px;top:93px;width:514px;height:209px;overflow:hidden"><div class="abs" style="left:-1089px;top:-93px;width:1630px;height:826px"><div style="position:absolute;left:1205.49px;top:98.00px;line-height:1;font-size:11.2px;color:#d0d0dc;white-space:nowrap;transform:scaleX(1.0071);transform-origin:0 0;-webkit-text-stroke:0.12px #d0d0dc">postgres</div><div class="abs" style="left:1257px;top:96.8px;width:288.0px;height:13.3px;background:#22252b;border-radius:3px"></div><div class="abs" style="left:1257px;top:96.8px;width:13.0px;height:13.3px;background:#73BF69;border-radius:3px"></div><div style="position:absolute;left:1556.40px;top:97.00px;line-height:1;font-size:13.6px;color:#73BF69;white-space:nowrap;transform:scaleX(1.0474);transform-origin:0 0;-webkit-text-stroke:0.1px #73BF69">4.98%</div><div style="position:absolute;left:1234.50px;top:119.67px;line-height:1;font-size:11.2px;color:#d0d0dc;white-space:nowrap;transform:scaleX(1.0214);transform-origin:0 0;-webkit-text-stroke:0.12px #d0d0dc">oci</div><div class="abs" style="left:1257px;top:118.5px;width:288.6px;height:13.3px;background:#22252b;border-radius:3px"></div><div class="abs" style="left:1257px;top:118.5px;width:10.2px;height:13.3px;background:#73BF69;border-radius:3px"></div><div style="position:absolute;left:1555.63px;top:118.67px;line-height:1;font-size:13.6px;color:#73BF69;white-space:nowrap;transform:scaleX(1.0676);transform-origin:0 0;-webkit-text-stroke:0.1px #73BF69">3.87%</div><div style="position:absolute;left:1230.67px;top:141.34px;line-height:1;font-size:11.2px;color:#d0d0dc;white-space:nowrap;transform:scaleX(1.1333);transform-origin:0 0;-webkit-text-stroke:0.12px #d0d0dc">loki</div><div class="abs" style="left:1257px;top:140.1px;width:288.0px;height:13.3px;background:#22252b;border-radius:3px"></div><div class="abs" style="left:1257px;top:140.1px;width:8.6px;height:13.3px;background:#73BF69;border-radius:3px"></div><div style="position:absolute;left:1554.61px;top:140.34px;line-height:1;font-size:13.6px;color:#73BF69;white-space:nowrap;transform:scaleX(1.0946);transform-origin:0 0;-webkit-text-stroke:0.1px #73BF69">3.44%</div><div style="position:absolute;left:1211.60px;top:163.01px;line-height:1;font-size:11.2px;color:#d0d0dc;white-space:nowrap;transform:scaleX(0.9789);transform-origin:0 0;-webkit-text-stroke:0.12px #d0d0dc">grafana</div><div class="abs" style="left:1257px;top:161.8px;width:289.0px;height:13.3px;background:#22252b;border-radius:3px"></div><div class="abs" style="left:1257px;top:161.8px;width:6.9px;height:13.3px;background:#73BF69;border-radius:3px"></div><div style="position:absolute;left:1555.63px;top:162.01px;line-height:1;font-size:13.6px;color:#73BF69;white-space:nowrap;transform:scaleX(1.0676);transform-origin:0 0;-webkit-text-stroke:0.1px #73BF69">2.65%</div><div style="position:absolute;left:1229.42px;top:184.68px;line-height:1;font-size:11.2px;color:#d0d0dc;white-space:nowrap;transform:scaleX(1.0765);transform-origin:0 0;-webkit-text-stroke:0.12px #d0d0dc">n8n</div><div class="abs" style="left:1257px;top:183.5px;width:292.0px;height:13.3px;background:#22252b;border-radius:3px"></div><div class="abs" style="left:1257px;top:183.5px;width:5.2px;height:13.3px;background:#73BF69;border-radius:1px"></div><div style="position:absolute;left:1558.82px;top:183.68px;line-height:1;font-size:13.6px;color:#73BF69;white-space:nowrap;transform:scaleX(0.9838);transform-origin:0 0;-webkit-text-stroke:0.1px #73BF69">1.76%</div><div style="position:absolute;left:1225.00px;top:206.35px;line-height:1;font-size:11.2px;color:#d0d0dc;white-space:nowrap;transform:scaleX(0.9917);transform-origin:0 0;-webkit-text-stroke:0.12px #d0d0dc">gitea</div><div class="abs" style="left:1257px;top:205.2px;width:291.0px;height:13.3px;background:#22252b;border-radius:3px"></div><div class="abs" style="left:1257px;top:205.2px;width:4.2px;height:13.3px;background:#73BF69;border-radius:1px"></div><div style="position:absolute;left:1557.38px;top:205.35px;line-height:1;font-size:13.6px;color:#73BF69;white-space:nowrap;transform:scaleX(1.0216);transform-origin:0 0;-webkit-text-stroke:0.1px #73BF69">1.64%</div><div style="position:absolute;left:1190.31px;top:228.02px;line-height:1;font-size:11.2px;color:#d0d0dc;white-space:nowrap;transform:scaleX(0.9914);transform-origin:0 0;-webkit-text-stroke:0.12px #d0d0dc">prometheus</div><div class="abs" style="left:1257px;top:226.8px;width:291.0px;height:13.3px;background:#22252b;border-radius:3px"></div><div class="abs" style="left:1257px;top:226.8px;width:3.2px;height:13.3px;background:#73BF69;border-radius:1px"></div><div style="position:absolute;left:1557.38px;top:227.02px;line-height:1;font-size:13.6px;color:#73BF69;white-space:nowrap;transform:scaleX(1.0216);transform-origin:0 0;-webkit-text-stroke:0.1px #73BF69">1.00%</div><div style="position:absolute;left:1184.60px;top:249.69px;line-height:1;font-size:11.2px;color:#d0d0dc;white-space:nowrap;transform:scaleX(0.9727);transform-origin:0 0;-webkit-text-stroke:0.12px #d0d0dc">alertmanager</div><div class="abs" style="left:1257px;top:248.5px;width:280.0px;height:13.3px;background:#22252b;border-radius:3px"></div><div class="abs" style="left:1257px;top:248.5px;width:2.0px;height:13.3px;background:#73BF69;border-radius:1px"></div><div style="position:absolute;left:1548.00px;top:248.69px;line-height:1;font-size:13.6px;color:#73BF69;white-space:nowrap;transform:scaleX(1.0478);transform-origin:0 0;-webkit-text-stroke:0.1px #73BF69">0.250%</div><div style="position:absolute;left:1095.89px;top:271.36px;line-height:1;font-size:11.2px;color:#d0d0dc;white-space:nowrap;transform:scaleX(1.0127);transform-origin:0 0;-webkit-text-stroke:0.12px #d0d0dc">node-exporter-nkeysworld-obs</div><div class="abs" style="left:1257px;top:270.2px;width:283.5px;height:13.3px;background:#22252b;border-radius:3px"></div><div class="abs" style="left:1257px;top:270.2px;width:2.0px;height:13.3px;background:#73BF69;border-radius:1px"></div><div style="position:absolute;left:1551.70px;top:270.36px;line-height:1;font-size:13.6px;color:#73BF69;white-space:nowrap;transform:scaleX(0.9674);transform-origin:0 0;-webkit-text-stroke:0.1px #73BF69">0.186%</div><div style="position:absolute;left:1182.89px;top:293.03px;line-height:1;font-size:11.2px;color:#d0d0dc;white-space:nowrap;transform:scaleX(1.0141);transform-origin:0 0;-webkit-text-stroke:0.12px #d0d0dc">baekjoon-bot</div><div class="abs" style="left:1257px;top:291.8px;width:287.0px;height:13.3px;background:#22252b;border-radius:3px"></div><div class="abs" style="left:1257px;top:291.8px;width:2.0px;height:13.3px;background:#73BF69;border-radius:1px"></div><div style="position:absolute;left:1555.00px;top:292.03px;line-height:1;font-size:13.6px;color:#73BF69;white-space:nowrap;transform:scaleX(0.8957);transform-origin:0 0;-webkit-text-stroke:0.1px #73BF69">0.161%</div></div></div><div class="abs" style="left:1604px;top:96.8px;width:13px;height:205px;background:#2b2b2b"></div><div class="abs" style="left:1607.2px;top:111.3px;width:7.5px;height:112.7px;background:#9e9e9e;border-radius:4px"></div><svg style="left:0;top:0" width="1630" height="826" viewBox="0 0 1630 826"><path d="M1607,106.5 L1614.2,106.5 L1610.6,100.8 Z" fill="#a8a8a8"/><path d="M1607,293.8 L1614.2,293.8 L1610.6,299.5 Z" fill="#a8a8a8"/></svg><div class="abs" style="left:1089px;top:378px;width:514px;height:209px;overflow:hidden"><div class="abs" style="left:-1089px;top:-378px;width:1630px;height:826px"><div style="position:absolute;left:1211.60px;top:383.00px;line-height:1;font-size:11.2px;color:#d0d0dc;white-space:nowrap;transform:scaleX(0.9789);transform-origin:0 0;-webkit-text-stroke:0.12px #d0d0dc">grafana</div><div class="abs" style="left:1257px;top:381.8px;width:280.0px;height:13.3px;background:#22252b;border-radius:3px"></div><div class="abs" style="left:1257px;top:381.8px;width:255.9px;height:13.3px;background:#73BF69;border-radius:3px"></div><div style="position:absolute;left:1548.63px;top:382.00px;line-height:1;font-size:13.6px;color:#73BF69;white-space:nowrap;transform:scaleX(0.9708);transform-origin:0 0;-webkit-text-stroke:0.1px #73BF69">212 MiB</div><div style="position:absolute;left:1190.31px;top:404.67px;line-height:1;font-size:11.2px;color:#d0d0dc;white-space:nowrap;transform:scaleX(0.9914);transform-origin:0 0;-webkit-text-stroke:0.12px #d0d0dc">prometheus</div><div class="abs" style="left:1257px;top:403.5px;width:280.0px;height:13.3px;background:#22252b;border-radius:3px"></div><div class="abs" style="left:1257px;top:403.5px;width:197.5px;height:13.3px;background:#73BF69;border-radius:3px"></div><div style="position:absolute;left:1548.63px;top:403.67px;line-height:1;font-size:13.6px;color:#73BF69;white-space:nowrap;transform:scaleX(0.9708);transform-origin:0 0;-webkit-text-stroke:0.1px #73BF69">165 MiB</div><div style="position:absolute;left:1230.67px;top:426.34px;line-height:1;font-size:11.2px;color:#d0d0dc;white-space:nowrap;transform:scaleX(1.1333);transform-origin:0 0;-webkit-text-stroke:0.12px #d0d0dc">loki</div><div class="abs" style="left:1257px;top:425.1px;width:280.0px;height:13.3px;background:#22252b;border-radius:3px"></div><div class="abs" style="left:1257px;top:425.1px;width:154.6px;height:13.3px;background:#73BF69;border-radius:3px"></div><div style="position:absolute;left:1548.02px;top:425.34px;line-height:1;font-size:13.6px;color:#73BF69;white-space:nowrap;transform:scaleX(0.9833);transform-origin:0 0;-webkit-text-stroke:0.1px #73BF69">129 MiB</div><div style="position:absolute;left:1229.42px;top:448.01px;line-height:1;font-size:11.2px;color:#d0d0dc;white-space:nowrap;transform:scaleX(1.0765);transform-origin:0 0;-webkit-text-stroke:0.12px #d0d0dc">n8n</div><div class="abs" style="left:1257px;top:446.8px;width:275.0px;height:13.3px;background:#22252b;border-radius:3px"></div><div class="abs" style="left:1257px;top:446.8px;width:108.8px;height:13.3px;background:#73BF69;border-radius:3px"></div><div style="position:absolute;left:1542.18px;top:447.01px;line-height:1;font-size:13.6px;color:#73BF69;white-space:nowrap;transform:scaleX(1.0192);transform-origin:0 0;-webkit-text-stroke:0.1px #73BF69">92.7 MiB</div><div style="position:absolute;left:1225.00px;top:469.68px;line-height:1;font-size:11.2px;color:#d0d0dc;white-space:nowrap;transform:scaleX(0.9917);transform-origin:0 0;-webkit-text-stroke:0.12px #d0d0dc">gitea</div><div class="abs" style="left:1257px;top:468.5px;width:276.8px;height:13.3px;background:#22252b;border-radius:3px"></div><div class="abs" style="left:1257px;top:468.5px;width:89.5px;height:13.3px;background:#73BF69;border-radius:3px"></div><div style="position:absolute;left:1544.63px;top:468.68px;line-height:1;font-size:13.6px;color:#73BF69;white-space:nowrap;transform:scaleX(0.9731);transform-origin:0 0;-webkit-text-stroke:0.1px #73BF69">77.0 MiB</div><div style="position:absolute;left:1205.49px;top:491.35px;line-height:1;font-size:11.2px;color:#d0d0dc;white-space:nowrap;transform:scaleX(1.0071);transform-origin:0 0;-webkit-text-stroke:0.12px #d0d0dc">postgres</div><div class="abs" style="left:1257px;top:490.1px;width:277.0px;height:13.3px;background:#22252b;border-radius:3px"></div><div class="abs" style="left:1257px;top:490.1px;width:53.8px;height:13.3px;background:#73BF69;border-radius:3px"></div><div style="position:absolute;left:1545.00px;top:490.35px;line-height:1;font-size:13.6px;color:#73BF69;white-space:nowrap;transform:scaleX(0.9660);transform-origin:0 0;-webkit-text-stroke:0.1px #73BF69">47.6 MiB</div><div style="position:absolute;left:1234.50px;top:513.02px;line-height:1;font-size:11.2px;color:#d0d0dc;white-space:nowrap;transform:scaleX(1.0214);transform-origin:0 0;-webkit-text-stroke:0.12px #d0d0dc">oci</div><div class="abs" style="left:1257px;top:511.8px;width:273.4px;height:13.3px;background:#22252b;border-radius:3px"></div><div class="abs" style="left:1257px;top:511.8px;width:46.7px;height:13.3px;background:#73BF69;border-radius:3px"></div><div style="position:absolute;left:1542.20px;top:512.02px;line-height:1;font-size:13.6px;color:#73BF69;white-space:nowrap;transform:scaleX(1.0189);transform-origin:0 0;-webkit-text-stroke:0.1px #73BF69">42.2 MiB</div><div style="position:absolute;left:1184.60px;top:534.69px;line-height:1;font-size:11.2px;color:#d0d0dc;white-space:nowrap;transform:scaleX(0.9727);transform-origin:0 0;-webkit-text-stroke:0.12px #d0d0dc">alertmanager</div><div class="abs" style="left:1257px;top:533.5px;width:278.0px;height:13.3px;background:#22252b;border-radius:3px"></div><div class="abs" style="left:1257px;top:533.5px;width:22.0px;height:13.3px;background:#73BF69;border-radius:3px"></div><div style="position:absolute;left:1544.63px;top:533.69px;line-height:1;font-size:13.6px;color:#73BF69;white-space:nowrap;transform:scaleX(0.9731);transform-origin:0 0;-webkit-text-stroke:0.1px #73BF69">21.6 MiB</div><div style="position:absolute;left:1118.49px;top:556.36px;line-height:1;font-size:11.2px;color:#d0d0dc;white-space:nowrap;transform:scaleX(1.0102);transform-origin:0 0;-webkit-text-stroke:0.12px #d0d0dc">node-exporter-nkeysworld</div><div class="abs" style="left:1257px;top:555.2px;width:278.0px;height:13.3px;background:#22252b;border-radius:3px"></div><div class="abs" style="left:1257px;top:555.2px;width:18.7px;height:13.3px;background:#73BF69;border-radius:3px"></div><div style="position:absolute;left:1544.63px;top:555.36px;line-height:1;font-size:13.6px;color:#73BF69;white-space:nowrap;transform:scaleX(0.9731);transform-origin:0 0;-webkit-text-stroke:0.1px #73BF69">19.2 MiB</div><div style="position:absolute;left:1188.60px;top:578.03px;line-height:1;font-size:11.2px;color:#d0d0dc;white-space:nowrap;transform:scaleX(1.0033);transform-origin:0 0;-webkit-text-stroke:0.12px #d0d0dc">gitea-runner</div><div class="abs" style="left:1257px;top:576.8px;width:277.0px;height:13.3px;background:#22252b;border-radius:3px"></div><div class="abs" style="left:1257px;top:576.8px;width:13.0px;height:13.3px;background:#73BF69;border-radius:3px"></div><div style="position:absolute;left:1543.61px;top:577.03px;line-height:1;font-size:13.6px;color:#73BF69;white-space:nowrap;transform:scaleX(0.9923);transform-origin:0 0;-webkit-text-stroke:0.1px #73BF69">14.4 MiB</div></div></div><div class="abs" style="left:1604px;top:381.8px;width:13px;height:205px;background:#2b2b2b"></div><div class="abs" style="left:1607.2px;top:397.4px;width:7.5px;height:111.29999999999998px;background:#9e9e9e;border-radius:4px"></div><svg style="left:0;top:0" width="1630" height="826" viewBox="0 0 1630 826"><path d="M1607,391.5 L1614.2,391.5 L1610.6,385.8 Z" fill="#a8a8a8"/><path d="M1607,578.8 L1614.2,578.8 L1610.6,584.5 Z" fill="#a8a8a8"/></svg></body></html>
